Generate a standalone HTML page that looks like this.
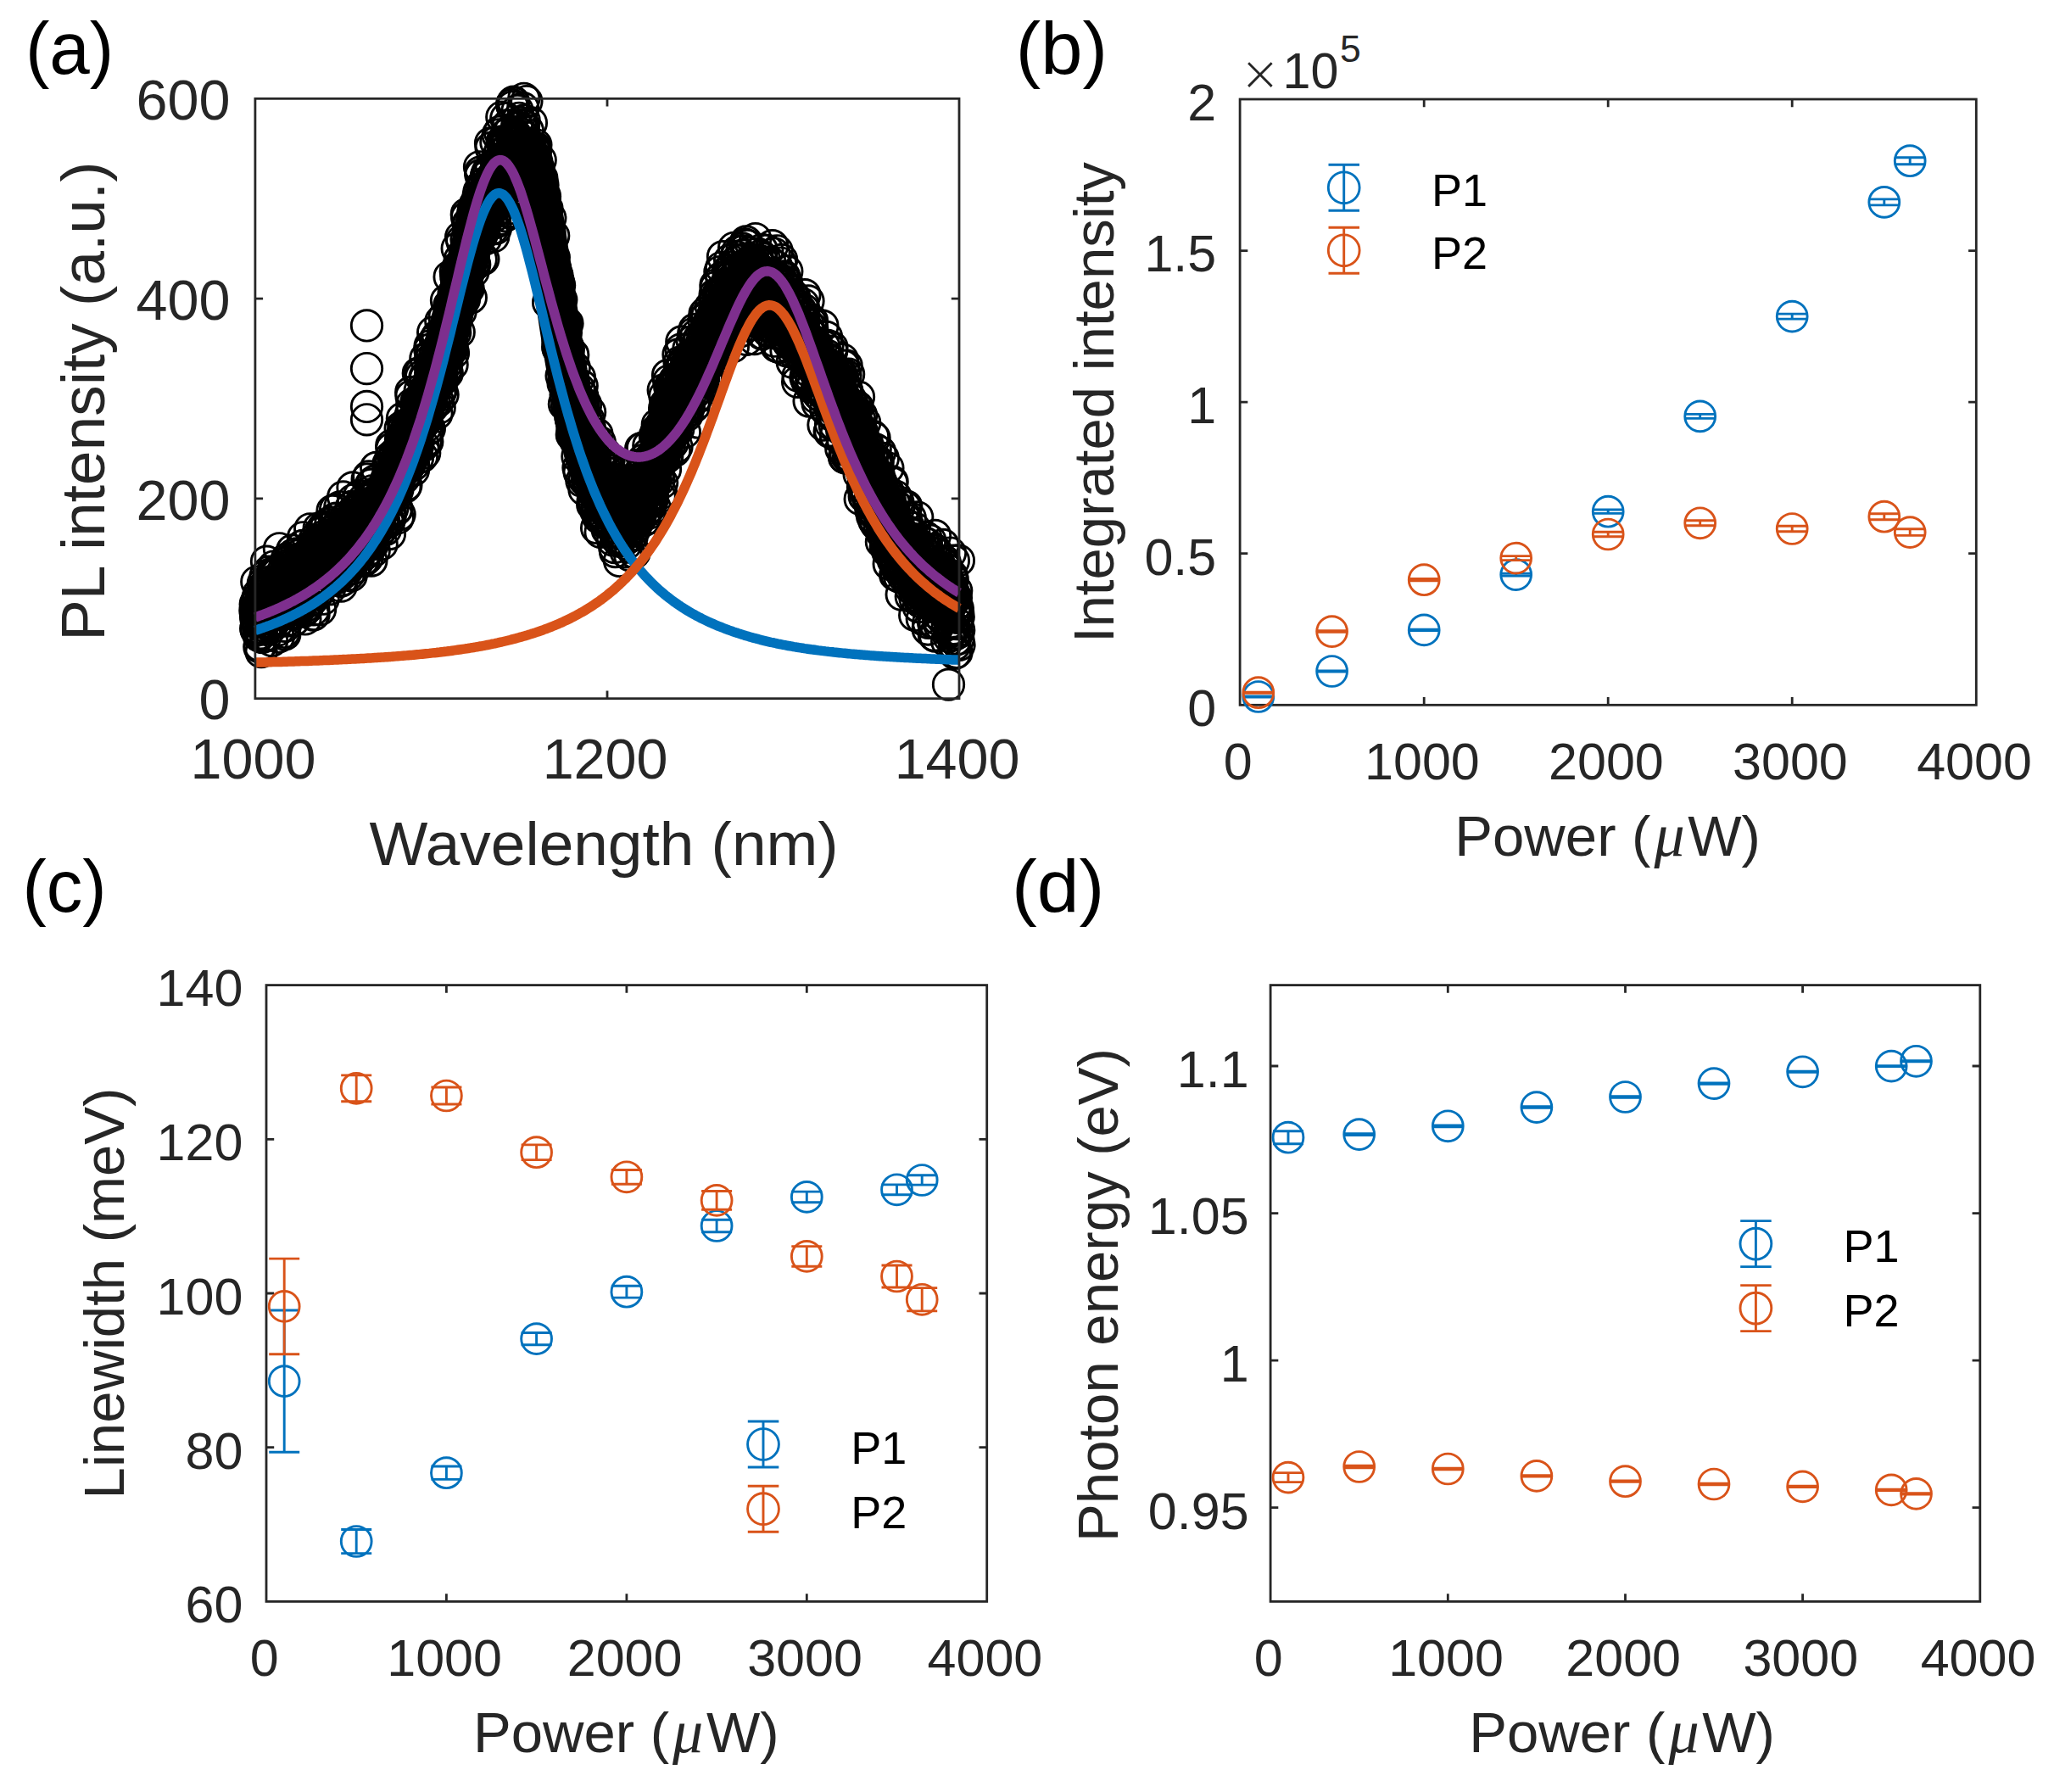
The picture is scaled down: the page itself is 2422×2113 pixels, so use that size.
<!DOCTYPE html>
<html><head><meta charset="utf-8"><title>Figure</title>
<style>html,body{margin:0;padding:0;background:#fff}svg{display:block}</style>
</head><body>
<svg width="2422" height="2113" viewBox="0 0 2422 2113" font-family="'Liberation Sans', Arial, Helvetica, sans-serif">
<rect width="2422" height="2113" fill="#fff"/>
<g id="pa">
<polyline points="300.9,719.9 303.7,718.1 306.4,716.3 309.2,714.5 312,712.6 314.7,710.8 317.5,708.9 320.3,707 323,705 325.8,703.1 328.6,701.2 331.3,699.2 334.1,697.2 336.9,695.2 339.7,693.2 342.4,691.1 345.2,689.1 348,687 350.7,685 353.5,682.9 356.3,680.8 359,678.7 361.8,676.6 364.6,674.5 367.3,672.3 370.1,670.2 372.9,668 375.6,665.8 378.4,663.6 381.2,661.4 383.9,659.1 386.7,656.8 389.5,654.4 392.2,652 395,649.5 397.8,647 400.5,644.5 403.3,641.9 406.1,639.3 408.8,636.6 411.6,634 414.4,631.3 417.2,628.6 419.9,625.9 422.7,623 425.5,620.1 428.2,617.1 431,614.1 433.8,610.9 436.5,607.6 439.3,604.2 442.1,600.6 444.8,596.9 447.6,593 450.4,589 453.1,584.7 455.9,580.2 458.7,575.4 461.4,570.3 464.2,565 467,559.4 469.7,553.6 472.5,547.6 475.3,541.4 478,535 480.8,528.4 483.6,521.7 486.4,514.8 489.1,507.8 491.9,500.6 494.7,493.4 497.4,486 500.2,478.5 503,471 505.7,463.3 508.5,455.7 511.3,447.7 514,439.4 516.8,430.6 519.6,421.5 522.3,412.2 525.1,402.6 527.9,392.8 530.6,382.9 533.4,372.9 536.2,362.9 538.9,352.9 541.7,342.9 544.5,333.1 547.2,323.3 550,313.1 552.8,302.5 555.5,291.9 558.3,281.5 561.1,271.5 563.9,262.3 566.6,254 569.4,246.5 572.2,239.4 574.9,232.7 577.7,226.5 580.5,220.6 583.2,215.2 586,209.9 588.8,204.7 591.5,199.9 594.3,195.4 597.1,191.4 599.8,188.1 602.6,185 605.4,182 608.1,179.3 610.9,177.4 613.7,176.5 616.4,177 619.2,179.2 622,182.6 624.7,187.1 627.5,192.3 630.3,201.8 633.1,215 635.8,229.8 638.6,244.7 641.4,261.5 644.1,279.8 646.9,298.8 649.7,317.7 652.4,335.6 655.2,353.2 658,371.2 660.7,389.2 663.5,406.7 666.3,423.5 669,439.1 671.8,453.2 674.6,465.8 677.3,477.7 680.1,488.9 682.9,499.5 685.6,509.6 688.4,519.1 691.2,528.2 693.9,536.9 696.7,545.4 699.5,554 702.2,562.5 705,570.7 707.8,578.3 710.6,584.9 713.3,590.2 716.1,593.9 718.9,596.9 721.6,599.6 724.4,602.1 727.2,604.3 729.9,606 732.7,607.2 735.5,607.9 738.2,607.7 741,605.9 743.8,602.8 746.5,598.9 749.3,594.4 752.1,589.9 754.8,585.4 757.6,580.2 760.4,574.4 763.1,568.1 765.9,561.4 768.7,554.4 771.4,547.4 774.2,540.3 777,532.8 779.8,524.5 782.5,515.6 785.3,506.5 788.1,497.4 790.8,488.7 793.6,480.6 796.4,473.4 799.1,467.4 801.9,462.8 804.7,459.3 807.4,456.3 810.2,453.7 813,451.2 815.7,448.5 818.5,445.5 821.3,442.1 824,438.6 826.8,434.8 829.6,430.3 832.3,424.8 835.1,415.6 837.9,402.9 840.6,389.6 843.4,378.8 846.2,372.4 848.9,367.2 851.7,362.7 854.5,358.9 857.3,355.6 860,353 862.8,351 865.6,349 868.3,347.1 871.1,345.4 873.9,343.8 876.6,342.5 879.4,341.5 882.2,340.7 884.9,340.3 887.7,340.4 890.5,340.7 893.2,341.2 896,341.9 898.8,342.8 901.5,343.9 904.3,345.1 907.1,346.3 909.8,348 912.6,350.5 915.4,353.7 918.1,357.3 920.9,361.3 923.7,365.6 926.5,370 929.2,374.5 932,378.8 934.8,382.9 937.5,387.1 940.3,391.5 943.1,396 945.8,400.6 948.6,405.4 951.4,410.2 954.1,415 956.9,419.8 959.7,424.6 962.4,429.4 965.2,434.1 968,438.6 970.7,443.1 973.5,447.3 976.3,451.3 979,455.3 981.8,459.3 984.6,463.4 987.3,467.7 990.1,472.3 992.9,477.2 995.6,482.7 998.4,488.8 1001.2,495.5 1004,502.6 1006.7,510 1009.5,517.5 1012.3,525.2 1015,532.8 1017.8,540.1 1020.6,547.3 1023.3,554.6 1026.1,562 1028.9,569.4 1031.6,576.7 1034.4,583.7 1037.2,590.4 1039.9,596.7 1042.7,602.7 1045.5,608.6 1048.2,614.3 1051,619.8 1053.8,625.1 1056.5,630.3 1059.3,635.4 1062.1,640.3 1064.8,645.2 1067.6,649.9 1070.4,654.3 1073.2,658.5 1075.9,662.2 1078.7,665.7 1081.5,669 1084.2,672.2 1087,675.2 1089.8,678.1 1092.5,680.9 1095.3,683.7 1098.1,686.4 1100.8,689 1103.6,691.7 1106.4,694.3 1109.1,696.9 1111.9,699.4 1114.7,701.9 1117.4,704.3 1120.2,706.6 1123,708.9 1125.7,711.2 1128.5,713.3" fill="none" stroke="#000" stroke-width="48" stroke-linejoin="round"/>
<g fill="none" stroke="#000" stroke-width="2.9">
<circle cx="300.9" cy="719.9" r="18.2"/><circle cx="301.2" cy="712.5" r="18.2"/><circle cx="301.5" cy="726.2" r="18.2"/><circle cx="301.7" cy="741" r="18.2"/><circle cx="302" cy="730.3" r="18.2"/><circle cx="302.3" cy="743.1" r="18.2"/><circle cx="302.6" cy="717.4" r="18.2"/><circle cx="302.8" cy="686.1" r="18.2"/><circle cx="303.1" cy="730.5" r="18.2"/><circle cx="303.4" cy="733.4" r="18.2"/><circle cx="303.7" cy="706.2" r="18.2"/><circle cx="303.9" cy="709.3" r="18.2"/><circle cx="304.2" cy="715.2" r="18.2"/><circle cx="304.5" cy="740.2" r="18.2"/><circle cx="304.8" cy="718.1" r="18.2"/><circle cx="305.1" cy="700.3" r="18.2"/><circle cx="305.3" cy="749.7" r="18.2"/><circle cx="305.6" cy="728" r="18.2"/><circle cx="305.9" cy="762.9" r="18.2"/><circle cx="306.2" cy="747.9" r="18.2"/><circle cx="306.4" cy="761.1" r="18.2"/><circle cx="306.7" cy="721.9" r="18.2"/><circle cx="307" cy="746.8" r="18.2"/><circle cx="307.3" cy="709.2" r="18.2"/><circle cx="307.5" cy="711.8" r="18.2"/><circle cx="307.8" cy="720" r="18.2"/><circle cx="308.1" cy="768.7" r="18.2"/><circle cx="308.4" cy="728.1" r="18.2"/><circle cx="308.7" cy="716" r="18.2"/><circle cx="308.9" cy="711.9" r="18.2"/><circle cx="309.2" cy="751.7" r="18.2"/><circle cx="309.5" cy="725.9" r="18.2"/><circle cx="309.8" cy="737.9" r="18.2"/><circle cx="310" cy="733.6" r="18.2"/><circle cx="310.3" cy="687.9" r="18.2"/><circle cx="310.6" cy="733.2" r="18.2"/><circle cx="310.9" cy="714.2" r="18.2"/><circle cx="311.1" cy="691.7" r="18.2"/><circle cx="311.4" cy="727.2" r="18.2"/><circle cx="311.7" cy="715.5" r="18.2"/><circle cx="312" cy="710" r="18.2"/><circle cx="312.2" cy="710.9" r="18.2"/><circle cx="312.5" cy="742.1" r="18.2"/><circle cx="312.8" cy="710.2" r="18.2"/><circle cx="313.1" cy="678.8" r="18.2"/><circle cx="313.4" cy="749.4" r="18.2"/><circle cx="313.6" cy="690.6" r="18.2"/><circle cx="313.9" cy="708.4" r="18.2"/><circle cx="314.2" cy="726.8" r="18.2"/><circle cx="314.5" cy="662.2" r="18.2"/><circle cx="314.7" cy="692.2" r="18.2"/><circle cx="315" cy="739.8" r="18.2"/><circle cx="315.3" cy="708.6" r="18.2"/><circle cx="315.6" cy="696.2" r="18.2"/><circle cx="315.8" cy="714.6" r="18.2"/><circle cx="316.1" cy="693.2" r="18.2"/><circle cx="316.4" cy="711.3" r="18.2"/><circle cx="316.7" cy="693.2" r="18.2"/><circle cx="317" cy="674.2" r="18.2"/><circle cx="317.2" cy="725.5" r="18.2"/><circle cx="317.5" cy="703.9" r="18.2"/><circle cx="317.8" cy="720" r="18.2"/><circle cx="318.1" cy="705.4" r="18.2"/><circle cx="318.3" cy="737.2" r="18.2"/><circle cx="318.6" cy="722.2" r="18.2"/><circle cx="318.9" cy="712.7" r="18.2"/><circle cx="319.2" cy="685.8" r="18.2"/><circle cx="319.4" cy="679.6" r="18.2"/><circle cx="319.7" cy="739.6" r="18.2"/><circle cx="320" cy="726.5" r="18.2"/><circle cx="320.3" cy="691.2" r="18.2"/><circle cx="320.6" cy="755.4" r="18.2"/><circle cx="320.8" cy="717.9" r="18.2"/><circle cx="321.1" cy="708.8" r="18.2"/><circle cx="321.4" cy="675.6" r="18.2"/><circle cx="321.7" cy="689.2" r="18.2"/><circle cx="321.9" cy="713.8" r="18.2"/><circle cx="322.2" cy="714.6" r="18.2"/><circle cx="322.5" cy="711.5" r="18.2"/><circle cx="322.8" cy="668.1" r="18.2"/><circle cx="323" cy="715.5" r="18.2"/><circle cx="323.3" cy="712.3" r="18.2"/><circle cx="323.6" cy="696.1" r="18.2"/><circle cx="323.9" cy="707.4" r="18.2"/><circle cx="324.2" cy="709.1" r="18.2"/><circle cx="324.4" cy="731.3" r="18.2"/><circle cx="324.7" cy="704.2" r="18.2"/><circle cx="325" cy="714.5" r="18.2"/><circle cx="325.3" cy="675" r="18.2"/><circle cx="325.5" cy="687.4" r="18.2"/><circle cx="325.8" cy="703.7" r="18.2"/><circle cx="326.1" cy="686.6" r="18.2"/><circle cx="326.4" cy="711" r="18.2"/><circle cx="326.6" cy="676.8" r="18.2"/><circle cx="326.9" cy="702.5" r="18.2"/><circle cx="327.2" cy="687.9" r="18.2"/><circle cx="327.5" cy="733.4" r="18.2"/><circle cx="327.7" cy="693.3" r="18.2"/><circle cx="328" cy="742.8" r="18.2"/><circle cx="328.3" cy="751" r="18.2"/><circle cx="328.6" cy="708.6" r="18.2"/><circle cx="328.9" cy="722.9" r="18.2"/><circle cx="329.1" cy="696.8" r="18.2"/><circle cx="329.4" cy="646.8" r="18.2"/><circle cx="329.7" cy="720.7" r="18.2"/><circle cx="330" cy="715.4" r="18.2"/><circle cx="330.2" cy="695" r="18.2"/><circle cx="330.5" cy="687.7" r="18.2"/><circle cx="330.8" cy="703.9" r="18.2"/><circle cx="331.1" cy="704.4" r="18.2"/><circle cx="331.3" cy="682" r="18.2"/><circle cx="331.6" cy="686.3" r="18.2"/><circle cx="331.9" cy="724" r="18.2"/><circle cx="332.2" cy="700.5" r="18.2"/><circle cx="332.5" cy="697.5" r="18.2"/><circle cx="332.7" cy="724" r="18.2"/><circle cx="333" cy="691.6" r="18.2"/><circle cx="333.3" cy="718.8" r="18.2"/><circle cx="333.6" cy="673.8" r="18.2"/><circle cx="333.8" cy="692.7" r="18.2"/><circle cx="334.1" cy="695" r="18.2"/><circle cx="334.4" cy="711.4" r="18.2"/><circle cx="334.7" cy="699.7" r="18.2"/><circle cx="334.9" cy="745.4" r="18.2"/><circle cx="335.2" cy="724.1" r="18.2"/><circle cx="335.5" cy="687.3" r="18.2"/><circle cx="335.8" cy="748" r="18.2"/><circle cx="336.1" cy="675.1" r="18.2"/><circle cx="336.3" cy="738.3" r="18.2"/><circle cx="336.6" cy="676.9" r="18.2"/><circle cx="336.9" cy="715.9" r="18.2"/><circle cx="337.2" cy="675.9" r="18.2"/><circle cx="337.4" cy="691.6" r="18.2"/><circle cx="337.7" cy="732.2" r="18.2"/><circle cx="338" cy="663.8" r="18.2"/><circle cx="338.3" cy="658.9" r="18.2"/><circle cx="338.5" cy="695.6" r="18.2"/><circle cx="338.8" cy="700.5" r="18.2"/><circle cx="339.1" cy="697.5" r="18.2"/><circle cx="339.4" cy="717.2" r="18.2"/><circle cx="339.7" cy="666.3" r="18.2"/><circle cx="339.9" cy="706.3" r="18.2"/><circle cx="340.2" cy="694" r="18.2"/><circle cx="340.5" cy="712" r="18.2"/><circle cx="340.8" cy="707.7" r="18.2"/><circle cx="341" cy="723.4" r="18.2"/><circle cx="341.3" cy="661.2" r="18.2"/><circle cx="341.6" cy="695.5" r="18.2"/><circle cx="341.9" cy="667.9" r="18.2"/><circle cx="342.1" cy="691" r="18.2"/><circle cx="342.4" cy="708.1" r="18.2"/><circle cx="342.7" cy="698.9" r="18.2"/><circle cx="343" cy="704.4" r="18.2"/><circle cx="343.2" cy="690.3" r="18.2"/><circle cx="343.5" cy="699.5" r="18.2"/><circle cx="343.8" cy="697.5" r="18.2"/><circle cx="344.1" cy="723.7" r="18.2"/><circle cx="344.4" cy="709.5" r="18.2"/><circle cx="344.6" cy="649" r="18.2"/><circle cx="344.9" cy="705.7" r="18.2"/><circle cx="345.2" cy="714.9" r="18.2"/><circle cx="345.5" cy="680.6" r="18.2"/><circle cx="345.7" cy="654.2" r="18.2"/><circle cx="346" cy="724.1" r="18.2"/><circle cx="346.3" cy="693.4" r="18.2"/><circle cx="346.6" cy="703.6" r="18.2"/><circle cx="346.8" cy="731" r="18.2"/><circle cx="347.1" cy="669.6" r="18.2"/><circle cx="347.4" cy="688" r="18.2"/><circle cx="347.7" cy="685.5" r="18.2"/><circle cx="348" cy="705.5" r="18.2"/><circle cx="348.2" cy="675.7" r="18.2"/><circle cx="348.5" cy="699.8" r="18.2"/><circle cx="348.8" cy="689.9" r="18.2"/><circle cx="349.1" cy="713.4" r="18.2"/><circle cx="349.3" cy="715.8" r="18.2"/><circle cx="349.6" cy="653" r="18.2"/><circle cx="349.9" cy="698" r="18.2"/><circle cx="350.2" cy="678.2" r="18.2"/><circle cx="350.4" cy="686" r="18.2"/><circle cx="350.7" cy="695.8" r="18.2"/><circle cx="351" cy="697.2" r="18.2"/><circle cx="351.3" cy="669.1" r="18.2"/><circle cx="351.6" cy="691.7" r="18.2"/><circle cx="351.8" cy="687.8" r="18.2"/><circle cx="352.1" cy="683.4" r="18.2"/><circle cx="352.4" cy="654.8" r="18.2"/><circle cx="352.7" cy="666.8" r="18.2"/><circle cx="352.9" cy="673.9" r="18.2"/><circle cx="353.2" cy="696.9" r="18.2"/><circle cx="353.5" cy="716.8" r="18.2"/><circle cx="353.8" cy="659.4" r="18.2"/><circle cx="354" cy="658.7" r="18.2"/><circle cx="354.3" cy="685.7" r="18.2"/><circle cx="354.6" cy="668.7" r="18.2"/><circle cx="354.9" cy="662.6" r="18.2"/><circle cx="355.2" cy="661.2" r="18.2"/><circle cx="355.4" cy="658.8" r="18.2"/><circle cx="355.7" cy="692.4" r="18.2"/><circle cx="356" cy="643.8" r="18.2"/><circle cx="356.3" cy="711.4" r="18.2"/><circle cx="356.5" cy="659.4" r="18.2"/><circle cx="356.8" cy="668.2" r="18.2"/><circle cx="357.1" cy="658.7" r="18.2"/><circle cx="357.4" cy="633.8" r="18.2"/><circle cx="357.6" cy="643.3" r="18.2"/><circle cx="357.9" cy="707.6" r="18.2"/><circle cx="358.2" cy="720.8" r="18.2"/><circle cx="358.5" cy="659" r="18.2"/><circle cx="358.7" cy="703.8" r="18.2"/><circle cx="359" cy="679" r="18.2"/><circle cx="359.3" cy="657.8" r="18.2"/><circle cx="359.6" cy="718.6" r="18.2"/><circle cx="359.9" cy="729.9" r="18.2"/><circle cx="360.1" cy="671.5" r="18.2"/><circle cx="360.4" cy="676.5" r="18.2"/><circle cx="360.7" cy="683.5" r="18.2"/><circle cx="361" cy="676.3" r="18.2"/><circle cx="361.2" cy="698.1" r="18.2"/><circle cx="361.5" cy="714" r="18.2"/><circle cx="361.8" cy="680.7" r="18.2"/><circle cx="362.1" cy="700.3" r="18.2"/><circle cx="362.3" cy="716.6" r="18.2"/><circle cx="362.6" cy="663.5" r="18.2"/><circle cx="362.9" cy="677.2" r="18.2"/><circle cx="363.2" cy="665.5" r="18.2"/><circle cx="363.5" cy="699.6" r="18.2"/><circle cx="363.7" cy="691.3" r="18.2"/><circle cx="364" cy="699.5" r="18.2"/><circle cx="364.3" cy="696.5" r="18.2"/><circle cx="364.6" cy="669.7" r="18.2"/><circle cx="364.8" cy="693.5" r="18.2"/><circle cx="365.1" cy="665.3" r="18.2"/><circle cx="365.4" cy="665.5" r="18.2"/><circle cx="365.7" cy="623.8" r="18.2"/><circle cx="365.9" cy="707.7" r="18.2"/><circle cx="366.2" cy="651.3" r="18.2"/><circle cx="366.5" cy="675.2" r="18.2"/><circle cx="366.8" cy="673.1" r="18.2"/><circle cx="367.1" cy="708.2" r="18.2"/><circle cx="367.3" cy="683.7" r="18.2"/><circle cx="367.6" cy="653.8" r="18.2"/><circle cx="367.9" cy="673.9" r="18.2"/><circle cx="368.2" cy="669.7" r="18.2"/><circle cx="368.4" cy="678.6" r="18.2"/><circle cx="368.7" cy="642.8" r="18.2"/><circle cx="369" cy="671.6" r="18.2"/><circle cx="369.3" cy="725" r="18.2"/><circle cx="369.5" cy="687.7" r="18.2"/><circle cx="369.8" cy="718.9" r="18.2"/><circle cx="370.1" cy="724.4" r="18.2"/><circle cx="370.4" cy="683" r="18.2"/><circle cx="370.7" cy="636.9" r="18.2"/><circle cx="370.9" cy="668.4" r="18.2"/><circle cx="371.2" cy="698.2" r="18.2"/><circle cx="371.5" cy="692.3" r="18.2"/><circle cx="371.8" cy="641" r="18.2"/><circle cx="372" cy="664.8" r="18.2"/><circle cx="372.3" cy="667.3" r="18.2"/><circle cx="372.6" cy="669.6" r="18.2"/><circle cx="372.9" cy="667.1" r="18.2"/><circle cx="373.1" cy="648" r="18.2"/><circle cx="373.4" cy="654" r="18.2"/><circle cx="373.7" cy="662.1" r="18.2"/><circle cx="374" cy="692.9" r="18.2"/><circle cx="374.2" cy="654.3" r="18.2"/><circle cx="374.5" cy="683.6" r="18.2"/><circle cx="374.8" cy="639.5" r="18.2"/><circle cx="375.1" cy="697.6" r="18.2"/><circle cx="375.4" cy="669.5" r="18.2"/><circle cx="375.6" cy="666" r="18.2"/><circle cx="375.9" cy="698.3" r="18.2"/><circle cx="376.2" cy="622.9" r="18.2"/><circle cx="376.5" cy="629.2" r="18.2"/><circle cx="376.7" cy="676.4" r="18.2"/><circle cx="377" cy="645.7" r="18.2"/><circle cx="377.3" cy="655.2" r="18.2"/><circle cx="377.6" cy="718.6" r="18.2"/><circle cx="377.8" cy="657.9" r="18.2"/><circle cx="378.1" cy="665.4" r="18.2"/><circle cx="378.4" cy="661.6" r="18.2"/><circle cx="378.7" cy="690" r="18.2"/><circle cx="379" cy="669.8" r="18.2"/><circle cx="379.2" cy="667.4" r="18.2"/><circle cx="379.5" cy="633.4" r="18.2"/><circle cx="379.8" cy="654.3" r="18.2"/><circle cx="380.1" cy="662.4" r="18.2"/><circle cx="380.3" cy="624.3" r="18.2"/><circle cx="380.6" cy="675.5" r="18.2"/><circle cx="380.9" cy="671.2" r="18.2"/><circle cx="381.2" cy="706.2" r="18.2"/><circle cx="381.4" cy="622.4" r="18.2"/><circle cx="381.7" cy="637.1" r="18.2"/><circle cx="382" cy="638.1" r="18.2"/><circle cx="382.3" cy="644" r="18.2"/><circle cx="382.6" cy="657.5" r="18.2"/><circle cx="382.8" cy="654.7" r="18.2"/><circle cx="383.1" cy="666" r="18.2"/><circle cx="383.4" cy="664.6" r="18.2"/><circle cx="383.7" cy="658" r="18.2"/><circle cx="383.9" cy="621.8" r="18.2"/><circle cx="384.2" cy="645.1" r="18.2"/><circle cx="384.5" cy="660.1" r="18.2"/><circle cx="384.8" cy="672.7" r="18.2"/><circle cx="385" cy="673.9" r="18.2"/><circle cx="385.3" cy="618.3" r="18.2"/><circle cx="385.6" cy="645.2" r="18.2"/><circle cx="385.9" cy="655.8" r="18.2"/><circle cx="386.2" cy="665.8" r="18.2"/><circle cx="386.4" cy="684.4" r="18.2"/><circle cx="386.7" cy="658.4" r="18.2"/><circle cx="387" cy="635" r="18.2"/><circle cx="387.3" cy="666" r="18.2"/><circle cx="387.5" cy="661.7" r="18.2"/><circle cx="387.8" cy="661.3" r="18.2"/><circle cx="388.1" cy="652.9" r="18.2"/><circle cx="388.4" cy="694.8" r="18.2"/><circle cx="388.6" cy="661" r="18.2"/><circle cx="388.9" cy="676" r="18.2"/><circle cx="389.2" cy="632.8" r="18.2"/><circle cx="389.5" cy="673.5" r="18.2"/><circle cx="389.8" cy="639.9" r="18.2"/><circle cx="390" cy="616.2" r="18.2"/><circle cx="390.3" cy="661.5" r="18.2"/><circle cx="390.6" cy="668.3" r="18.2"/><circle cx="390.9" cy="648.5" r="18.2"/><circle cx="391.1" cy="653" r="18.2"/><circle cx="391.4" cy="677.3" r="18.2"/><circle cx="391.7" cy="641.1" r="18.2"/><circle cx="392" cy="602.4" r="18.2"/><circle cx="392.2" cy="658.4" r="18.2"/><circle cx="392.5" cy="656.8" r="18.2"/><circle cx="392.8" cy="677.4" r="18.2"/><circle cx="393.1" cy="643.4" r="18.2"/><circle cx="393.3" cy="681.9" r="18.2"/><circle cx="393.6" cy="678.2" r="18.2"/><circle cx="393.9" cy="618.9" r="18.2"/><circle cx="394.2" cy="672.7" r="18.2"/><circle cx="394.5" cy="623.3" r="18.2"/><circle cx="394.7" cy="612" r="18.2"/><circle cx="395" cy="643.1" r="18.2"/><circle cx="395.3" cy="635.6" r="18.2"/><circle cx="395.6" cy="600.7" r="18.2"/><circle cx="395.8" cy="653.7" r="18.2"/><circle cx="396.1" cy="663.2" r="18.2"/><circle cx="396.4" cy="681.8" r="18.2"/><circle cx="396.7" cy="647" r="18.2"/><circle cx="396.9" cy="611.1" r="18.2"/><circle cx="397.2" cy="623.8" r="18.2"/><circle cx="397.5" cy="670.6" r="18.2"/><circle cx="397.8" cy="668.2" r="18.2"/><circle cx="398.1" cy="659.3" r="18.2"/><circle cx="398.3" cy="639.3" r="18.2"/><circle cx="398.6" cy="651.4" r="18.2"/><circle cx="398.9" cy="640.7" r="18.2"/><circle cx="399.2" cy="638.4" r="18.2"/><circle cx="399.4" cy="652.9" r="18.2"/><circle cx="399.7" cy="646.2" r="18.2"/><circle cx="400" cy="639.9" r="18.2"/><circle cx="400.3" cy="646.8" r="18.2"/><circle cx="400.5" cy="632" r="18.2"/><circle cx="400.8" cy="597.8" r="18.2"/><circle cx="401.1" cy="629.3" r="18.2"/><circle cx="401.4" cy="642.3" r="18.2"/><circle cx="401.7" cy="685.3" r="18.2"/><circle cx="401.9" cy="633.5" r="18.2"/><circle cx="402.2" cy="691.2" r="18.2"/><circle cx="402.5" cy="677.6" r="18.2"/><circle cx="402.8" cy="621.2" r="18.2"/><circle cx="403" cy="624.6" r="18.2"/><circle cx="403.3" cy="645.6" r="18.2"/><circle cx="403.6" cy="684" r="18.2"/><circle cx="403.9" cy="650.6" r="18.2"/><circle cx="404.1" cy="657.9" r="18.2"/><circle cx="404.4" cy="625" r="18.2"/><circle cx="404.7" cy="585.9" r="18.2"/><circle cx="405" cy="634.9" r="18.2"/><circle cx="405.3" cy="659.4" r="18.2"/><circle cx="405.5" cy="668.9" r="18.2"/><circle cx="405.8" cy="640.9" r="18.2"/><circle cx="406.1" cy="643.7" r="18.2"/><circle cx="406.4" cy="667.6" r="18.2"/><circle cx="406.6" cy="635.8" r="18.2"/><circle cx="406.9" cy="667.1" r="18.2"/><circle cx="407.2" cy="610.6" r="18.2"/><circle cx="407.5" cy="611.6" r="18.2"/><circle cx="407.7" cy="610.7" r="18.2"/><circle cx="408" cy="649.2" r="18.2"/><circle cx="408.3" cy="624.4" r="18.2"/><circle cx="408.6" cy="640.2" r="18.2"/><circle cx="408.8" cy="646.3" r="18.2"/><circle cx="409.1" cy="644.8" r="18.2"/><circle cx="409.4" cy="668.4" r="18.2"/><circle cx="409.7" cy="671.8" r="18.2"/><circle cx="410" cy="615.8" r="18.2"/><circle cx="410.2" cy="640.1" r="18.2"/><circle cx="410.5" cy="629.7" r="18.2"/><circle cx="410.8" cy="609.9" r="18.2"/><circle cx="411.1" cy="677.6" r="18.2"/><circle cx="411.3" cy="653.8" r="18.2"/><circle cx="411.6" cy="629.7" r="18.2"/><circle cx="411.9" cy="624" r="18.2"/><circle cx="412.2" cy="642.9" r="18.2"/><circle cx="412.4" cy="607.6" r="18.2"/><circle cx="412.7" cy="627.7" r="18.2"/><circle cx="413" cy="662.9" r="18.2"/><circle cx="413.3" cy="655.6" r="18.2"/><circle cx="413.6" cy="612.1" r="18.2"/><circle cx="413.8" cy="620.3" r="18.2"/><circle cx="414.1" cy="678.9" r="18.2"/><circle cx="414.4" cy="597.8" r="18.2"/><circle cx="414.7" cy="616.2" r="18.2"/><circle cx="414.9" cy="597.4" r="18.2"/><circle cx="415.2" cy="640.1" r="18.2"/><circle cx="415.5" cy="637.6" r="18.2"/><circle cx="415.8" cy="658" r="18.2"/><circle cx="416" cy="574.9" r="18.2"/><circle cx="416.3" cy="633.8" r="18.2"/><circle cx="416.6" cy="589.6" r="18.2"/><circle cx="416.9" cy="645" r="18.2"/><circle cx="417.2" cy="624.5" r="18.2"/><circle cx="417.4" cy="670" r="18.2"/><circle cx="417.7" cy="637.6" r="18.2"/><circle cx="418" cy="603.3" r="18.2"/><circle cx="418.3" cy="658.7" r="18.2"/><circle cx="418.5" cy="600.5" r="18.2"/><circle cx="418.8" cy="618.6" r="18.2"/><circle cx="419.1" cy="652.7" r="18.2"/><circle cx="419.4" cy="638.9" r="18.2"/><circle cx="419.6" cy="637.6" r="18.2"/><circle cx="419.9" cy="627.1" r="18.2"/><circle cx="420.2" cy="639" r="18.2"/><circle cx="420.5" cy="645.9" r="18.2"/><circle cx="420.8" cy="632.6" r="18.2"/><circle cx="421" cy="650.3" r="18.2"/><circle cx="421.3" cy="656.6" r="18.2"/><circle cx="421.6" cy="625.4" r="18.2"/><circle cx="421.9" cy="601.9" r="18.2"/><circle cx="422.1" cy="661.8" r="18.2"/><circle cx="422.4" cy="623.2" r="18.2"/><circle cx="422.7" cy="639.3" r="18.2"/><circle cx="423" cy="647.1" r="18.2"/><circle cx="423.2" cy="601.2" r="18.2"/><circle cx="423.5" cy="635.1" r="18.2"/><circle cx="423.8" cy="584.5" r="18.2"/><circle cx="424.1" cy="641.1" r="18.2"/><circle cx="424.3" cy="611.7" r="18.2"/><circle cx="424.6" cy="626.7" r="18.2"/><circle cx="424.9" cy="639.5" r="18.2"/><circle cx="425.2" cy="605.8" r="18.2"/><circle cx="425.5" cy="624" r="18.2"/><circle cx="425.7" cy="604.8" r="18.2"/><circle cx="426" cy="620.7" r="18.2"/><circle cx="426.3" cy="646.4" r="18.2"/><circle cx="426.6" cy="621.5" r="18.2"/><circle cx="426.8" cy="617.4" r="18.2"/><circle cx="427.1" cy="594.4" r="18.2"/><circle cx="427.4" cy="640.7" r="18.2"/><circle cx="427.7" cy="618.7" r="18.2"/><circle cx="427.9" cy="660.5" r="18.2"/><circle cx="428.2" cy="600.9" r="18.2"/><circle cx="428.5" cy="643.9" r="18.2"/><circle cx="428.8" cy="661.7" r="18.2"/><circle cx="429.1" cy="617.7" r="18.2"/><circle cx="429.3" cy="588.3" r="18.2"/><circle cx="429.6" cy="653.7" r="18.2"/><circle cx="429.9" cy="642.5" r="18.2"/><circle cx="430.2" cy="633.6" r="18.2"/><circle cx="430.4" cy="642.9" r="18.2"/><circle cx="430.7" cy="604.9" r="18.2"/><circle cx="431" cy="634.3" r="18.2"/><circle cx="431.3" cy="631.8" r="18.2"/><circle cx="431.5" cy="598.8" r="18.2"/><circle cx="431.8" cy="632" r="18.2"/><circle cx="432.1" cy="602" r="18.2"/><circle cx="432.4" cy="636.8" r="18.2"/><circle cx="432.7" cy="642.5" r="18.2"/><circle cx="432.9" cy="657.8" r="18.2"/><circle cx="433.2" cy="564.9" r="18.2"/><circle cx="433.5" cy="619.2" r="18.2"/><circle cx="433.8" cy="604.8" r="18.2"/><circle cx="434" cy="611.3" r="18.2"/><circle cx="434.3" cy="606.2" r="18.2"/><circle cx="434.6" cy="608.7" r="18.2"/><circle cx="434.9" cy="561.8" r="18.2"/><circle cx="435.1" cy="635.3" r="18.2"/><circle cx="435.4" cy="647.9" r="18.2"/><circle cx="435.7" cy="633.9" r="18.2"/><circle cx="436" cy="641.7" r="18.2"/><circle cx="436.3" cy="589.2" r="18.2"/><circle cx="436.5" cy="587" r="18.2"/><circle cx="436.8" cy="631.3" r="18.2"/><circle cx="437.1" cy="641.8" r="18.2"/><circle cx="437.4" cy="615.5" r="18.2"/><circle cx="437.6" cy="571.4" r="18.2"/><circle cx="437.9" cy="661" r="18.2"/><circle cx="438.2" cy="592.3" r="18.2"/><circle cx="438.5" cy="632.2" r="18.2"/><circle cx="438.7" cy="578.8" r="18.2"/><circle cx="439" cy="631.5" r="18.2"/><circle cx="439.3" cy="611.3" r="18.2"/><circle cx="439.6" cy="641.6" r="18.2"/><circle cx="439.8" cy="628" r="18.2"/><circle cx="440.1" cy="568.3" r="18.2"/><circle cx="440.4" cy="582.2" r="18.2"/><circle cx="440.7" cy="612.5" r="18.2"/><circle cx="441" cy="623.9" r="18.2"/><circle cx="441.2" cy="649.2" r="18.2"/><circle cx="441.5" cy="611.2" r="18.2"/><circle cx="441.8" cy="601.7" r="18.2"/><circle cx="442.1" cy="602.7" r="18.2"/><circle cx="442.3" cy="602.6" r="18.2"/><circle cx="442.6" cy="628" r="18.2"/><circle cx="442.9" cy="601.2" r="18.2"/><circle cx="443.2" cy="600.1" r="18.2"/><circle cx="443.4" cy="566.4" r="18.2"/><circle cx="443.7" cy="551.5" r="18.2"/><circle cx="444" cy="601.5" r="18.2"/><circle cx="444.3" cy="616.9" r="18.2"/><circle cx="444.6" cy="598.9" r="18.2"/><circle cx="444.8" cy="612.2" r="18.2"/><circle cx="445.1" cy="615.2" r="18.2"/><circle cx="445.4" cy="597.6" r="18.2"/><circle cx="445.7" cy="622" r="18.2"/><circle cx="445.9" cy="580.1" r="18.2"/><circle cx="446.2" cy="597.6" r="18.2"/><circle cx="446.5" cy="588.3" r="18.2"/><circle cx="446.8" cy="598.8" r="18.2"/><circle cx="447" cy="612.1" r="18.2"/><circle cx="447.3" cy="617.3" r="18.2"/><circle cx="447.6" cy="599" r="18.2"/><circle cx="447.9" cy="606.4" r="18.2"/><circle cx="448.2" cy="586.4" r="18.2"/><circle cx="448.4" cy="592" r="18.2"/><circle cx="448.7" cy="625.7" r="18.2"/><circle cx="449" cy="589.4" r="18.2"/><circle cx="449.3" cy="624.4" r="18.2"/><circle cx="449.5" cy="605.7" r="18.2"/><circle cx="449.8" cy="597.2" r="18.2"/><circle cx="450.1" cy="641.7" r="18.2"/><circle cx="450.4" cy="586.7" r="18.2"/><circle cx="450.6" cy="584.8" r="18.2"/><circle cx="450.9" cy="592.2" r="18.2"/><circle cx="451.2" cy="598.4" r="18.2"/><circle cx="451.5" cy="596.7" r="18.2"/><circle cx="451.8" cy="611.5" r="18.2"/><circle cx="452" cy="593.3" r="18.2"/><circle cx="452.3" cy="600" r="18.2"/><circle cx="452.6" cy="583.3" r="18.2"/><circle cx="452.9" cy="615.5" r="18.2"/><circle cx="453.1" cy="578.8" r="18.2"/><circle cx="453.4" cy="580.7" r="18.2"/><circle cx="453.7" cy="587.4" r="18.2"/><circle cx="454" cy="594.5" r="18.2"/><circle cx="454.2" cy="569" r="18.2"/><circle cx="454.5" cy="624.5" r="18.2"/><circle cx="454.8" cy="570.4" r="18.2"/><circle cx="455.1" cy="575.5" r="18.2"/><circle cx="455.4" cy="574" r="18.2"/><circle cx="455.6" cy="571" r="18.2"/><circle cx="455.9" cy="596.7" r="18.2"/><circle cx="456.2" cy="586.3" r="18.2"/><circle cx="456.5" cy="563.2" r="18.2"/><circle cx="456.7" cy="567.9" r="18.2"/><circle cx="457" cy="573.1" r="18.2"/><circle cx="457.3" cy="616.1" r="18.2"/><circle cx="457.6" cy="563.7" r="18.2"/><circle cx="457.8" cy="547.3" r="18.2"/><circle cx="458.1" cy="550.8" r="18.2"/><circle cx="458.4" cy="570" r="18.2"/><circle cx="458.7" cy="614.7" r="18.2"/><circle cx="458.9" cy="551.1" r="18.2"/><circle cx="459.2" cy="578.1" r="18.2"/><circle cx="459.5" cy="629.5" r="18.2"/><circle cx="459.8" cy="563.8" r="18.2"/><circle cx="460.1" cy="610.6" r="18.2"/><circle cx="460.3" cy="605.1" r="18.2"/><circle cx="460.6" cy="587.9" r="18.2"/><circle cx="460.9" cy="539.1" r="18.2"/><circle cx="461.2" cy="580.2" r="18.2"/><circle cx="461.4" cy="563.4" r="18.2"/><circle cx="461.7" cy="525.5" r="18.2"/><circle cx="462" cy="528.9" r="18.2"/><circle cx="462.3" cy="571.3" r="18.2"/><circle cx="462.5" cy="574.3" r="18.2"/><circle cx="462.8" cy="599.6" r="18.2"/><circle cx="463.1" cy="584.7" r="18.2"/><circle cx="463.4" cy="555.8" r="18.2"/><circle cx="463.7" cy="556" r="18.2"/><circle cx="463.9" cy="562.7" r="18.2"/><circle cx="464.2" cy="539.8" r="18.2"/><circle cx="464.5" cy="584" r="18.2"/><circle cx="464.8" cy="565.3" r="18.2"/><circle cx="465" cy="544.8" r="18.2"/><circle cx="465.3" cy="548" r="18.2"/><circle cx="465.6" cy="535" r="18.2"/><circle cx="465.9" cy="551.6" r="18.2"/><circle cx="466.1" cy="568.9" r="18.2"/><circle cx="466.4" cy="551.3" r="18.2"/><circle cx="466.7" cy="585.4" r="18.2"/><circle cx="467" cy="601" r="18.2"/><circle cx="467.3" cy="544.1" r="18.2"/><circle cx="467.5" cy="559.7" r="18.2"/><circle cx="467.8" cy="549.9" r="18.2"/><circle cx="468.1" cy="600.2" r="18.2"/><circle cx="468.4" cy="565.8" r="18.2"/><circle cx="468.6" cy="571.2" r="18.2"/><circle cx="468.9" cy="577.3" r="18.2"/><circle cx="469.2" cy="610.7" r="18.2"/><circle cx="469.5" cy="562.7" r="18.2"/><circle cx="469.7" cy="530.8" r="18.2"/><circle cx="470" cy="543.3" r="18.2"/><circle cx="470.3" cy="567.7" r="18.2"/><circle cx="470.6" cy="552.2" r="18.2"/><circle cx="470.9" cy="532" r="18.2"/><circle cx="471.1" cy="606.6" r="18.2"/><circle cx="471.4" cy="553.2" r="18.2"/><circle cx="471.7" cy="535.6" r="18.2"/><circle cx="472" cy="531.5" r="18.2"/><circle cx="472.2" cy="504.9" r="18.2"/><circle cx="472.5" cy="518.7" r="18.2"/><circle cx="472.8" cy="539" r="18.2"/><circle cx="473.1" cy="538.7" r="18.2"/><circle cx="473.3" cy="525.7" r="18.2"/><circle cx="473.6" cy="558.9" r="18.2"/><circle cx="473.9" cy="545.5" r="18.2"/><circle cx="474.2" cy="520.8" r="18.2"/><circle cx="474.4" cy="493.4" r="18.2"/><circle cx="474.7" cy="546.7" r="18.2"/><circle cx="475" cy="543.3" r="18.2"/><circle cx="475.3" cy="536.3" r="18.2"/><circle cx="475.6" cy="506.5" r="18.2"/><circle cx="475.8" cy="540.9" r="18.2"/><circle cx="476.1" cy="502" r="18.2"/><circle cx="476.4" cy="563.5" r="18.2"/><circle cx="476.7" cy="543" r="18.2"/><circle cx="476.9" cy="542.6" r="18.2"/><circle cx="477.2" cy="516.9" r="18.2"/><circle cx="477.5" cy="509.6" r="18.2"/><circle cx="477.8" cy="574.2" r="18.2"/><circle cx="478" cy="558.4" r="18.2"/><circle cx="478.3" cy="525.7" r="18.2"/><circle cx="478.6" cy="550.5" r="18.2"/><circle cx="478.9" cy="572" r="18.2"/><circle cx="479.2" cy="505.8" r="18.2"/><circle cx="479.4" cy="519.1" r="18.2"/><circle cx="479.7" cy="518.5" r="18.2"/><circle cx="480" cy="542.6" r="18.2"/><circle cx="480.3" cy="503.4" r="18.2"/><circle cx="480.5" cy="535.2" r="18.2"/><circle cx="480.8" cy="500.4" r="18.2"/><circle cx="481.1" cy="551.1" r="18.2"/><circle cx="481.4" cy="549" r="18.2"/><circle cx="481.6" cy="521.2" r="18.2"/><circle cx="481.9" cy="543.7" r="18.2"/><circle cx="482.2" cy="507.8" r="18.2"/><circle cx="482.5" cy="517.7" r="18.2"/><circle cx="482.8" cy="547.4" r="18.2"/><circle cx="483" cy="521.2" r="18.2"/><circle cx="483.3" cy="531.4" r="18.2"/><circle cx="483.6" cy="498.2" r="18.2"/><circle cx="483.9" cy="537.2" r="18.2"/><circle cx="484.1" cy="531.6" r="18.2"/><circle cx="484.4" cy="488.6" r="18.2"/><circle cx="484.7" cy="462.5" r="18.2"/><circle cx="485" cy="467" r="18.2"/><circle cx="485.2" cy="516" r="18.2"/><circle cx="485.5" cy="511.3" r="18.2"/><circle cx="485.8" cy="476.8" r="18.2"/><circle cx="486.1" cy="518.7" r="18.2"/><circle cx="486.4" cy="539.9" r="18.2"/><circle cx="486.6" cy="511.1" r="18.2"/><circle cx="486.9" cy="501.8" r="18.2"/><circle cx="487.2" cy="534" r="18.2"/><circle cx="487.5" cy="554.3" r="18.2"/><circle cx="487.7" cy="548.2" r="18.2"/><circle cx="488" cy="493.5" r="18.2"/><circle cx="488.3" cy="529.4" r="18.2"/><circle cx="488.6" cy="512.8" r="18.2"/><circle cx="488.8" cy="503" r="18.2"/><circle cx="489.1" cy="491.8" r="18.2"/><circle cx="489.4" cy="515.7" r="18.2"/><circle cx="489.7" cy="493.5" r="18.2"/><circle cx="489.9" cy="528.6" r="18.2"/><circle cx="490.2" cy="514.2" r="18.2"/><circle cx="490.5" cy="530.6" r="18.2"/><circle cx="490.8" cy="474.3" r="18.2"/><circle cx="491.1" cy="503.5" r="18.2"/><circle cx="491.3" cy="521.1" r="18.2"/><circle cx="491.6" cy="510.4" r="18.2"/><circle cx="491.9" cy="506.3" r="18.2"/><circle cx="492.2" cy="481.8" r="18.2"/><circle cx="492.4" cy="540.3" r="18.2"/><circle cx="492.7" cy="525.2" r="18.2"/><circle cx="493" cy="507.5" r="18.2"/><circle cx="493.3" cy="440.2" r="18.2"/><circle cx="493.5" cy="471.6" r="18.2"/><circle cx="493.8" cy="498.4" r="18.2"/><circle cx="494.1" cy="476.4" r="18.2"/><circle cx="494.4" cy="440.9" r="18.2"/><circle cx="494.7" cy="499.4" r="18.2"/><circle cx="494.9" cy="502.1" r="18.2"/><circle cx="495.2" cy="460.6" r="18.2"/><circle cx="495.5" cy="478.4" r="18.2"/><circle cx="495.8" cy="473.1" r="18.2"/><circle cx="496" cy="502.8" r="18.2"/><circle cx="496.3" cy="439.2" r="18.2"/><circle cx="496.6" cy="444" r="18.2"/><circle cx="496.9" cy="472.8" r="18.2"/><circle cx="497.1" cy="469" r="18.2"/><circle cx="497.4" cy="538.4" r="18.2"/><circle cx="497.7" cy="468.7" r="18.2"/><circle cx="498" cy="489.5" r="18.2"/><circle cx="498.3" cy="472.5" r="18.2"/><circle cx="498.5" cy="465.3" r="18.2"/><circle cx="498.8" cy="491.1" r="18.2"/><circle cx="499.1" cy="525.3" r="18.2"/><circle cx="499.4" cy="471.2" r="18.2"/><circle cx="499.6" cy="499.2" r="18.2"/><circle cx="499.9" cy="487.8" r="18.2"/><circle cx="500.2" cy="494.2" r="18.2"/><circle cx="500.5" cy="486.6" r="18.2"/><circle cx="500.7" cy="534.1" r="18.2"/><circle cx="501" cy="444.7" r="18.2"/><circle cx="501.3" cy="468.9" r="18.2"/><circle cx="501.6" cy="445.9" r="18.2"/><circle cx="501.9" cy="422.6" r="18.2"/><circle cx="502.1" cy="472.6" r="18.2"/><circle cx="502.4" cy="519.3" r="18.2"/><circle cx="502.7" cy="494.9" r="18.2"/><circle cx="503" cy="502.3" r="18.2"/><circle cx="503.2" cy="483.2" r="18.2"/><circle cx="503.5" cy="467.4" r="18.2"/><circle cx="503.8" cy="520.7" r="18.2"/><circle cx="504.1" cy="459" r="18.2"/><circle cx="504.3" cy="506.4" r="18.2"/><circle cx="504.6" cy="458.7" r="18.2"/><circle cx="504.9" cy="468.5" r="18.2"/><circle cx="505.2" cy="473" r="18.2"/><circle cx="505.4" cy="466" r="18.2"/><circle cx="505.7" cy="477.4" r="18.2"/><circle cx="506" cy="478.5" r="18.2"/><circle cx="506.3" cy="505.6" r="18.2"/><circle cx="506.6" cy="461.8" r="18.2"/><circle cx="506.8" cy="412.2" r="18.2"/><circle cx="507.1" cy="407.9" r="18.2"/><circle cx="507.4" cy="424.3" r="18.2"/><circle cx="507.7" cy="439.6" r="18.2"/><circle cx="507.9" cy="474.8" r="18.2"/><circle cx="508.2" cy="418.8" r="18.2"/><circle cx="508.5" cy="457.1" r="18.2"/><circle cx="508.8" cy="456.7" r="18.2"/><circle cx="509" cy="461.7" r="18.2"/><circle cx="509.3" cy="450.9" r="18.2"/><circle cx="509.6" cy="463.9" r="18.2"/><circle cx="509.9" cy="453.9" r="18.2"/><circle cx="510.2" cy="479.3" r="18.2"/><circle cx="510.4" cy="459.9" r="18.2"/><circle cx="510.7" cy="391.9" r="18.2"/><circle cx="511" cy="450.4" r="18.2"/><circle cx="511.3" cy="454" r="18.2"/><circle cx="511.5" cy="433" r="18.2"/><circle cx="511.8" cy="427.6" r="18.2"/><circle cx="512.1" cy="474.4" r="18.2"/><circle cx="512.4" cy="449.8" r="18.2"/><circle cx="512.6" cy="419.6" r="18.2"/><circle cx="512.9" cy="435.7" r="18.2"/><circle cx="513.2" cy="438.7" r="18.2"/><circle cx="513.5" cy="400.4" r="18.2"/><circle cx="513.8" cy="458" r="18.2"/><circle cx="514" cy="437.2" r="18.2"/><circle cx="514.3" cy="452.1" r="18.2"/><circle cx="514.6" cy="398.6" r="18.2"/><circle cx="514.9" cy="487.9" r="18.2"/><circle cx="515.1" cy="453.5" r="18.2"/><circle cx="515.4" cy="448.9" r="18.2"/><circle cx="515.7" cy="416.7" r="18.2"/><circle cx="516" cy="417.4" r="18.2"/><circle cx="516.2" cy="395.8" r="18.2"/><circle cx="516.5" cy="472.8" r="18.2"/><circle cx="516.8" cy="410.9" r="18.2"/><circle cx="517.1" cy="437.4" r="18.2"/><circle cx="517.4" cy="446.3" r="18.2"/><circle cx="517.6" cy="413.7" r="18.2"/><circle cx="517.9" cy="451.2" r="18.2"/><circle cx="518.2" cy="480.7" r="18.2"/><circle cx="518.5" cy="434.9" r="18.2"/><circle cx="518.7" cy="463.7" r="18.2"/><circle cx="519" cy="440.4" r="18.2"/><circle cx="519.3" cy="412.7" r="18.2"/><circle cx="519.6" cy="413.3" r="18.2"/><circle cx="519.8" cy="378.8" r="18.2"/><circle cx="520.1" cy="424.9" r="18.2"/><circle cx="520.4" cy="459.1" r="18.2"/><circle cx="520.7" cy="437.7" r="18.2"/><circle cx="520.9" cy="441.1" r="18.2"/><circle cx="521.2" cy="448.1" r="18.2"/><circle cx="521.5" cy="403.5" r="18.2"/><circle cx="521.8" cy="431.1" r="18.2"/><circle cx="522.1" cy="465.3" r="18.2"/><circle cx="522.3" cy="393.8" r="18.2"/><circle cx="522.6" cy="414.2" r="18.2"/><circle cx="522.9" cy="400.9" r="18.2"/><circle cx="523.2" cy="406.5" r="18.2"/><circle cx="523.4" cy="391.7" r="18.2"/><circle cx="523.7" cy="406.4" r="18.2"/><circle cx="524" cy="373.8" r="18.2"/><circle cx="524.3" cy="394.3" r="18.2"/><circle cx="524.5" cy="394.2" r="18.2"/><circle cx="524.8" cy="392.7" r="18.2"/><circle cx="525.1" cy="441.1" r="18.2"/><circle cx="525.4" cy="406" r="18.2"/><circle cx="525.7" cy="407.5" r="18.2"/><circle cx="525.9" cy="394.2" r="18.2"/><circle cx="526.2" cy="434.7" r="18.2"/><circle cx="526.5" cy="354.4" r="18.2"/><circle cx="526.8" cy="394" r="18.2"/><circle cx="527" cy="427.9" r="18.2"/><circle cx="527.3" cy="440.1" r="18.2"/><circle cx="527.6" cy="401.3" r="18.2"/><circle cx="527.9" cy="395.2" r="18.2"/><circle cx="528.1" cy="410.9" r="18.2"/><circle cx="528.4" cy="388.4" r="18.2"/><circle cx="528.7" cy="406.9" r="18.2"/><circle cx="529" cy="374.2" r="18.2"/><circle cx="529.3" cy="407.1" r="18.2"/><circle cx="529.5" cy="387.9" r="18.2"/><circle cx="529.8" cy="359.9" r="18.2"/><circle cx="530.1" cy="326.4" r="18.2"/><circle cx="530.4" cy="410.7" r="18.2"/><circle cx="530.6" cy="395.3" r="18.2"/><circle cx="530.9" cy="404.3" r="18.2"/><circle cx="531.2" cy="360.1" r="18.2"/><circle cx="531.5" cy="410.5" r="18.2"/><circle cx="531.7" cy="391.8" r="18.2"/><circle cx="532" cy="378.7" r="18.2"/><circle cx="532.3" cy="403" r="18.2"/><circle cx="532.6" cy="401.4" r="18.2"/><circle cx="532.9" cy="387.6" r="18.2"/><circle cx="533.1" cy="429.9" r="18.2"/><circle cx="533.4" cy="411.5" r="18.2"/><circle cx="533.7" cy="382.9" r="18.2"/><circle cx="534" cy="367" r="18.2"/><circle cx="534.2" cy="374.9" r="18.2"/><circle cx="534.5" cy="416.2" r="18.2"/><circle cx="534.8" cy="380.3" r="18.2"/><circle cx="535.1" cy="345.6" r="18.2"/><circle cx="535.3" cy="351.1" r="18.2"/><circle cx="535.6" cy="367" r="18.2"/><circle cx="535.9" cy="387.6" r="18.2"/><circle cx="536.2" cy="346" r="18.2"/><circle cx="536.5" cy="377.4" r="18.2"/><circle cx="536.7" cy="392.2" r="18.2"/><circle cx="537" cy="381.3" r="18.2"/><circle cx="537.3" cy="320.1" r="18.2"/><circle cx="537.6" cy="352" r="18.2"/><circle cx="537.8" cy="325.9" r="18.2"/><circle cx="538.1" cy="368.7" r="18.2"/><circle cx="538.4" cy="329.8" r="18.2"/><circle cx="538.7" cy="370" r="18.2"/><circle cx="538.9" cy="357.1" r="18.2"/><circle cx="539.2" cy="292.9" r="18.2"/><circle cx="539.5" cy="330.3" r="18.2"/><circle cx="539.8" cy="363.3" r="18.2"/><circle cx="540" cy="351.2" r="18.2"/><circle cx="540.3" cy="339.2" r="18.2"/><circle cx="540.6" cy="314.4" r="18.2"/><circle cx="540.9" cy="359" r="18.2"/><circle cx="541.2" cy="391.7" r="18.2"/><circle cx="541.4" cy="351.4" r="18.2"/><circle cx="541.7" cy="342.5" r="18.2"/><circle cx="542" cy="339" r="18.2"/><circle cx="542.3" cy="305.6" r="18.2"/><circle cx="542.5" cy="331.5" r="18.2"/><circle cx="542.8" cy="317.1" r="18.2"/><circle cx="543.1" cy="367.6" r="18.2"/><circle cx="543.4" cy="313.7" r="18.2"/><circle cx="543.6" cy="279.6" r="18.2"/><circle cx="543.9" cy="314.3" r="18.2"/><circle cx="544.2" cy="327.2" r="18.2"/><circle cx="544.5" cy="329" r="18.2"/><circle cx="544.8" cy="284" r="18.2"/><circle cx="545" cy="356.1" r="18.2"/><circle cx="545.3" cy="333.2" r="18.2"/><circle cx="545.6" cy="316.8" r="18.2"/><circle cx="545.9" cy="308.2" r="18.2"/><circle cx="546.1" cy="339.1" r="18.2"/><circle cx="546.4" cy="318" r="18.2"/><circle cx="546.7" cy="332.8" r="18.2"/><circle cx="547" cy="321" r="18.2"/><circle cx="547.2" cy="326.9" r="18.2"/><circle cx="547.5" cy="353.1" r="18.2"/><circle cx="547.8" cy="321.9" r="18.2"/><circle cx="548.1" cy="296.6" r="18.2"/><circle cx="548.4" cy="345.4" r="18.2"/><circle cx="548.6" cy="324.7" r="18.2"/><circle cx="548.9" cy="299.2" r="18.2"/><circle cx="549.2" cy="345.1" r="18.2"/><circle cx="549.5" cy="310.2" r="18.2"/><circle cx="549.7" cy="342.8" r="18.2"/><circle cx="550" cy="282.3" r="18.2"/><circle cx="550.3" cy="252.5" r="18.2"/><circle cx="550.6" cy="256.2" r="18.2"/><circle cx="550.8" cy="315.8" r="18.2"/><circle cx="551.1" cy="288.8" r="18.2"/><circle cx="551.4" cy="304.5" r="18.2"/><circle cx="551.7" cy="304" r="18.2"/><circle cx="552" cy="263.7" r="18.2"/><circle cx="552.2" cy="340.4" r="18.2"/><circle cx="552.5" cy="274.9" r="18.2"/><circle cx="552.8" cy="303.8" r="18.2"/><circle cx="553.1" cy="263.2" r="18.2"/><circle cx="553.3" cy="295.3" r="18.2"/><circle cx="553.6" cy="317.6" r="18.2"/><circle cx="553.9" cy="290.7" r="18.2"/><circle cx="554.2" cy="277.2" r="18.2"/><circle cx="554.4" cy="295.2" r="18.2"/><circle cx="554.7" cy="281.8" r="18.2"/><circle cx="555" cy="308.2" r="18.2"/><circle cx="555.3" cy="351" r="18.2"/><circle cx="555.5" cy="267.4" r="18.2"/><circle cx="555.8" cy="271.8" r="18.2"/><circle cx="556.1" cy="285.8" r="18.2"/><circle cx="556.4" cy="286.9" r="18.2"/><circle cx="556.7" cy="259.5" r="18.2"/><circle cx="556.9" cy="299.1" r="18.2"/><circle cx="557.2" cy="304.9" r="18.2"/><circle cx="557.5" cy="289.7" r="18.2"/><circle cx="557.8" cy="251.1" r="18.2"/><circle cx="558" cy="320.3" r="18.2"/><circle cx="558.3" cy="249" r="18.2"/><circle cx="558.6" cy="297.9" r="18.2"/><circle cx="558.9" cy="309.5" r="18.2"/><circle cx="559.1" cy="244.1" r="18.2"/><circle cx="559.4" cy="280.1" r="18.2"/><circle cx="559.7" cy="312" r="18.2"/><circle cx="560" cy="285.3" r="18.2"/><circle cx="560.3" cy="249" r="18.2"/><circle cx="560.5" cy="240.9" r="18.2"/><circle cx="560.8" cy="284.2" r="18.2"/><circle cx="561.1" cy="260.4" r="18.2"/><circle cx="561.4" cy="251.1" r="18.2"/><circle cx="561.6" cy="287.3" r="18.2"/><circle cx="561.9" cy="259" r="18.2"/><circle cx="562.2" cy="268.6" r="18.2"/><circle cx="562.5" cy="281.5" r="18.2"/><circle cx="562.7" cy="279.4" r="18.2"/><circle cx="563" cy="263.1" r="18.2"/><circle cx="563.3" cy="263.3" r="18.2"/><circle cx="563.6" cy="278.7" r="18.2"/><circle cx="563.9" cy="274" r="18.2"/><circle cx="564.1" cy="230.9" r="18.2"/><circle cx="564.4" cy="254.7" r="18.2"/><circle cx="564.7" cy="235.4" r="18.2"/><circle cx="565" cy="225.9" r="18.2"/><circle cx="565.2" cy="241.9" r="18.2"/><circle cx="565.5" cy="196.8" r="18.2"/><circle cx="565.8" cy="279" r="18.2"/><circle cx="566.1" cy="233.4" r="18.2"/><circle cx="566.3" cy="263.5" r="18.2"/><circle cx="566.6" cy="203" r="18.2"/><circle cx="566.9" cy="206.5" r="18.2"/><circle cx="567.2" cy="306.1" r="18.2"/><circle cx="567.5" cy="278.3" r="18.2"/><circle cx="567.7" cy="232.7" r="18.2"/><circle cx="568" cy="228.5" r="18.2"/><circle cx="568.3" cy="229.2" r="18.2"/><circle cx="568.6" cy="250.6" r="18.2"/><circle cx="568.8" cy="235.4" r="18.2"/><circle cx="569.1" cy="229.2" r="18.2"/><circle cx="569.4" cy="248.6" r="18.2"/><circle cx="569.7" cy="217.5" r="18.2"/><circle cx="569.9" cy="305.6" r="18.2"/><circle cx="570.2" cy="226.8" r="18.2"/><circle cx="570.5" cy="272.1" r="18.2"/><circle cx="570.8" cy="216.5" r="18.2"/><circle cx="571" cy="248.5" r="18.2"/><circle cx="571.3" cy="265.9" r="18.2"/><circle cx="571.6" cy="230.5" r="18.2"/><circle cx="571.9" cy="265.2" r="18.2"/><circle cx="572.2" cy="264.5" r="18.2"/><circle cx="572.4" cy="281.9" r="18.2"/><circle cx="572.7" cy="238.8" r="18.2"/><circle cx="573" cy="223.6" r="18.2"/><circle cx="573.3" cy="208.5" r="18.2"/><circle cx="573.5" cy="239.9" r="18.2"/><circle cx="573.8" cy="206.4" r="18.2"/><circle cx="574.1" cy="234.2" r="18.2"/><circle cx="574.4" cy="236.6" r="18.2"/><circle cx="574.6" cy="217.6" r="18.2"/><circle cx="574.9" cy="203.5" r="18.2"/><circle cx="575.2" cy="241.5" r="18.2"/><circle cx="575.5" cy="238.2" r="18.2"/><circle cx="575.8" cy="235.3" r="18.2"/><circle cx="576" cy="227.9" r="18.2"/><circle cx="576.3" cy="254.4" r="18.2"/><circle cx="576.6" cy="200.5" r="18.2"/><circle cx="576.9" cy="239.4" r="18.2"/><circle cx="577.1" cy="214.9" r="18.2"/><circle cx="577.4" cy="249.9" r="18.2"/><circle cx="577.7" cy="216.6" r="18.2"/><circle cx="578" cy="215.1" r="18.2"/><circle cx="578.2" cy="236.9" r="18.2"/><circle cx="578.5" cy="168.8" r="18.2"/><circle cx="578.8" cy="213.8" r="18.2"/><circle cx="579.1" cy="174.4" r="18.2"/><circle cx="579.4" cy="196.4" r="18.2"/><circle cx="579.6" cy="240.7" r="18.2"/><circle cx="579.9" cy="232.4" r="18.2"/><circle cx="580.2" cy="209.1" r="18.2"/><circle cx="580.5" cy="219" r="18.2"/><circle cx="580.7" cy="218.7" r="18.2"/><circle cx="581" cy="227.4" r="18.2"/><circle cx="581.3" cy="269.1" r="18.2"/><circle cx="581.6" cy="224.7" r="18.2"/><circle cx="581.8" cy="278.8" r="18.2"/><circle cx="582.1" cy="207" r="18.2"/><circle cx="582.4" cy="236.9" r="18.2"/><circle cx="582.7" cy="236.1" r="18.2"/><circle cx="583" cy="221.8" r="18.2"/><circle cx="583.2" cy="207.6" r="18.2"/><circle cx="583.5" cy="254.3" r="18.2"/><circle cx="583.8" cy="262.6" r="18.2"/><circle cx="584.1" cy="243.1" r="18.2"/><circle cx="584.3" cy="269.7" r="18.2"/><circle cx="584.6" cy="239.3" r="18.2"/><circle cx="584.9" cy="167.8" r="18.2"/><circle cx="585.2" cy="240.8" r="18.2"/><circle cx="585.4" cy="192.8" r="18.2"/><circle cx="585.7" cy="248.5" r="18.2"/><circle cx="586" cy="201.6" r="18.2"/><circle cx="586.3" cy="218.2" r="18.2"/><circle cx="586.5" cy="210.5" r="18.2"/><circle cx="586.8" cy="192.5" r="18.2"/><circle cx="587.1" cy="159" r="18.2"/><circle cx="587.4" cy="201.9" r="18.2"/><circle cx="587.7" cy="203.3" r="18.2"/><circle cx="587.9" cy="233.3" r="18.2"/><circle cx="588.2" cy="189.5" r="18.2"/><circle cx="588.5" cy="212.1" r="18.2"/><circle cx="588.8" cy="181.6" r="18.2"/><circle cx="589" cy="205.4" r="18.2"/><circle cx="589.3" cy="155.3" r="18.2"/><circle cx="589.6" cy="258.4" r="18.2"/><circle cx="589.9" cy="211" r="18.2"/><circle cx="590.1" cy="177.7" r="18.2"/><circle cx="590.4" cy="211.5" r="18.2"/><circle cx="590.7" cy="223.3" r="18.2"/><circle cx="591" cy="208.2" r="18.2"/><circle cx="591.3" cy="238.7" r="18.2"/><circle cx="591.5" cy="196.5" r="18.2"/><circle cx="591.8" cy="138.1" r="18.2"/><circle cx="592.1" cy="167" r="18.2"/><circle cx="592.4" cy="229.3" r="18.2"/><circle cx="592.6" cy="222.3" r="18.2"/><circle cx="592.9" cy="208.8" r="18.2"/><circle cx="593.2" cy="169.1" r="18.2"/><circle cx="593.5" cy="219.6" r="18.2"/><circle cx="593.7" cy="215.5" r="18.2"/><circle cx="594" cy="171.2" r="18.2"/><circle cx="594.3" cy="171.3" r="18.2"/><circle cx="594.6" cy="205.4" r="18.2"/><circle cx="594.9" cy="225.7" r="18.2"/><circle cx="595.1" cy="237.3" r="18.2"/><circle cx="595.4" cy="213.2" r="18.2"/><circle cx="595.7" cy="254.7" r="18.2"/><circle cx="596" cy="172" r="18.2"/><circle cx="596.2" cy="210.1" r="18.2"/><circle cx="596.5" cy="178.7" r="18.2"/><circle cx="596.8" cy="139.7" r="18.2"/><circle cx="597.1" cy="158.7" r="18.2"/><circle cx="597.3" cy="223.2" r="18.2"/><circle cx="597.6" cy="166.5" r="18.2"/><circle cx="597.9" cy="158.1" r="18.2"/><circle cx="598.2" cy="210.8" r="18.2"/><circle cx="598.5" cy="216.3" r="18.2"/><circle cx="598.7" cy="192.4" r="18.2"/><circle cx="599" cy="233.7" r="18.2"/><circle cx="599.3" cy="147.7" r="18.2"/><circle cx="599.6" cy="249.8" r="18.2"/><circle cx="599.8" cy="219" r="18.2"/><circle cx="600.1" cy="195.3" r="18.2"/><circle cx="600.4" cy="193.8" r="18.2"/><circle cx="600.7" cy="182.6" r="18.2"/><circle cx="600.9" cy="179.3" r="18.2"/><circle cx="601.2" cy="192.6" r="18.2"/><circle cx="601.5" cy="154.5" r="18.2"/><circle cx="601.8" cy="245.7" r="18.2"/><circle cx="602" cy="185.7" r="18.2"/><circle cx="602.3" cy="205.3" r="18.2"/><circle cx="602.6" cy="181.3" r="18.2"/><circle cx="602.9" cy="178.6" r="18.2"/><circle cx="603.2" cy="209.9" r="18.2"/><circle cx="603.4" cy="202" r="18.2"/><circle cx="603.7" cy="161.6" r="18.2"/><circle cx="604" cy="173.7" r="18.2"/><circle cx="604.3" cy="202.2" r="18.2"/><circle cx="604.5" cy="125.9" r="18.2"/><circle cx="604.8" cy="121.1" r="18.2"/><circle cx="605.1" cy="223.2" r="18.2"/><circle cx="605.4" cy="173.6" r="18.2"/><circle cx="605.6" cy="120.2" r="18.2"/><circle cx="605.9" cy="159.5" r="18.2"/><circle cx="606.2" cy="175" r="18.2"/><circle cx="606.5" cy="186.7" r="18.2"/><circle cx="606.8" cy="195.7" r="18.2"/><circle cx="607" cy="186.3" r="18.2"/><circle cx="607.3" cy="195.5" r="18.2"/><circle cx="607.6" cy="159" r="18.2"/><circle cx="607.9" cy="190.7" r="18.2"/><circle cx="608.1" cy="191.7" r="18.2"/><circle cx="608.4" cy="212.7" r="18.2"/><circle cx="608.7" cy="180.3" r="18.2"/><circle cx="609" cy="203.7" r="18.2"/><circle cx="609.2" cy="183.5" r="18.2"/><circle cx="609.5" cy="149.1" r="18.2"/><circle cx="609.8" cy="167.8" r="18.2"/><circle cx="610.1" cy="163.8" r="18.2"/><circle cx="610.4" cy="167.7" r="18.2"/><circle cx="610.6" cy="175.9" r="18.2"/><circle cx="610.9" cy="180.9" r="18.2"/><circle cx="611.2" cy="185.9" r="18.2"/><circle cx="611.5" cy="155.9" r="18.2"/><circle cx="611.7" cy="207.3" r="18.2"/><circle cx="612" cy="139.3" r="18.2"/><circle cx="612.3" cy="175.8" r="18.2"/><circle cx="612.6" cy="197.6" r="18.2"/><circle cx="612.8" cy="190.3" r="18.2"/><circle cx="613.1" cy="195.5" r="18.2"/><circle cx="613.4" cy="172" r="18.2"/><circle cx="613.7" cy="196.6" r="18.2"/><circle cx="614" cy="144.5" r="18.2"/><circle cx="614.2" cy="198.3" r="18.2"/><circle cx="614.5" cy="238" r="18.2"/><circle cx="614.8" cy="196.9" r="18.2"/><circle cx="615.1" cy="232.7" r="18.2"/><circle cx="615.3" cy="177.7" r="18.2"/><circle cx="615.6" cy="147" r="18.2"/><circle cx="615.9" cy="158.6" r="18.2"/><circle cx="616.2" cy="214.3" r="18.2"/><circle cx="616.4" cy="198.3" r="18.2"/><circle cx="616.7" cy="127.4" r="18.2"/><circle cx="617" cy="168.4" r="18.2"/><circle cx="617.3" cy="177.4" r="18.2"/><circle cx="617.6" cy="148.1" r="18.2"/><circle cx="617.8" cy="116.3" r="18.2"/><circle cx="618.1" cy="141.8" r="18.2"/><circle cx="618.4" cy="174.5" r="18.2"/><circle cx="618.7" cy="168.7" r="18.2"/><circle cx="618.9" cy="161.6" r="18.2"/><circle cx="619.2" cy="196.3" r="18.2"/><circle cx="619.5" cy="209.1" r="18.2"/><circle cx="619.8" cy="178.3" r="18.2"/><circle cx="620" cy="206.6" r="18.2"/><circle cx="620.3" cy="182.1" r="18.2"/><circle cx="620.6" cy="178.1" r="18.2"/><circle cx="620.9" cy="119.6" r="18.2"/><circle cx="621.1" cy="205.3" r="18.2"/><circle cx="621.4" cy="185.3" r="18.2"/><circle cx="621.7" cy="186.8" r="18.2"/><circle cx="622" cy="170.4" r="18.2"/><circle cx="622.3" cy="153.8" r="18.2"/><circle cx="622.5" cy="197.2" r="18.2"/><circle cx="622.8" cy="206.8" r="18.2"/><circle cx="623.1" cy="230.2" r="18.2"/><circle cx="623.4" cy="210.6" r="18.2"/><circle cx="623.6" cy="170.2" r="18.2"/><circle cx="623.9" cy="184.4" r="18.2"/><circle cx="624.2" cy="214.5" r="18.2"/><circle cx="624.5" cy="197" r="18.2"/><circle cx="624.7" cy="186.2" r="18.2"/><circle cx="625" cy="173.5" r="18.2"/><circle cx="625.3" cy="204.6" r="18.2"/><circle cx="625.6" cy="195.5" r="18.2"/><circle cx="625.9" cy="239.8" r="18.2"/><circle cx="626.1" cy="221.6" r="18.2"/><circle cx="626.4" cy="144.9" r="18.2"/><circle cx="626.7" cy="251.6" r="18.2"/><circle cx="627" cy="200.5" r="18.2"/><circle cx="627.2" cy="185.5" r="18.2"/><circle cx="627.5" cy="202.8" r="18.2"/><circle cx="627.8" cy="215.6" r="18.2"/><circle cx="628.1" cy="195.5" r="18.2"/><circle cx="628.3" cy="194.8" r="18.2"/><circle cx="628.6" cy="197.8" r="18.2"/><circle cx="628.9" cy="248.8" r="18.2"/><circle cx="629.2" cy="201.5" r="18.2"/><circle cx="629.5" cy="222.3" r="18.2"/><circle cx="629.7" cy="214.8" r="18.2"/><circle cx="630" cy="194.3" r="18.2"/><circle cx="630.3" cy="184" r="18.2"/><circle cx="630.6" cy="178" r="18.2"/><circle cx="630.8" cy="218" r="18.2"/><circle cx="631.1" cy="179.8" r="18.2"/><circle cx="631.4" cy="174.1" r="18.2"/><circle cx="631.7" cy="176.5" r="18.2"/><circle cx="631.9" cy="170.8" r="18.2"/><circle cx="632.2" cy="214.8" r="18.2"/><circle cx="632.5" cy="217" r="18.2"/><circle cx="632.8" cy="190.7" r="18.2"/><circle cx="633.1" cy="252.9" r="18.2"/><circle cx="633.3" cy="210.7" r="18.2"/><circle cx="633.6" cy="232.6" r="18.2"/><circle cx="633.9" cy="229.6" r="18.2"/><circle cx="634.2" cy="269.1" r="18.2"/><circle cx="634.4" cy="247" r="18.2"/><circle cx="634.7" cy="224.4" r="18.2"/><circle cx="635" cy="200.8" r="18.2"/><circle cx="635.3" cy="199.5" r="18.2"/><circle cx="635.5" cy="230.5" r="18.2"/><circle cx="635.8" cy="235" r="18.2"/><circle cx="636.1" cy="254.2" r="18.2"/><circle cx="636.4" cy="221.7" r="18.2"/><circle cx="636.6" cy="241.1" r="18.2"/><circle cx="636.9" cy="219" r="18.2"/><circle cx="637.2" cy="188.8" r="18.2"/><circle cx="637.5" cy="239.5" r="18.2"/><circle cx="637.8" cy="281.4" r="18.2"/><circle cx="638" cy="265.3" r="18.2"/><circle cx="638.3" cy="283.3" r="18.2"/><circle cx="638.6" cy="277.7" r="18.2"/><circle cx="638.9" cy="210.4" r="18.2"/><circle cx="639.1" cy="241.7" r="18.2"/><circle cx="639.4" cy="291.3" r="18.2"/><circle cx="639.7" cy="233.2" r="18.2"/><circle cx="640" cy="218.2" r="18.2"/><circle cx="640.2" cy="264.4" r="18.2"/><circle cx="640.5" cy="274.8" r="18.2"/><circle cx="640.8" cy="267.3" r="18.2"/><circle cx="641.1" cy="251.9" r="18.2"/><circle cx="641.4" cy="244" r="18.2"/><circle cx="641.6" cy="230.9" r="18.2"/><circle cx="641.9" cy="231.9" r="18.2"/><circle cx="642.2" cy="234.4" r="18.2"/><circle cx="642.5" cy="231.4" r="18.2"/><circle cx="642.7" cy="252.4" r="18.2"/><circle cx="643" cy="314.2" r="18.2"/><circle cx="643.3" cy="277.8" r="18.2"/><circle cx="643.6" cy="267.5" r="18.2"/><circle cx="643.8" cy="288.4" r="18.2"/><circle cx="644.1" cy="254.9" r="18.2"/><circle cx="644.4" cy="291.5" r="18.2"/><circle cx="644.7" cy="308.8" r="18.2"/><circle cx="645" cy="246.1" r="18.2"/><circle cx="645.2" cy="269.2" r="18.2"/><circle cx="645.5" cy="283.3" r="18.2"/><circle cx="645.8" cy="265.9" r="18.2"/><circle cx="646.1" cy="264.2" r="18.2"/><circle cx="646.3" cy="285.7" r="18.2"/><circle cx="646.6" cy="356.7" r="18.2"/><circle cx="646.9" cy="317.1" r="18.2"/><circle cx="647.2" cy="313.1" r="18.2"/><circle cx="647.4" cy="329.3" r="18.2"/><circle cx="647.7" cy="299.1" r="18.2"/><circle cx="648" cy="274.1" r="18.2"/><circle cx="648.3" cy="321.4" r="18.2"/><circle cx="648.6" cy="340.9" r="18.2"/><circle cx="648.8" cy="257.2" r="18.2"/><circle cx="649.1" cy="326.1" r="18.2"/><circle cx="649.4" cy="349.1" r="18.2"/><circle cx="649.7" cy="311.2" r="18.2"/><circle cx="649.9" cy="308" r="18.2"/><circle cx="650.2" cy="340.4" r="18.2"/><circle cx="650.5" cy="301.8" r="18.2"/><circle cx="650.8" cy="338.1" r="18.2"/><circle cx="651" cy="351.7" r="18.2"/><circle cx="651.3" cy="323.8" r="18.2"/><circle cx="651.6" cy="309.6" r="18.2"/><circle cx="651.9" cy="349.2" r="18.2"/><circle cx="652.1" cy="324.9" r="18.2"/><circle cx="652.4" cy="338.1" r="18.2"/><circle cx="652.7" cy="278.1" r="18.2"/><circle cx="653" cy="358.1" r="18.2"/><circle cx="653.3" cy="303.6" r="18.2"/><circle cx="653.5" cy="344" r="18.2"/><circle cx="653.8" cy="347.7" r="18.2"/><circle cx="654.1" cy="326.7" r="18.2"/><circle cx="654.4" cy="323.9" r="18.2"/><circle cx="654.6" cy="315.7" r="18.2"/><circle cx="654.9" cy="342.6" r="18.2"/><circle cx="655.2" cy="369.3" r="18.2"/><circle cx="655.5" cy="369.4" r="18.2"/><circle cx="655.7" cy="343.2" r="18.2"/><circle cx="656" cy="343.1" r="18.2"/><circle cx="656.3" cy="323" r="18.2"/><circle cx="656.6" cy="351" r="18.2"/><circle cx="656.9" cy="335.7" r="18.2"/><circle cx="657.1" cy="325.3" r="18.2"/><circle cx="657.4" cy="363.2" r="18.2"/><circle cx="657.7" cy="409" r="18.2"/><circle cx="658" cy="402.7" r="18.2"/><circle cx="658.2" cy="411.3" r="18.2"/><circle cx="658.5" cy="332.4" r="18.2"/><circle cx="658.8" cy="399.2" r="18.2"/><circle cx="659.1" cy="345.6" r="18.2"/><circle cx="659.3" cy="364.6" r="18.2"/><circle cx="659.6" cy="336.4" r="18.2"/><circle cx="659.9" cy="357.1" r="18.2"/><circle cx="660.2" cy="388.3" r="18.2"/><circle cx="660.5" cy="392.7" r="18.2"/><circle cx="660.7" cy="386.9" r="18.2"/><circle cx="661" cy="386.3" r="18.2"/><circle cx="661.3" cy="406.8" r="18.2"/><circle cx="661.6" cy="395.4" r="18.2"/><circle cx="661.8" cy="353.6" r="18.2"/><circle cx="662.1" cy="443.1" r="18.2"/><circle cx="662.4" cy="392.9" r="18.2"/><circle cx="662.7" cy="425.5" r="18.2"/><circle cx="662.9" cy="398.3" r="18.2"/><circle cx="663.2" cy="382.8" r="18.2"/><circle cx="663.5" cy="408.2" r="18.2"/><circle cx="663.8" cy="388" r="18.2"/><circle cx="664.1" cy="452.1" r="18.2"/><circle cx="664.3" cy="382.6" r="18.2"/><circle cx="664.6" cy="429.4" r="18.2"/><circle cx="664.9" cy="398.8" r="18.2"/><circle cx="665.2" cy="412.1" r="18.2"/><circle cx="665.4" cy="476.5" r="18.2"/><circle cx="665.7" cy="440.1" r="18.2"/><circle cx="666" cy="416" r="18.2"/><circle cx="666.3" cy="382.6" r="18.2"/><circle cx="666.5" cy="417.5" r="18.2"/><circle cx="666.8" cy="419.9" r="18.2"/><circle cx="667.1" cy="465.4" r="18.2"/><circle cx="667.4" cy="392.3" r="18.2"/><circle cx="667.6" cy="384" r="18.2"/><circle cx="667.9" cy="432.3" r="18.2"/><circle cx="668.2" cy="440.3" r="18.2"/><circle cx="668.5" cy="478.5" r="18.2"/><circle cx="668.8" cy="414.4" r="18.2"/><circle cx="669" cy="381.5" r="18.2"/><circle cx="669.3" cy="421.8" r="18.2"/><circle cx="669.6" cy="409" r="18.2"/><circle cx="669.9" cy="429.3" r="18.2"/><circle cx="670.1" cy="470.7" r="18.2"/><circle cx="670.4" cy="411.4" r="18.2"/><circle cx="670.7" cy="480" r="18.2"/><circle cx="671" cy="454.6" r="18.2"/><circle cx="671.2" cy="443.2" r="18.2"/><circle cx="671.5" cy="428.8" r="18.2"/><circle cx="671.8" cy="442.3" r="18.2"/><circle cx="672.1" cy="444.4" r="18.2"/><circle cx="672.4" cy="475.7" r="18.2"/><circle cx="672.6" cy="490.7" r="18.2"/><circle cx="672.9" cy="456.7" r="18.2"/><circle cx="673.2" cy="478.1" r="18.2"/><circle cx="673.5" cy="494.9" r="18.2"/><circle cx="673.7" cy="495.1" r="18.2"/><circle cx="674" cy="476.1" r="18.2"/><circle cx="674.3" cy="512.8" r="18.2"/><circle cx="674.6" cy="500.9" r="18.2"/><circle cx="674.8" cy="509.5" r="18.2"/><circle cx="675.1" cy="463.5" r="18.2"/><circle cx="675.4" cy="458.8" r="18.2"/><circle cx="675.7" cy="418.5" r="18.2"/><circle cx="676" cy="510.7" r="18.2"/><circle cx="676.2" cy="490.6" r="18.2"/><circle cx="676.5" cy="450.5" r="18.2"/><circle cx="676.8" cy="481" r="18.2"/><circle cx="677.1" cy="485" r="18.2"/><circle cx="677.3" cy="433.3" r="18.2"/><circle cx="677.6" cy="487.6" r="18.2"/><circle cx="677.9" cy="509.9" r="18.2"/><circle cx="678.2" cy="515.2" r="18.2"/><circle cx="678.4" cy="473.5" r="18.2"/><circle cx="678.7" cy="475.5" r="18.2"/><circle cx="679" cy="520" r="18.2"/><circle cx="679.3" cy="511.1" r="18.2"/><circle cx="679.6" cy="472.9" r="18.2"/><circle cx="679.8" cy="472.9" r="18.2"/><circle cx="680.1" cy="505.5" r="18.2"/><circle cx="680.4" cy="473.9" r="18.2"/><circle cx="680.7" cy="476.3" r="18.2"/><circle cx="680.9" cy="538.2" r="18.2"/><circle cx="681.2" cy="501.3" r="18.2"/><circle cx="681.5" cy="483.5" r="18.2"/><circle cx="681.8" cy="510.1" r="18.2"/><circle cx="682" cy="551.6" r="18.2"/><circle cx="682.3" cy="504.7" r="18.2"/><circle cx="682.6" cy="479.1" r="18.2"/><circle cx="682.9" cy="458.7" r="18.2"/><circle cx="683.2" cy="557" r="18.2"/><circle cx="683.4" cy="444.8" r="18.2"/><circle cx="683.7" cy="531.6" r="18.2"/><circle cx="684" cy="478.9" r="18.2"/><circle cx="684.3" cy="472.8" r="18.2"/><circle cx="684.5" cy="480.3" r="18.2"/><circle cx="684.8" cy="502.7" r="18.2"/><circle cx="685.1" cy="537.5" r="18.2"/><circle cx="685.4" cy="492.5" r="18.2"/><circle cx="685.6" cy="528" r="18.2"/><circle cx="685.9" cy="567.1" r="18.2"/><circle cx="686.2" cy="455" r="18.2"/><circle cx="686.5" cy="494.3" r="18.2"/><circle cx="686.7" cy="466.7" r="18.2"/><circle cx="687" cy="537.8" r="18.2"/><circle cx="687.3" cy="477.7" r="18.2"/><circle cx="687.6" cy="475.5" r="18.2"/><circle cx="687.9" cy="477.3" r="18.2"/><circle cx="688.1" cy="518.7" r="18.2"/><circle cx="688.4" cy="550" r="18.2"/><circle cx="688.7" cy="524.6" r="18.2"/><circle cx="689" cy="577.4" r="18.2"/><circle cx="689.2" cy="565.5" r="18.2"/><circle cx="689.5" cy="520.5" r="18.2"/><circle cx="689.8" cy="549.1" r="18.2"/><circle cx="690.1" cy="528.8" r="18.2"/><circle cx="690.3" cy="528.3" r="18.2"/><circle cx="690.6" cy="477" r="18.2"/><circle cx="690.9" cy="494.1" r="18.2"/><circle cx="691.2" cy="529.4" r="18.2"/><circle cx="691.5" cy="498.2" r="18.2"/><circle cx="691.7" cy="549.9" r="18.2"/><circle cx="692" cy="539.5" r="18.2"/><circle cx="692.3" cy="508.5" r="18.2"/><circle cx="692.6" cy="564.4" r="18.2"/><circle cx="692.8" cy="540.6" r="18.2"/><circle cx="693.1" cy="568.1" r="18.2"/><circle cx="693.4" cy="532.2" r="18.2"/><circle cx="693.7" cy="494.4" r="18.2"/><circle cx="693.9" cy="556.1" r="18.2"/><circle cx="694.2" cy="532" r="18.2"/><circle cx="694.5" cy="561.5" r="18.2"/><circle cx="694.8" cy="568.8" r="18.2"/><circle cx="695.1" cy="571.8" r="18.2"/><circle cx="695.3" cy="504" r="18.2"/><circle cx="695.6" cy="485.9" r="18.2"/><circle cx="695.9" cy="530.5" r="18.2"/><circle cx="696.2" cy="561.9" r="18.2"/><circle cx="696.4" cy="526.6" r="18.2"/><circle cx="696.7" cy="553.9" r="18.2"/><circle cx="697" cy="525.8" r="18.2"/><circle cx="697.3" cy="539.7" r="18.2"/><circle cx="697.5" cy="540.8" r="18.2"/><circle cx="697.8" cy="533.3" r="18.2"/><circle cx="698.1" cy="564.4" r="18.2"/><circle cx="698.4" cy="560.8" r="18.2"/><circle cx="698.7" cy="595.2" r="18.2"/><circle cx="698.9" cy="563.5" r="18.2"/><circle cx="699.2" cy="589.3" r="18.2"/><circle cx="699.5" cy="557.7" r="18.2"/><circle cx="699.8" cy="579.2" r="18.2"/><circle cx="700" cy="553.1" r="18.2"/><circle cx="700.3" cy="545.1" r="18.2"/><circle cx="700.6" cy="593.5" r="18.2"/><circle cx="700.9" cy="578.9" r="18.2"/><circle cx="701.1" cy="583.1" r="18.2"/><circle cx="701.4" cy="541" r="18.2"/><circle cx="701.7" cy="517.6" r="18.2"/><circle cx="702" cy="540.1" r="18.2"/><circle cx="702.2" cy="571.4" r="18.2"/><circle cx="702.5" cy="526.2" r="18.2"/><circle cx="702.8" cy="602.6" r="18.2"/><circle cx="703.1" cy="527" r="18.2"/><circle cx="703.4" cy="582.5" r="18.2"/><circle cx="703.6" cy="622.4" r="18.2"/><circle cx="703.9" cy="511.8" r="18.2"/><circle cx="704.2" cy="528.4" r="18.2"/><circle cx="704.5" cy="595.3" r="18.2"/><circle cx="704.7" cy="565.7" r="18.2"/><circle cx="705" cy="576.2" r="18.2"/><circle cx="705.3" cy="568.9" r="18.2"/><circle cx="705.6" cy="609.8" r="18.2"/><circle cx="705.8" cy="590.3" r="18.2"/><circle cx="706.1" cy="562" r="18.2"/><circle cx="706.4" cy="569" r="18.2"/><circle cx="706.7" cy="545" r="18.2"/><circle cx="707" cy="574.1" r="18.2"/><circle cx="707.2" cy="521.3" r="18.2"/><circle cx="707.5" cy="595.6" r="18.2"/><circle cx="707.8" cy="571.7" r="18.2"/><circle cx="708.1" cy="627.4" r="18.2"/><circle cx="708.3" cy="611.3" r="18.2"/><circle cx="708.6" cy="546.8" r="18.2"/><circle cx="708.9" cy="604.8" r="18.2"/><circle cx="709.2" cy="568.3" r="18.2"/><circle cx="709.4" cy="583.9" r="18.2"/><circle cx="709.7" cy="609.3" r="18.2"/><circle cx="710" cy="592.4" r="18.2"/><circle cx="710.3" cy="597.2" r="18.2"/><circle cx="710.6" cy="597.1" r="18.2"/><circle cx="710.8" cy="566.5" r="18.2"/><circle cx="711.1" cy="569.6" r="18.2"/><circle cx="711.4" cy="601.1" r="18.2"/><circle cx="711.7" cy="610" r="18.2"/><circle cx="711.9" cy="580.6" r="18.2"/><circle cx="712.2" cy="590.7" r="18.2"/><circle cx="712.5" cy="562.8" r="18.2"/><circle cx="712.8" cy="533.8" r="18.2"/><circle cx="713" cy="568.5" r="18.2"/><circle cx="713.3" cy="591.1" r="18.2"/><circle cx="713.6" cy="595" r="18.2"/><circle cx="713.9" cy="612.6" r="18.2"/><circle cx="714.2" cy="614.3" r="18.2"/><circle cx="714.4" cy="617.1" r="18.2"/><circle cx="714.7" cy="602.2" r="18.2"/><circle cx="715" cy="603.4" r="18.2"/><circle cx="715.3" cy="574.3" r="18.2"/><circle cx="715.5" cy="603.4" r="18.2"/><circle cx="715.8" cy="598.6" r="18.2"/><circle cx="716.1" cy="624.6" r="18.2"/><circle cx="716.4" cy="552.9" r="18.2"/><circle cx="716.6" cy="581.8" r="18.2"/><circle cx="716.9" cy="549.9" r="18.2"/><circle cx="717.2" cy="575.1" r="18.2"/><circle cx="717.5" cy="558" r="18.2"/><circle cx="717.7" cy="602" r="18.2"/><circle cx="718" cy="578" r="18.2"/><circle cx="718.3" cy="541" r="18.2"/><circle cx="718.6" cy="627.3" r="18.2"/><circle cx="718.9" cy="567.3" r="18.2"/><circle cx="719.1" cy="554.5" r="18.2"/><circle cx="719.4" cy="586.8" r="18.2"/><circle cx="719.7" cy="578.5" r="18.2"/><circle cx="720" cy="565.8" r="18.2"/><circle cx="720.2" cy="615.1" r="18.2"/><circle cx="720.5" cy="588.1" r="18.2"/><circle cx="720.8" cy="621.1" r="18.2"/><circle cx="721.1" cy="616.4" r="18.2"/><circle cx="721.3" cy="615.2" r="18.2"/><circle cx="721.6" cy="603.3" r="18.2"/><circle cx="721.9" cy="596.1" r="18.2"/><circle cx="722.2" cy="588.5" r="18.2"/><circle cx="722.5" cy="636.8" r="18.2"/><circle cx="722.7" cy="549.8" r="18.2"/><circle cx="723" cy="571.2" r="18.2"/><circle cx="723.3" cy="582.5" r="18.2"/><circle cx="723.6" cy="610.6" r="18.2"/><circle cx="723.8" cy="603.9" r="18.2"/><circle cx="724.1" cy="587.8" r="18.2"/><circle cx="724.4" cy="591.5" r="18.2"/><circle cx="724.7" cy="645.5" r="18.2"/><circle cx="724.9" cy="583.5" r="18.2"/><circle cx="725.2" cy="547.6" r="18.2"/><circle cx="725.5" cy="650.5" r="18.2"/><circle cx="725.8" cy="577.7" r="18.2"/><circle cx="726.1" cy="594" r="18.2"/><circle cx="726.3" cy="606.5" r="18.2"/><circle cx="726.6" cy="568.6" r="18.2"/><circle cx="726.9" cy="634.5" r="18.2"/><circle cx="727.2" cy="600.1" r="18.2"/><circle cx="727.4" cy="566.8" r="18.2"/><circle cx="727.7" cy="609.7" r="18.2"/><circle cx="728" cy="615.6" r="18.2"/><circle cx="728.3" cy="602.1" r="18.2"/><circle cx="728.5" cy="616.6" r="18.2"/><circle cx="728.8" cy="565.5" r="18.2"/><circle cx="729.1" cy="628.9" r="18.2"/><circle cx="729.4" cy="583.2" r="18.2"/><circle cx="729.7" cy="638.1" r="18.2"/><circle cx="729.9" cy="588.8" r="18.2"/><circle cx="730.2" cy="608.9" r="18.2"/><circle cx="730.5" cy="661.4" r="18.2"/><circle cx="730.8" cy="606.6" r="18.2"/><circle cx="731" cy="634.1" r="18.2"/><circle cx="731.3" cy="618.1" r="18.2"/><circle cx="731.6" cy="567.2" r="18.2"/><circle cx="731.9" cy="635.7" r="18.2"/><circle cx="732.1" cy="634.3" r="18.2"/><circle cx="732.4" cy="570" r="18.2"/><circle cx="732.7" cy="604.2" r="18.2"/><circle cx="733" cy="567.6" r="18.2"/><circle cx="733.2" cy="599.1" r="18.2"/><circle cx="733.5" cy="630.2" r="18.2"/><circle cx="733.8" cy="609.3" r="18.2"/><circle cx="734.1" cy="576" r="18.2"/><circle cx="734.4" cy="583.5" r="18.2"/><circle cx="734.6" cy="607.7" r="18.2"/><circle cx="734.9" cy="606.5" r="18.2"/><circle cx="735.2" cy="610.7" r="18.2"/><circle cx="735.5" cy="622.8" r="18.2"/><circle cx="735.7" cy="558.2" r="18.2"/><circle cx="736" cy="607.7" r="18.2"/><circle cx="736.3" cy="637.1" r="18.2"/><circle cx="736.6" cy="620.2" r="18.2"/><circle cx="736.8" cy="589.2" r="18.2"/><circle cx="737.1" cy="591.4" r="18.2"/><circle cx="737.4" cy="611.4" r="18.2"/><circle cx="737.7" cy="625" r="18.2"/><circle cx="738" cy="607.1" r="18.2"/><circle cx="738.2" cy="650.8" r="18.2"/><circle cx="738.5" cy="641.1" r="18.2"/><circle cx="738.8" cy="586.9" r="18.2"/><circle cx="739.1" cy="619.6" r="18.2"/><circle cx="739.3" cy="597.5" r="18.2"/><circle cx="739.6" cy="575.6" r="18.2"/><circle cx="739.9" cy="590" r="18.2"/><circle cx="740.2" cy="606" r="18.2"/><circle cx="740.4" cy="551.5" r="18.2"/><circle cx="740.7" cy="588.9" r="18.2"/><circle cx="741" cy="615" r="18.2"/><circle cx="741.3" cy="586.8" r="18.2"/><circle cx="741.6" cy="594.9" r="18.2"/><circle cx="741.8" cy="627.2" r="18.2"/><circle cx="742.1" cy="602.9" r="18.2"/><circle cx="742.4" cy="608.8" r="18.2"/><circle cx="742.7" cy="654.9" r="18.2"/><circle cx="742.9" cy="608.3" r="18.2"/><circle cx="743.2" cy="610.8" r="18.2"/><circle cx="743.5" cy="614.5" r="18.2"/><circle cx="743.8" cy="645.3" r="18.2"/><circle cx="744" cy="611.6" r="18.2"/><circle cx="744.3" cy="603.1" r="18.2"/><circle cx="744.6" cy="599.1" r="18.2"/><circle cx="744.9" cy="630.6" r="18.2"/><circle cx="745.2" cy="584.6" r="18.2"/><circle cx="745.4" cy="631.9" r="18.2"/><circle cx="745.7" cy="605.9" r="18.2"/><circle cx="746" cy="566" r="18.2"/><circle cx="746.3" cy="617.2" r="18.2"/><circle cx="746.5" cy="612.1" r="18.2"/><circle cx="746.8" cy="570.7" r="18.2"/><circle cx="747.1" cy="607.9" r="18.2"/><circle cx="747.4" cy="605.2" r="18.2"/><circle cx="747.6" cy="591.4" r="18.2"/><circle cx="747.9" cy="569.6" r="18.2"/><circle cx="748.2" cy="651.5" r="18.2"/><circle cx="748.5" cy="617.2" r="18.2"/><circle cx="748.7" cy="621.4" r="18.2"/><circle cx="749" cy="622.9" r="18.2"/><circle cx="749.3" cy="616.5" r="18.2"/><circle cx="749.6" cy="615.6" r="18.2"/><circle cx="749.9" cy="585.7" r="18.2"/><circle cx="750.1" cy="616" r="18.2"/><circle cx="750.4" cy="589.4" r="18.2"/><circle cx="750.7" cy="581.8" r="18.2"/><circle cx="751" cy="610.5" r="18.2"/><circle cx="751.2" cy="587.9" r="18.2"/><circle cx="751.5" cy="548.5" r="18.2"/><circle cx="751.8" cy="582" r="18.2"/><circle cx="752.1" cy="606.3" r="18.2"/><circle cx="752.3" cy="591.1" r="18.2"/><circle cx="752.6" cy="612.6" r="18.2"/><circle cx="752.9" cy="581.6" r="18.2"/><circle cx="753.2" cy="565.9" r="18.2"/><circle cx="753.5" cy="608.8" r="18.2"/><circle cx="753.7" cy="592.6" r="18.2"/><circle cx="754" cy="558.1" r="18.2"/><circle cx="754.3" cy="599.1" r="18.2"/><circle cx="754.6" cy="581" r="18.2"/><circle cx="754.8" cy="611.7" r="18.2"/><circle cx="755.1" cy="606" r="18.2"/><circle cx="755.4" cy="597.6" r="18.2"/><circle cx="755.7" cy="529" r="18.2"/><circle cx="755.9" cy="593.7" r="18.2"/><circle cx="756.2" cy="596.3" r="18.2"/><circle cx="756.5" cy="596.6" r="18.2"/><circle cx="756.8" cy="586" r="18.2"/><circle cx="757.1" cy="564.8" r="18.2"/><circle cx="757.3" cy="576" r="18.2"/><circle cx="757.6" cy="528.3" r="18.2"/><circle cx="757.9" cy="574.3" r="18.2"/><circle cx="758.2" cy="542.6" r="18.2"/><circle cx="758.4" cy="571.6" r="18.2"/><circle cx="758.7" cy="562.7" r="18.2"/><circle cx="759" cy="613.9" r="18.2"/><circle cx="759.3" cy="580" r="18.2"/><circle cx="759.5" cy="578" r="18.2"/><circle cx="759.8" cy="581.8" r="18.2"/><circle cx="760.1" cy="629.4" r="18.2"/><circle cx="760.4" cy="552.1" r="18.2"/><circle cx="760.7" cy="583.6" r="18.2"/><circle cx="760.9" cy="584.3" r="18.2"/><circle cx="761.2" cy="579" r="18.2"/><circle cx="761.5" cy="577.7" r="18.2"/><circle cx="761.8" cy="561" r="18.2"/><circle cx="762" cy="602.8" r="18.2"/><circle cx="762.3" cy="593.6" r="18.2"/><circle cx="762.6" cy="562" r="18.2"/><circle cx="762.9" cy="565" r="18.2"/><circle cx="763.1" cy="577.6" r="18.2"/><circle cx="763.4" cy="582" r="18.2"/><circle cx="763.7" cy="587.9" r="18.2"/><circle cx="764" cy="567.6" r="18.2"/><circle cx="764.3" cy="535.5" r="18.2"/><circle cx="764.5" cy="591.6" r="18.2"/><circle cx="764.8" cy="525.5" r="18.2"/><circle cx="765.1" cy="542" r="18.2"/><circle cx="765.4" cy="574.2" r="18.2"/><circle cx="765.6" cy="542.2" r="18.2"/><circle cx="765.9" cy="598.5" r="18.2"/><circle cx="766.2" cy="604.6" r="18.2"/><circle cx="766.5" cy="592.7" r="18.2"/><circle cx="766.7" cy="569.7" r="18.2"/><circle cx="767" cy="566.9" r="18.2"/><circle cx="767.3" cy="571" r="18.2"/><circle cx="767.6" cy="554.7" r="18.2"/><circle cx="767.8" cy="610.7" r="18.2"/><circle cx="768.1" cy="543.2" r="18.2"/><circle cx="768.4" cy="591.2" r="18.2"/><circle cx="768.7" cy="571.2" r="18.2"/><circle cx="769" cy="564.2" r="18.2"/><circle cx="769.2" cy="582.4" r="18.2"/><circle cx="769.5" cy="587.2" r="18.2"/><circle cx="769.8" cy="577.2" r="18.2"/><circle cx="770.1" cy="551.2" r="18.2"/><circle cx="770.3" cy="535.2" r="18.2"/><circle cx="770.6" cy="535.1" r="18.2"/><circle cx="770.9" cy="574.1" r="18.2"/><circle cx="771.2" cy="568.2" r="18.2"/><circle cx="771.4" cy="570.8" r="18.2"/><circle cx="771.7" cy="535.2" r="18.2"/><circle cx="772" cy="597.8" r="18.2"/><circle cx="772.3" cy="513.7" r="18.2"/><circle cx="772.6" cy="556.9" r="18.2"/><circle cx="772.8" cy="563.8" r="18.2"/><circle cx="773.1" cy="534.5" r="18.2"/><circle cx="773.4" cy="516.1" r="18.2"/><circle cx="773.7" cy="533" r="18.2"/><circle cx="773.9" cy="514.2" r="18.2"/><circle cx="774.2" cy="536.9" r="18.2"/><circle cx="774.5" cy="508.3" r="18.2"/><circle cx="774.8" cy="507.1" r="18.2"/><circle cx="775" cy="540.7" r="18.2"/><circle cx="775.3" cy="500.7" r="18.2"/><circle cx="775.6" cy="532.5" r="18.2"/><circle cx="775.9" cy="533.7" r="18.2"/><circle cx="776.2" cy="558.7" r="18.2"/><circle cx="776.4" cy="541.8" r="18.2"/><circle cx="776.7" cy="513.7" r="18.2"/><circle cx="777" cy="566.4" r="18.2"/><circle cx="777.3" cy="515.4" r="18.2"/><circle cx="777.5" cy="522.3" r="18.2"/><circle cx="777.8" cy="523.3" r="18.2"/><circle cx="778.1" cy="585.8" r="18.2"/><circle cx="778.4" cy="531.4" r="18.2"/><circle cx="778.6" cy="511.3" r="18.2"/><circle cx="778.9" cy="546.6" r="18.2"/><circle cx="779.2" cy="523.9" r="18.2"/><circle cx="779.5" cy="581.7" r="18.2"/><circle cx="779.8" cy="507.3" r="18.2"/><circle cx="780" cy="540.6" r="18.2"/><circle cx="780.3" cy="500.4" r="18.2"/><circle cx="780.6" cy="569.1" r="18.2"/><circle cx="780.9" cy="503.2" r="18.2"/><circle cx="781.1" cy="526.2" r="18.2"/><circle cx="781.4" cy="498.5" r="18.2"/><circle cx="781.7" cy="542.1" r="18.2"/><circle cx="782" cy="533.3" r="18.2"/><circle cx="782.2" cy="460" r="18.2"/><circle cx="782.5" cy="536.9" r="18.2"/><circle cx="782.8" cy="532.8" r="18.2"/><circle cx="783.1" cy="520.9" r="18.2"/><circle cx="783.3" cy="539.2" r="18.2"/><circle cx="783.6" cy="481.4" r="18.2"/><circle cx="783.9" cy="466.7" r="18.2"/><circle cx="784.2" cy="528.2" r="18.2"/><circle cx="784.5" cy="553.6" r="18.2"/><circle cx="784.7" cy="478.2" r="18.2"/><circle cx="785" cy="478.9" r="18.2"/><circle cx="785.3" cy="485.3" r="18.2"/><circle cx="785.6" cy="475.8" r="18.2"/><circle cx="785.8" cy="527" r="18.2"/><circle cx="786.1" cy="508.1" r="18.2"/><circle cx="786.4" cy="538.5" r="18.2"/><circle cx="786.7" cy="538.5" r="18.2"/><circle cx="786.9" cy="475.7" r="18.2"/><circle cx="787.2" cy="517.4" r="18.2"/><circle cx="787.5" cy="442.5" r="18.2"/><circle cx="787.8" cy="496.4" r="18.2"/><circle cx="788.1" cy="513.9" r="18.2"/><circle cx="788.3" cy="475.9" r="18.2"/><circle cx="788.6" cy="449.1" r="18.2"/><circle cx="788.9" cy="482.2" r="18.2"/><circle cx="789.2" cy="525.3" r="18.2"/><circle cx="789.4" cy="483.4" r="18.2"/><circle cx="789.7" cy="456.6" r="18.2"/><circle cx="790" cy="504" r="18.2"/><circle cx="790.3" cy="510.4" r="18.2"/><circle cx="790.5" cy="463.2" r="18.2"/><circle cx="790.8" cy="485.1" r="18.2"/><circle cx="791.1" cy="516.4" r="18.2"/><circle cx="791.4" cy="496.8" r="18.2"/><circle cx="791.7" cy="505.7" r="18.2"/><circle cx="791.9" cy="477.7" r="18.2"/><circle cx="792.2" cy="481.7" r="18.2"/><circle cx="792.5" cy="453.9" r="18.2"/><circle cx="792.8" cy="464.5" r="18.2"/><circle cx="793" cy="522.6" r="18.2"/><circle cx="793.3" cy="470.8" r="18.2"/><circle cx="793.6" cy="457.3" r="18.2"/><circle cx="793.9" cy="468" r="18.2"/><circle cx="794.1" cy="452.3" r="18.2"/><circle cx="794.4" cy="492.6" r="18.2"/><circle cx="794.7" cy="502.2" r="18.2"/><circle cx="795" cy="452.7" r="18.2"/><circle cx="795.3" cy="503.8" r="18.2"/><circle cx="795.5" cy="531.5" r="18.2"/><circle cx="795.8" cy="448.1" r="18.2"/><circle cx="796.1" cy="492.9" r="18.2"/><circle cx="796.4" cy="481.3" r="18.2"/><circle cx="796.6" cy="509" r="18.2"/><circle cx="796.9" cy="506.5" r="18.2"/><circle cx="797.2" cy="501.5" r="18.2"/><circle cx="797.5" cy="480.2" r="18.2"/><circle cx="797.7" cy="460.6" r="18.2"/><circle cx="798" cy="526.8" r="18.2"/><circle cx="798.3" cy="449.5" r="18.2"/><circle cx="798.6" cy="499.2" r="18.2"/><circle cx="798.8" cy="495.7" r="18.2"/><circle cx="799.1" cy="449.8" r="18.2"/><circle cx="799.4" cy="468.8" r="18.2"/><circle cx="799.7" cy="506.3" r="18.2"/><circle cx="800" cy="417.9" r="18.2"/><circle cx="800.2" cy="487.8" r="18.2"/><circle cx="800.5" cy="458.5" r="18.2"/><circle cx="800.8" cy="459.3" r="18.2"/><circle cx="801.1" cy="427.3" r="18.2"/><circle cx="801.3" cy="475.5" r="18.2"/><circle cx="801.6" cy="437" r="18.2"/><circle cx="801.9" cy="482.2" r="18.2"/><circle cx="802.2" cy="433.2" r="18.2"/><circle cx="802.4" cy="481.9" r="18.2"/><circle cx="802.7" cy="471.1" r="18.2"/><circle cx="803" cy="411.9" r="18.2"/><circle cx="803.3" cy="452.7" r="18.2"/><circle cx="803.6" cy="457.8" r="18.2"/><circle cx="803.8" cy="403" r="18.2"/><circle cx="804.1" cy="450.5" r="18.2"/><circle cx="804.4" cy="480.9" r="18.2"/><circle cx="804.7" cy="440.1" r="18.2"/><circle cx="804.9" cy="489.8" r="18.2"/><circle cx="805.2" cy="429.2" r="18.2"/><circle cx="805.5" cy="426.9" r="18.2"/><circle cx="805.8" cy="473" r="18.2"/><circle cx="806" cy="474.1" r="18.2"/><circle cx="806.3" cy="452.8" r="18.2"/><circle cx="806.6" cy="456.8" r="18.2"/><circle cx="806.9" cy="482.4" r="18.2"/><circle cx="807.2" cy="441.8" r="18.2"/><circle cx="807.4" cy="509.6" r="18.2"/><circle cx="807.7" cy="467.3" r="18.2"/><circle cx="808" cy="466.3" r="18.2"/><circle cx="808.3" cy="462.6" r="18.2"/><circle cx="808.5" cy="447.2" r="18.2"/><circle cx="808.8" cy="487" r="18.2"/><circle cx="809.1" cy="439.3" r="18.2"/><circle cx="809.4" cy="459.1" r="18.2"/><circle cx="809.6" cy="471.2" r="18.2"/><circle cx="809.9" cy="489.6" r="18.2"/><circle cx="810.2" cy="484.6" r="18.2"/><circle cx="810.5" cy="444" r="18.2"/><circle cx="810.8" cy="478.3" r="18.2"/><circle cx="811" cy="451.2" r="18.2"/><circle cx="811.3" cy="424.9" r="18.2"/><circle cx="811.6" cy="425.5" r="18.2"/><circle cx="811.9" cy="411.4" r="18.2"/><circle cx="812.1" cy="459.7" r="18.2"/><circle cx="812.4" cy="480" r="18.2"/><circle cx="812.7" cy="424.8" r="18.2"/><circle cx="813" cy="443.1" r="18.2"/><circle cx="813.2" cy="421.5" r="18.2"/><circle cx="813.5" cy="450.4" r="18.2"/><circle cx="813.8" cy="419.2" r="18.2"/><circle cx="814.1" cy="428" r="18.2"/><circle cx="814.3" cy="431.2" r="18.2"/><circle cx="814.6" cy="436.4" r="18.2"/><circle cx="814.9" cy="438.9" r="18.2"/><circle cx="815.2" cy="443" r="18.2"/><circle cx="815.5" cy="442.9" r="18.2"/><circle cx="815.7" cy="422.6" r="18.2"/><circle cx="816" cy="461.6" r="18.2"/><circle cx="816.3" cy="402.6" r="18.2"/><circle cx="816.6" cy="450.5" r="18.2"/><circle cx="816.8" cy="421.6" r="18.2"/><circle cx="817.1" cy="449.4" r="18.2"/><circle cx="817.4" cy="453.2" r="18.2"/><circle cx="817.7" cy="393.3" r="18.2"/><circle cx="817.9" cy="454.3" r="18.2"/><circle cx="818.2" cy="479.3" r="18.2"/><circle cx="818.5" cy="464.2" r="18.2"/><circle cx="818.8" cy="453.5" r="18.2"/><circle cx="819.1" cy="388.5" r="18.2"/><circle cx="819.3" cy="439.1" r="18.2"/><circle cx="819.6" cy="419.7" r="18.2"/><circle cx="819.9" cy="470.1" r="18.2"/><circle cx="820.2" cy="434.3" r="18.2"/><circle cx="820.4" cy="425.6" r="18.2"/><circle cx="820.7" cy="395.6" r="18.2"/><circle cx="821" cy="460.7" r="18.2"/><circle cx="821.3" cy="426.3" r="18.2"/><circle cx="821.5" cy="433.8" r="18.2"/><circle cx="821.8" cy="468.2" r="18.2"/><circle cx="822.1" cy="441.6" r="18.2"/><circle cx="822.4" cy="447.6" r="18.2"/><circle cx="822.7" cy="498" r="18.2"/><circle cx="822.9" cy="424.4" r="18.2"/><circle cx="823.2" cy="425.5" r="18.2"/><circle cx="823.5" cy="450.8" r="18.2"/><circle cx="823.8" cy="474.1" r="18.2"/><circle cx="824" cy="399.8" r="18.2"/><circle cx="824.3" cy="431.3" r="18.2"/><circle cx="824.6" cy="411.3" r="18.2"/><circle cx="824.9" cy="400.6" r="18.2"/><circle cx="825.1" cy="450.8" r="18.2"/><circle cx="825.4" cy="415.5" r="18.2"/><circle cx="825.7" cy="442.7" r="18.2"/><circle cx="826" cy="437.7" r="18.2"/><circle cx="826.3" cy="437.9" r="18.2"/><circle cx="826.5" cy="435.3" r="18.2"/><circle cx="826.8" cy="405.6" r="18.2"/><circle cx="827.1" cy="431.2" r="18.2"/><circle cx="827.4" cy="438" r="18.2"/><circle cx="827.6" cy="440.8" r="18.2"/><circle cx="827.9" cy="424.2" r="18.2"/><circle cx="828.2" cy="456.2" r="18.2"/><circle cx="828.5" cy="445.4" r="18.2"/><circle cx="828.7" cy="433.1" r="18.2"/><circle cx="829" cy="446.2" r="18.2"/><circle cx="829.3" cy="433.9" r="18.2"/><circle cx="829.6" cy="446.4" r="18.2"/><circle cx="829.9" cy="377.2" r="18.2"/><circle cx="830.1" cy="394.4" r="18.2"/><circle cx="830.4" cy="417" r="18.2"/><circle cx="830.7" cy="429.7" r="18.2"/><circle cx="831" cy="370.1" r="18.2"/><circle cx="831.2" cy="418.7" r="18.2"/><circle cx="831.5" cy="428.9" r="18.2"/><circle cx="831.8" cy="418" r="18.2"/><circle cx="832.1" cy="417.4" r="18.2"/><circle cx="832.3" cy="387.7" r="18.2"/><circle cx="832.6" cy="424.6" r="18.2"/><circle cx="832.9" cy="368.1" r="18.2"/><circle cx="833.2" cy="445.8" r="18.2"/><circle cx="833.4" cy="403.4" r="18.2"/><circle cx="833.7" cy="447.2" r="18.2"/><circle cx="834" cy="372" r="18.2"/><circle cx="834.3" cy="427.5" r="18.2"/><circle cx="834.6" cy="419.3" r="18.2"/><circle cx="834.8" cy="392.3" r="18.2"/><circle cx="835.1" cy="382.5" r="18.2"/><circle cx="835.4" cy="443.7" r="18.2"/><circle cx="835.7" cy="422.3" r="18.2"/><circle cx="835.9" cy="448.8" r="18.2"/><circle cx="836.2" cy="407.1" r="18.2"/><circle cx="836.5" cy="412.1" r="18.2"/><circle cx="836.8" cy="417.4" r="18.2"/><circle cx="837" cy="424.9" r="18.2"/><circle cx="837.3" cy="415.7" r="18.2"/><circle cx="837.6" cy="423.9" r="18.2"/><circle cx="837.9" cy="388.9" r="18.2"/><circle cx="838.2" cy="361.4" r="18.2"/><circle cx="838.4" cy="451.3" r="18.2"/><circle cx="838.7" cy="401.9" r="18.2"/><circle cx="839" cy="408.5" r="18.2"/><circle cx="839.3" cy="383.1" r="18.2"/><circle cx="839.5" cy="420" r="18.2"/><circle cx="839.8" cy="397.4" r="18.2"/><circle cx="840.1" cy="419.7" r="18.2"/><circle cx="840.4" cy="372.4" r="18.2"/><circle cx="840.6" cy="387" r="18.2"/><circle cx="840.9" cy="392.7" r="18.2"/><circle cx="841.2" cy="377.3" r="18.2"/><circle cx="841.5" cy="392.5" r="18.2"/><circle cx="841.8" cy="426.1" r="18.2"/><circle cx="842" cy="367.9" r="18.2"/><circle cx="842.3" cy="375" r="18.2"/><circle cx="842.6" cy="385.7" r="18.2"/><circle cx="842.9" cy="354.5" r="18.2"/><circle cx="843.1" cy="347.3" r="18.2"/><circle cx="843.4" cy="407.9" r="18.2"/><circle cx="843.7" cy="398.8" r="18.2"/><circle cx="844" cy="336.1" r="18.2"/><circle cx="844.2" cy="338.8" r="18.2"/><circle cx="844.5" cy="395.6" r="18.2"/><circle cx="844.8" cy="406.7" r="18.2"/><circle cx="845.1" cy="391.7" r="18.2"/><circle cx="845.4" cy="387.4" r="18.2"/><circle cx="845.6" cy="415.8" r="18.2"/><circle cx="845.9" cy="372.2" r="18.2"/><circle cx="846.2" cy="406.6" r="18.2"/><circle cx="846.5" cy="404.2" r="18.2"/><circle cx="846.7" cy="346.9" r="18.2"/><circle cx="847" cy="389" r="18.2"/><circle cx="847.3" cy="372.2" r="18.2"/><circle cx="847.6" cy="353" r="18.2"/><circle cx="847.8" cy="347.5" r="18.2"/><circle cx="848.1" cy="377.7" r="18.2"/><circle cx="848.4" cy="367.1" r="18.2"/><circle cx="848.7" cy="389.8" r="18.2"/><circle cx="848.9" cy="320.6" r="18.2"/><circle cx="849.2" cy="349.4" r="18.2"/><circle cx="849.5" cy="395.7" r="18.2"/><circle cx="849.8" cy="365.7" r="18.2"/><circle cx="850.1" cy="346.3" r="18.2"/><circle cx="850.3" cy="352.1" r="18.2"/><circle cx="850.6" cy="315.6" r="18.2"/><circle cx="850.9" cy="327.4" r="18.2"/><circle cx="851.2" cy="378" r="18.2"/><circle cx="851.4" cy="365.5" r="18.2"/><circle cx="851.7" cy="397" r="18.2"/><circle cx="852" cy="355.6" r="18.2"/><circle cx="852.3" cy="357.9" r="18.2"/><circle cx="852.5" cy="302.7" r="18.2"/><circle cx="852.8" cy="358.5" r="18.2"/><circle cx="853.1" cy="416.7" r="18.2"/><circle cx="853.4" cy="378.3" r="18.2"/><circle cx="853.7" cy="356.9" r="18.2"/><circle cx="853.9" cy="393.2" r="18.2"/><circle cx="854.2" cy="382.4" r="18.2"/><circle cx="854.5" cy="368.6" r="18.2"/><circle cx="854.8" cy="349.4" r="18.2"/><circle cx="855" cy="362.6" r="18.2"/><circle cx="855.3" cy="381.6" r="18.2"/><circle cx="855.6" cy="336.4" r="18.2"/><circle cx="855.9" cy="371.6" r="18.2"/><circle cx="856.1" cy="370.2" r="18.2"/><circle cx="856.4" cy="393.5" r="18.2"/><circle cx="856.7" cy="377.3" r="18.2"/><circle cx="857" cy="338.5" r="18.2"/><circle cx="857.3" cy="398.9" r="18.2"/><circle cx="857.5" cy="357.3" r="18.2"/><circle cx="857.8" cy="335.8" r="18.2"/><circle cx="858.1" cy="364.9" r="18.2"/><circle cx="858.4" cy="348.1" r="18.2"/><circle cx="858.6" cy="384.2" r="18.2"/><circle cx="858.9" cy="318.9" r="18.2"/><circle cx="859.2" cy="324.3" r="18.2"/><circle cx="859.5" cy="347.2" r="18.2"/><circle cx="859.7" cy="400.3" r="18.2"/><circle cx="860" cy="381.1" r="18.2"/><circle cx="860.3" cy="326.6" r="18.2"/><circle cx="860.6" cy="306.7" r="18.2"/><circle cx="860.9" cy="344.4" r="18.2"/><circle cx="861.1" cy="318.7" r="18.2"/><circle cx="861.4" cy="368.2" r="18.2"/><circle cx="861.7" cy="356.8" r="18.2"/><circle cx="862" cy="351.5" r="18.2"/><circle cx="862.2" cy="340" r="18.2"/><circle cx="862.5" cy="392.1" r="18.2"/><circle cx="862.8" cy="325.7" r="18.2"/><circle cx="863.1" cy="315.3" r="18.2"/><circle cx="863.3" cy="381.3" r="18.2"/><circle cx="863.6" cy="386.7" r="18.2"/><circle cx="863.9" cy="340.8" r="18.2"/><circle cx="864.2" cy="367.5" r="18.2"/><circle cx="864.4" cy="408.7" r="18.2"/><circle cx="864.7" cy="327.9" r="18.2"/><circle cx="865" cy="345.2" r="18.2"/><circle cx="865.3" cy="362" r="18.2"/><circle cx="865.6" cy="292.3" r="18.2"/><circle cx="865.8" cy="345.1" r="18.2"/><circle cx="866.1" cy="368.8" r="18.2"/><circle cx="866.4" cy="345.7" r="18.2"/><circle cx="866.7" cy="376.1" r="18.2"/><circle cx="866.9" cy="368.5" r="18.2"/><circle cx="867.2" cy="337.5" r="18.2"/><circle cx="867.5" cy="362.5" r="18.2"/><circle cx="867.8" cy="359.6" r="18.2"/><circle cx="868" cy="302.5" r="18.2"/><circle cx="868.3" cy="324" r="18.2"/><circle cx="868.6" cy="325.4" r="18.2"/><circle cx="868.9" cy="332.6" r="18.2"/><circle cx="869.2" cy="333.6" r="18.2"/><circle cx="869.4" cy="307.3" r="18.2"/><circle cx="869.7" cy="346.7" r="18.2"/><circle cx="870" cy="296.2" r="18.2"/><circle cx="870.3" cy="371.4" r="18.2"/><circle cx="870.5" cy="352.5" r="18.2"/><circle cx="870.8" cy="382.5" r="18.2"/><circle cx="871.1" cy="354.6" r="18.2"/><circle cx="871.4" cy="331.3" r="18.2"/><circle cx="871.6" cy="306.1" r="18.2"/><circle cx="871.9" cy="362.7" r="18.2"/><circle cx="872.2" cy="344.6" r="18.2"/><circle cx="872.5" cy="354.2" r="18.2"/><circle cx="872.8" cy="364.2" r="18.2"/><circle cx="873" cy="376.2" r="18.2"/><circle cx="873.3" cy="342.5" r="18.2"/><circle cx="873.6" cy="390.5" r="18.2"/><circle cx="873.9" cy="340.8" r="18.2"/><circle cx="874.1" cy="343.1" r="18.2"/><circle cx="874.4" cy="361.2" r="18.2"/><circle cx="874.7" cy="370.5" r="18.2"/><circle cx="875" cy="380.4" r="18.2"/><circle cx="875.2" cy="292.9" r="18.2"/><circle cx="875.5" cy="379" r="18.2"/><circle cx="875.8" cy="301" r="18.2"/><circle cx="876.1" cy="326.6" r="18.2"/><circle cx="876.4" cy="352.4" r="18.2"/><circle cx="876.6" cy="373.6" r="18.2"/><circle cx="876.9" cy="314.4" r="18.2"/><circle cx="877.2" cy="295.8" r="18.2"/><circle cx="877.5" cy="367.2" r="18.2"/><circle cx="877.7" cy="350.1" r="18.2"/><circle cx="878" cy="313.7" r="18.2"/><circle cx="878.3" cy="332.8" r="18.2"/><circle cx="878.6" cy="288" r="18.2"/><circle cx="878.8" cy="357" r="18.2"/><circle cx="879.1" cy="327" r="18.2"/><circle cx="879.4" cy="375.1" r="18.2"/><circle cx="879.7" cy="285" r="18.2"/><circle cx="879.9" cy="360.9" r="18.2"/><circle cx="880.2" cy="400.3" r="18.2"/><circle cx="880.5" cy="344.5" r="18.2"/><circle cx="880.8" cy="344.8" r="18.2"/><circle cx="881.1" cy="289.5" r="18.2"/><circle cx="881.3" cy="350" r="18.2"/><circle cx="881.6" cy="341.2" r="18.2"/><circle cx="881.9" cy="324.8" r="18.2"/><circle cx="882.2" cy="298.1" r="18.2"/><circle cx="882.4" cy="342.4" r="18.2"/><circle cx="882.7" cy="312.7" r="18.2"/><circle cx="883" cy="326.6" r="18.2"/><circle cx="883.3" cy="348.5" r="18.2"/><circle cx="883.5" cy="338.4" r="18.2"/><circle cx="883.8" cy="339.7" r="18.2"/><circle cx="884.1" cy="365" r="18.2"/><circle cx="884.4" cy="307.8" r="18.2"/><circle cx="884.7" cy="377.6" r="18.2"/><circle cx="884.9" cy="308.9" r="18.2"/><circle cx="885.2" cy="314.7" r="18.2"/><circle cx="885.5" cy="342.8" r="18.2"/><circle cx="885.8" cy="360.9" r="18.2"/><circle cx="886" cy="346.4" r="18.2"/><circle cx="886.3" cy="327.6" r="18.2"/><circle cx="886.6" cy="320.3" r="18.2"/><circle cx="886.9" cy="332.6" r="18.2"/><circle cx="887.1" cy="313.7" r="18.2"/><circle cx="887.4" cy="355.3" r="18.2"/><circle cx="887.7" cy="334.1" r="18.2"/><circle cx="888" cy="382.5" r="18.2"/><circle cx="888.3" cy="319.9" r="18.2"/><circle cx="888.5" cy="336.3" r="18.2"/><circle cx="888.8" cy="351.6" r="18.2"/><circle cx="889.1" cy="309.3" r="18.2"/><circle cx="889.4" cy="321.9" r="18.2"/><circle cx="889.6" cy="399.7" r="18.2"/><circle cx="889.9" cy="339.5" r="18.2"/><circle cx="890.2" cy="379.7" r="18.2"/><circle cx="890.5" cy="312" r="18.2"/><circle cx="890.7" cy="281.6" r="18.2"/><circle cx="891" cy="354.7" r="18.2"/><circle cx="891.3" cy="338.8" r="18.2"/><circle cx="891.6" cy="347.6" r="18.2"/><circle cx="891.9" cy="331.5" r="18.2"/><circle cx="892.1" cy="323.6" r="18.2"/><circle cx="892.4" cy="306.4" r="18.2"/><circle cx="892.7" cy="367.6" r="18.2"/><circle cx="893" cy="298.9" r="18.2"/><circle cx="893.2" cy="366.2" r="18.2"/><circle cx="893.5" cy="333.8" r="18.2"/><circle cx="893.8" cy="310.2" r="18.2"/><circle cx="894.1" cy="322.2" r="18.2"/><circle cx="894.3" cy="366.7" r="18.2"/><circle cx="894.6" cy="360.4" r="18.2"/><circle cx="894.9" cy="354" r="18.2"/><circle cx="895.2" cy="343.1" r="18.2"/><circle cx="895.4" cy="311" r="18.2"/><circle cx="895.7" cy="376.6" r="18.2"/><circle cx="896" cy="329.4" r="18.2"/><circle cx="896.3" cy="325.6" r="18.2"/><circle cx="896.6" cy="327.1" r="18.2"/><circle cx="896.8" cy="329.7" r="18.2"/><circle cx="897.1" cy="301.5" r="18.2"/><circle cx="897.4" cy="329.3" r="18.2"/><circle cx="897.7" cy="319.4" r="18.2"/><circle cx="897.9" cy="327.4" r="18.2"/><circle cx="898.2" cy="294.5" r="18.2"/><circle cx="898.5" cy="393.8" r="18.2"/><circle cx="898.8" cy="308.4" r="18.2"/><circle cx="899" cy="350" r="18.2"/><circle cx="899.3" cy="350.6" r="18.2"/><circle cx="899.6" cy="369.2" r="18.2"/><circle cx="899.9" cy="393.4" r="18.2"/><circle cx="900.2" cy="353.6" r="18.2"/><circle cx="900.4" cy="361.9" r="18.2"/><circle cx="900.7" cy="330.3" r="18.2"/><circle cx="901" cy="383.2" r="18.2"/><circle cx="901.3" cy="305.3" r="18.2"/><circle cx="901.5" cy="336.6" r="18.2"/><circle cx="901.8" cy="350.7" r="18.2"/><circle cx="902.1" cy="363.2" r="18.2"/><circle cx="902.4" cy="365.4" r="18.2"/><circle cx="902.6" cy="374.7" r="18.2"/><circle cx="902.9" cy="359.1" r="18.2"/><circle cx="903.2" cy="344.4" r="18.2"/><circle cx="903.5" cy="349.5" r="18.2"/><circle cx="903.8" cy="382.8" r="18.2"/><circle cx="904" cy="352.1" r="18.2"/><circle cx="904.3" cy="369" r="18.2"/><circle cx="904.6" cy="340.9" r="18.2"/><circle cx="904.9" cy="295.3" r="18.2"/><circle cx="905.1" cy="328.7" r="18.2"/><circle cx="905.4" cy="354" r="18.2"/><circle cx="905.7" cy="389.3" r="18.2"/><circle cx="906" cy="383.8" r="18.2"/><circle cx="906.2" cy="391.2" r="18.2"/><circle cx="906.5" cy="326.6" r="18.2"/><circle cx="906.8" cy="366.7" r="18.2"/><circle cx="907.1" cy="344.6" r="18.2"/><circle cx="907.4" cy="363.1" r="18.2"/><circle cx="907.6" cy="344.1" r="18.2"/><circle cx="907.9" cy="309.1" r="18.2"/><circle cx="908.2" cy="365.3" r="18.2"/><circle cx="908.5" cy="356.2" r="18.2"/><circle cx="908.7" cy="368.9" r="18.2"/><circle cx="909" cy="324" r="18.2"/><circle cx="909.3" cy="375.1" r="18.2"/><circle cx="909.6" cy="378.2" r="18.2"/><circle cx="909.8" cy="385.3" r="18.2"/><circle cx="910.1" cy="386" r="18.2"/><circle cx="910.4" cy="335.9" r="18.2"/><circle cx="910.7" cy="289.7" r="18.2"/><circle cx="911" cy="375.6" r="18.2"/><circle cx="911.2" cy="323.7" r="18.2"/><circle cx="911.5" cy="342.7" r="18.2"/><circle cx="911.8" cy="379.3" r="18.2"/><circle cx="912.1" cy="357.4" r="18.2"/><circle cx="912.3" cy="356.5" r="18.2"/><circle cx="912.6" cy="369.1" r="18.2"/><circle cx="912.9" cy="299.1" r="18.2"/><circle cx="913.2" cy="402.2" r="18.2"/><circle cx="913.4" cy="341.2" r="18.2"/><circle cx="913.7" cy="342.8" r="18.2"/><circle cx="914" cy="367.6" r="18.2"/><circle cx="914.3" cy="348.3" r="18.2"/><circle cx="914.5" cy="329.2" r="18.2"/><circle cx="914.8" cy="348.9" r="18.2"/><circle cx="915.1" cy="342.1" r="18.2"/><circle cx="915.4" cy="335.1" r="18.2"/><circle cx="915.7" cy="408.4" r="18.2"/><circle cx="915.9" cy="314.8" r="18.2"/><circle cx="916.2" cy="295.8" r="18.2"/><circle cx="916.5" cy="328.8" r="18.2"/><circle cx="916.8" cy="328.3" r="18.2"/><circle cx="917" cy="393.5" r="18.2"/><circle cx="917.3" cy="359.3" r="18.2"/><circle cx="917.6" cy="378.3" r="18.2"/><circle cx="917.9" cy="372.6" r="18.2"/><circle cx="918.1" cy="331.4" r="18.2"/><circle cx="918.4" cy="379.2" r="18.2"/><circle cx="918.7" cy="361.6" r="18.2"/><circle cx="919" cy="409.5" r="18.2"/><circle cx="919.3" cy="363.1" r="18.2"/><circle cx="919.5" cy="356.9" r="18.2"/><circle cx="919.8" cy="378.5" r="18.2"/><circle cx="920.1" cy="379.3" r="18.2"/><circle cx="920.4" cy="310.1" r="18.2"/><circle cx="920.6" cy="393.2" r="18.2"/><circle cx="920.9" cy="389.4" r="18.2"/><circle cx="921.2" cy="383.4" r="18.2"/><circle cx="921.5" cy="330.1" r="18.2"/><circle cx="921.7" cy="306.4" r="18.2"/><circle cx="922" cy="354.1" r="18.2"/><circle cx="922.3" cy="382.6" r="18.2"/><circle cx="922.6" cy="375.3" r="18.2"/><circle cx="922.9" cy="335.9" r="18.2"/><circle cx="923.1" cy="389.1" r="18.2"/><circle cx="923.4" cy="326.4" r="18.2"/><circle cx="923.7" cy="327.8" r="18.2"/><circle cx="924" cy="364.2" r="18.2"/><circle cx="924.2" cy="349.2" r="18.2"/><circle cx="924.5" cy="346.9" r="18.2"/><circle cx="924.8" cy="325.9" r="18.2"/><circle cx="925.1" cy="395.9" r="18.2"/><circle cx="925.3" cy="336.7" r="18.2"/><circle cx="925.6" cy="378.7" r="18.2"/><circle cx="925.9" cy="389.6" r="18.2"/><circle cx="926.2" cy="366.8" r="18.2"/><circle cx="926.5" cy="375.7" r="18.2"/><circle cx="926.7" cy="396.8" r="18.2"/><circle cx="927" cy="413.5" r="18.2"/><circle cx="927.3" cy="396.5" r="18.2"/><circle cx="927.6" cy="333.1" r="18.2"/><circle cx="927.8" cy="319.9" r="18.2"/><circle cx="928.1" cy="355.4" r="18.2"/><circle cx="928.4" cy="341.5" r="18.2"/><circle cx="928.7" cy="387.3" r="18.2"/><circle cx="928.9" cy="376.1" r="18.2"/><circle cx="929.2" cy="366.9" r="18.2"/><circle cx="929.5" cy="403.7" r="18.2"/><circle cx="929.8" cy="401.7" r="18.2"/><circle cx="930" cy="373.2" r="18.2"/><circle cx="930.3" cy="384.7" r="18.2"/><circle cx="930.6" cy="405" r="18.2"/><circle cx="930.9" cy="366.8" r="18.2"/><circle cx="931.2" cy="384.5" r="18.2"/><circle cx="931.4" cy="350.7" r="18.2"/><circle cx="931.7" cy="378.5" r="18.2"/><circle cx="932" cy="386.8" r="18.2"/><circle cx="932.3" cy="375.8" r="18.2"/><circle cx="932.5" cy="384.2" r="18.2"/><circle cx="932.8" cy="397.8" r="18.2"/><circle cx="933.1" cy="391.1" r="18.2"/><circle cx="933.4" cy="360.9" r="18.2"/><circle cx="933.6" cy="364.1" r="18.2"/><circle cx="933.9" cy="347.5" r="18.2"/><circle cx="934.2" cy="427.1" r="18.2"/><circle cx="934.5" cy="392.9" r="18.2"/><circle cx="934.8" cy="393.9" r="18.2"/><circle cx="935" cy="378.8" r="18.2"/><circle cx="935.3" cy="395.8" r="18.2"/><circle cx="935.6" cy="397.8" r="18.2"/><circle cx="935.9" cy="363.8" r="18.2"/><circle cx="936.1" cy="380.3" r="18.2"/><circle cx="936.4" cy="416.4" r="18.2"/><circle cx="936.7" cy="350.4" r="18.2"/><circle cx="937" cy="359.8" r="18.2"/><circle cx="937.2" cy="401.9" r="18.2"/><circle cx="937.5" cy="365" r="18.2"/><circle cx="937.8" cy="407.1" r="18.2"/><circle cx="938.1" cy="358.1" r="18.2"/><circle cx="938.4" cy="394.2" r="18.2"/><circle cx="938.6" cy="410.2" r="18.2"/><circle cx="938.9" cy="399.2" r="18.2"/><circle cx="939.2" cy="410" r="18.2"/><circle cx="939.5" cy="385.1" r="18.2"/><circle cx="939.7" cy="386" r="18.2"/><circle cx="940" cy="390.1" r="18.2"/><circle cx="940.3" cy="406.3" r="18.2"/><circle cx="940.6" cy="450.3" r="18.2"/><circle cx="940.8" cy="389.9" r="18.2"/><circle cx="941.1" cy="443.1" r="18.2"/><circle cx="941.4" cy="386.8" r="18.2"/><circle cx="941.7" cy="363.8" r="18.2"/><circle cx="942" cy="386.9" r="18.2"/><circle cx="942.2" cy="405" r="18.2"/><circle cx="942.5" cy="399.9" r="18.2"/><circle cx="942.8" cy="399.1" r="18.2"/><circle cx="943.1" cy="410.6" r="18.2"/><circle cx="943.3" cy="411.9" r="18.2"/><circle cx="943.6" cy="421.4" r="18.2"/><circle cx="943.9" cy="365.9" r="18.2"/><circle cx="944.2" cy="398.3" r="18.2"/><circle cx="944.4" cy="373" r="18.2"/><circle cx="944.7" cy="405.4" r="18.2"/><circle cx="945" cy="397.3" r="18.2"/><circle cx="945.3" cy="404.2" r="18.2"/><circle cx="945.5" cy="387.9" r="18.2"/><circle cx="945.8" cy="378.8" r="18.2"/><circle cx="946.1" cy="394.8" r="18.2"/><circle cx="946.4" cy="419.4" r="18.2"/><circle cx="946.7" cy="422.7" r="18.2"/><circle cx="946.9" cy="358.6" r="18.2"/><circle cx="947.2" cy="410.4" r="18.2"/><circle cx="947.5" cy="411.2" r="18.2"/><circle cx="947.8" cy="365.2" r="18.2"/><circle cx="948" cy="375.7" r="18.2"/><circle cx="948.3" cy="390.8" r="18.2"/><circle cx="948.6" cy="415.9" r="18.2"/><circle cx="948.9" cy="347.7" r="18.2"/><circle cx="949.1" cy="395.9" r="18.2"/><circle cx="949.4" cy="392.4" r="18.2"/><circle cx="949.7" cy="411.8" r="18.2"/><circle cx="950" cy="445.1" r="18.2"/><circle cx="950.3" cy="443.5" r="18.2"/><circle cx="950.5" cy="398" r="18.2"/><circle cx="950.8" cy="398.9" r="18.2"/><circle cx="951.1" cy="416" r="18.2"/><circle cx="951.4" cy="441.1" r="18.2"/><circle cx="951.6" cy="448.7" r="18.2"/><circle cx="951.9" cy="419.8" r="18.2"/><circle cx="952.2" cy="450" r="18.2"/><circle cx="952.5" cy="388.4" r="18.2"/><circle cx="952.7" cy="382.2" r="18.2"/><circle cx="953" cy="355" r="18.2"/><circle cx="953.3" cy="390.4" r="18.2"/><circle cx="953.6" cy="429.7" r="18.2"/><circle cx="953.9" cy="437.5" r="18.2"/><circle cx="954.1" cy="473" r="18.2"/><circle cx="954.4" cy="431.2" r="18.2"/><circle cx="954.7" cy="420.6" r="18.2"/><circle cx="955" cy="390.9" r="18.2"/><circle cx="955.2" cy="400.8" r="18.2"/><circle cx="955.5" cy="401.9" r="18.2"/><circle cx="955.8" cy="412.3" r="18.2"/><circle cx="956.1" cy="401" r="18.2"/><circle cx="956.3" cy="380.7" r="18.2"/><circle cx="956.6" cy="447.4" r="18.2"/><circle cx="956.9" cy="431.9" r="18.2"/><circle cx="957.2" cy="456.9" r="18.2"/><circle cx="957.5" cy="378.2" r="18.2"/><circle cx="957.7" cy="387.1" r="18.2"/><circle cx="958" cy="401.9" r="18.2"/><circle cx="958.3" cy="453.8" r="18.2"/><circle cx="958.6" cy="418.2" r="18.2"/><circle cx="958.8" cy="429.4" r="18.2"/><circle cx="959.1" cy="421.5" r="18.2"/><circle cx="959.4" cy="429.1" r="18.2"/><circle cx="959.7" cy="410.9" r="18.2"/><circle cx="959.9" cy="435.5" r="18.2"/><circle cx="960.2" cy="403.1" r="18.2"/><circle cx="960.5" cy="419.7" r="18.2"/><circle cx="960.8" cy="434.2" r="18.2"/><circle cx="961" cy="429.9" r="18.2"/><circle cx="961.3" cy="439.1" r="18.2"/><circle cx="961.6" cy="406.6" r="18.2"/><circle cx="961.9" cy="435.6" r="18.2"/><circle cx="962.2" cy="421.2" r="18.2"/><circle cx="962.4" cy="439.7" r="18.2"/><circle cx="962.7" cy="468.9" r="18.2"/><circle cx="963" cy="406.5" r="18.2"/><circle cx="963.3" cy="458.6" r="18.2"/><circle cx="963.5" cy="413.4" r="18.2"/><circle cx="963.8" cy="420.7" r="18.2"/><circle cx="964.1" cy="475.7" r="18.2"/><circle cx="964.4" cy="457.5" r="18.2"/><circle cx="964.6" cy="446.6" r="18.2"/><circle cx="964.9" cy="455.1" r="18.2"/><circle cx="965.2" cy="465.1" r="18.2"/><circle cx="965.5" cy="415.1" r="18.2"/><circle cx="965.8" cy="441.3" r="18.2"/><circle cx="966" cy="425.3" r="18.2"/><circle cx="966.3" cy="447.2" r="18.2"/><circle cx="966.6" cy="428.4" r="18.2"/><circle cx="966.9" cy="456.5" r="18.2"/><circle cx="967.1" cy="438" r="18.2"/><circle cx="967.4" cy="422.5" r="18.2"/><circle cx="967.7" cy="437" r="18.2"/><circle cx="968" cy="450.6" r="18.2"/><circle cx="968.2" cy="467.6" r="18.2"/><circle cx="968.5" cy="435.2" r="18.2"/><circle cx="968.8" cy="431" r="18.2"/><circle cx="969.1" cy="447.2" r="18.2"/><circle cx="969.4" cy="461" r="18.2"/><circle cx="969.6" cy="427.1" r="18.2"/><circle cx="969.9" cy="384.2" r="18.2"/><circle cx="970.2" cy="450.1" r="18.2"/><circle cx="970.5" cy="433.8" r="18.2"/><circle cx="970.7" cy="433.2" r="18.2"/><circle cx="971" cy="501.1" r="18.2"/><circle cx="971.3" cy="440.7" r="18.2"/><circle cx="971.6" cy="462.8" r="18.2"/><circle cx="971.8" cy="408.5" r="18.2"/><circle cx="972.1" cy="451.8" r="18.2"/><circle cx="972.4" cy="465.9" r="18.2"/><circle cx="972.7" cy="451.7" r="18.2"/><circle cx="973" cy="442.1" r="18.2"/><circle cx="973.2" cy="461.5" r="18.2"/><circle cx="973.5" cy="448.6" r="18.2"/><circle cx="973.8" cy="483.1" r="18.2"/><circle cx="974.1" cy="454" r="18.2"/><circle cx="974.3" cy="428.2" r="18.2"/><circle cx="974.6" cy="397.4" r="18.2"/><circle cx="974.9" cy="430.8" r="18.2"/><circle cx="975.2" cy="442.6" r="18.2"/><circle cx="975.4" cy="419.2" r="18.2"/><circle cx="975.7" cy="423.9" r="18.2"/><circle cx="976" cy="407.5" r="18.2"/><circle cx="976.3" cy="423" r="18.2"/><circle cx="976.5" cy="454.8" r="18.2"/><circle cx="976.8" cy="445.4" r="18.2"/><circle cx="977.1" cy="447.8" r="18.2"/><circle cx="977.4" cy="445" r="18.2"/><circle cx="977.7" cy="448.1" r="18.2"/><circle cx="977.9" cy="474.1" r="18.2"/><circle cx="978.2" cy="509" r="18.2"/><circle cx="978.5" cy="472" r="18.2"/><circle cx="978.8" cy="507.8" r="18.2"/><circle cx="979" cy="453.5" r="18.2"/><circle cx="979.3" cy="455.6" r="18.2"/><circle cx="979.6" cy="499.8" r="18.2"/><circle cx="979.9" cy="438.5" r="18.2"/><circle cx="980.1" cy="434.3" r="18.2"/><circle cx="980.4" cy="454.8" r="18.2"/><circle cx="980.7" cy="414.2" r="18.2"/><circle cx="981" cy="409.3" r="18.2"/><circle cx="981.3" cy="489.9" r="18.2"/><circle cx="981.5" cy="431.9" r="18.2"/><circle cx="981.8" cy="447.8" r="18.2"/><circle cx="982.1" cy="448.8" r="18.2"/><circle cx="982.4" cy="435.7" r="18.2"/><circle cx="982.6" cy="479.2" r="18.2"/><circle cx="982.9" cy="476.3" r="18.2"/><circle cx="983.2" cy="482.9" r="18.2"/><circle cx="983.5" cy="481.4" r="18.2"/><circle cx="983.7" cy="464.7" r="18.2"/><circle cx="984" cy="500.4" r="18.2"/><circle cx="984.3" cy="490.2" r="18.2"/><circle cx="984.6" cy="448.4" r="18.2"/><circle cx="984.9" cy="465.7" r="18.2"/><circle cx="985.1" cy="454.3" r="18.2"/><circle cx="985.4" cy="513.8" r="18.2"/><circle cx="985.7" cy="485.5" r="18.2"/><circle cx="986" cy="480" r="18.2"/><circle cx="986.2" cy="465.1" r="18.2"/><circle cx="986.5" cy="481.6" r="18.2"/><circle cx="986.8" cy="442.5" r="18.2"/><circle cx="987.1" cy="468.8" r="18.2"/><circle cx="987.3" cy="467.3" r="18.2"/><circle cx="987.6" cy="467.8" r="18.2"/><circle cx="987.9" cy="450.2" r="18.2"/><circle cx="988.2" cy="481.3" r="18.2"/><circle cx="988.5" cy="440.3" r="18.2"/><circle cx="988.7" cy="458" r="18.2"/><circle cx="989" cy="466.4" r="18.2"/><circle cx="989.3" cy="469.8" r="18.2"/><circle cx="989.6" cy="457.8" r="18.2"/><circle cx="989.8" cy="445.4" r="18.2"/><circle cx="990.1" cy="447.7" r="18.2"/><circle cx="990.4" cy="463" r="18.2"/><circle cx="990.7" cy="450.5" r="18.2"/><circle cx="990.9" cy="470.7" r="18.2"/><circle cx="991.2" cy="441.7" r="18.2"/><circle cx="991.5" cy="475.4" r="18.2"/><circle cx="991.8" cy="529.1" r="18.2"/><circle cx="992.1" cy="441" r="18.2"/><circle cx="992.3" cy="473.4" r="18.2"/><circle cx="992.6" cy="507.1" r="18.2"/><circle cx="992.9" cy="482.4" r="18.2"/><circle cx="993.2" cy="500.7" r="18.2"/><circle cx="993.4" cy="423.8" r="18.2"/><circle cx="993.7" cy="465.9" r="18.2"/><circle cx="994" cy="520" r="18.2"/><circle cx="994.3" cy="465.7" r="18.2"/><circle cx="994.5" cy="490.8" r="18.2"/><circle cx="994.8" cy="431.3" r="18.2"/><circle cx="995.1" cy="508.8" r="18.2"/><circle cx="995.4" cy="539.1" r="18.2"/><circle cx="995.6" cy="481" r="18.2"/><circle cx="995.9" cy="492.3" r="18.2"/><circle cx="996.2" cy="494.6" r="18.2"/><circle cx="996.5" cy="539.9" r="18.2"/><circle cx="996.8" cy="474" r="18.2"/><circle cx="997" cy="442.3" r="18.2"/><circle cx="997.3" cy="535.8" r="18.2"/><circle cx="997.6" cy="456.5" r="18.2"/><circle cx="997.9" cy="502.3" r="18.2"/><circle cx="998.1" cy="431.1" r="18.2"/><circle cx="998.4" cy="477.5" r="18.2"/><circle cx="998.7" cy="494.3" r="18.2"/><circle cx="999" cy="461.4" r="18.2"/><circle cx="999.2" cy="477.1" r="18.2"/><circle cx="999.5" cy="506.8" r="18.2"/><circle cx="999.8" cy="473.6" r="18.2"/><circle cx="1000.1" cy="506" r="18.2"/><circle cx="1000.4" cy="539.9" r="18.2"/><circle cx="1000.6" cy="441.2" r="18.2"/><circle cx="1000.9" cy="503.9" r="18.2"/><circle cx="1001.2" cy="511.3" r="18.2"/><circle cx="1001.5" cy="487.3" r="18.2"/><circle cx="1001.7" cy="537.5" r="18.2"/><circle cx="1002" cy="532.8" r="18.2"/><circle cx="1002.3" cy="511.3" r="18.2"/><circle cx="1002.6" cy="512.5" r="18.2"/><circle cx="1002.8" cy="497.8" r="18.2"/><circle cx="1003.1" cy="471.1" r="18.2"/><circle cx="1003.4" cy="513.5" r="18.2"/><circle cx="1003.7" cy="489" r="18.2"/><circle cx="1004" cy="486.9" r="18.2"/><circle cx="1004.2" cy="531.6" r="18.2"/><circle cx="1004.5" cy="498.1" r="18.2"/><circle cx="1004.8" cy="529.4" r="18.2"/><circle cx="1005.1" cy="477.7" r="18.2"/><circle cx="1005.3" cy="494.3" r="18.2"/><circle cx="1005.6" cy="506.5" r="18.2"/><circle cx="1005.9" cy="542.7" r="18.2"/><circle cx="1006.2" cy="505.4" r="18.2"/><circle cx="1006.4" cy="529.3" r="18.2"/><circle cx="1006.7" cy="491.5" r="18.2"/><circle cx="1007" cy="513.8" r="18.2"/><circle cx="1007.3" cy="532.7" r="18.2"/><circle cx="1007.6" cy="488" r="18.2"/><circle cx="1007.8" cy="494.1" r="18.2"/><circle cx="1008.1" cy="529.3" r="18.2"/><circle cx="1008.4" cy="484.1" r="18.2"/><circle cx="1008.7" cy="523.1" r="18.2"/><circle cx="1008.9" cy="524.1" r="18.2"/><circle cx="1009.2" cy="513.5" r="18.2"/><circle cx="1009.5" cy="537.3" r="18.2"/><circle cx="1009.8" cy="529.9" r="18.2"/><circle cx="1010" cy="523.3" r="18.2"/><circle cx="1010.3" cy="479.7" r="18.2"/><circle cx="1010.6" cy="481.2" r="18.2"/><circle cx="1010.9" cy="528.2" r="18.2"/><circle cx="1011.1" cy="479.8" r="18.2"/><circle cx="1011.4" cy="524" r="18.2"/><circle cx="1011.7" cy="513.7" r="18.2"/><circle cx="1012" cy="501.2" r="18.2"/><circle cx="1012.3" cy="517.5" r="18.2"/><circle cx="1012.5" cy="468.1" r="18.2"/><circle cx="1012.8" cy="520.3" r="18.2"/><circle cx="1013.1" cy="559" r="18.2"/><circle cx="1013.4" cy="493.9" r="18.2"/><circle cx="1013.6" cy="539.8" r="18.2"/><circle cx="1013.9" cy="537.7" r="18.2"/><circle cx="1014.2" cy="588.4" r="18.2"/><circle cx="1014.5" cy="504.9" r="18.2"/><circle cx="1014.7" cy="510.5" r="18.2"/><circle cx="1015" cy="511.7" r="18.2"/><circle cx="1015.3" cy="507.7" r="18.2"/><circle cx="1015.6" cy="489.7" r="18.2"/><circle cx="1015.9" cy="536.2" r="18.2"/><circle cx="1016.1" cy="511" r="18.2"/><circle cx="1016.4" cy="556.1" r="18.2"/><circle cx="1016.7" cy="546.5" r="18.2"/><circle cx="1017" cy="510.1" r="18.2"/><circle cx="1017.2" cy="528.4" r="18.2"/><circle cx="1017.5" cy="574.6" r="18.2"/><circle cx="1017.8" cy="530.6" r="18.2"/><circle cx="1018.1" cy="545.7" r="18.2"/><circle cx="1018.3" cy="563.2" r="18.2"/><circle cx="1018.6" cy="530.8" r="18.2"/><circle cx="1018.9" cy="553.7" r="18.2"/><circle cx="1019.2" cy="585.2" r="18.2"/><circle cx="1019.5" cy="573.8" r="18.2"/><circle cx="1019.7" cy="498.4" r="18.2"/><circle cx="1020" cy="585.9" r="18.2"/><circle cx="1020.3" cy="540.7" r="18.2"/><circle cx="1020.6" cy="531.2" r="18.2"/><circle cx="1020.8" cy="531.1" r="18.2"/><circle cx="1021.1" cy="581.2" r="18.2"/><circle cx="1021.4" cy="558" r="18.2"/><circle cx="1021.7" cy="546.5" r="18.2"/><circle cx="1021.9" cy="529.7" r="18.2"/><circle cx="1022.2" cy="568.8" r="18.2"/><circle cx="1022.5" cy="583.2" r="18.2"/><circle cx="1022.8" cy="526.6" r="18.2"/><circle cx="1023.1" cy="524.6" r="18.2"/><circle cx="1023.3" cy="544.8" r="18.2"/><circle cx="1023.6" cy="571.5" r="18.2"/><circle cx="1023.9" cy="545.3" r="18.2"/><circle cx="1024.2" cy="553.9" r="18.2"/><circle cx="1024.4" cy="535.3" r="18.2"/><circle cx="1024.7" cy="591.5" r="18.2"/><circle cx="1025" cy="556" r="18.2"/><circle cx="1025.3" cy="564" r="18.2"/><circle cx="1025.5" cy="590" r="18.2"/><circle cx="1025.8" cy="555.5" r="18.2"/><circle cx="1026.1" cy="561.1" r="18.2"/><circle cx="1026.4" cy="573.7" r="18.2"/><circle cx="1026.6" cy="553" r="18.2"/><circle cx="1026.9" cy="602" r="18.2"/><circle cx="1027.2" cy="566.4" r="18.2"/><circle cx="1027.5" cy="554.2" r="18.2"/><circle cx="1027.8" cy="558.9" r="18.2"/><circle cx="1028" cy="538.5" r="18.2"/><circle cx="1028.3" cy="599.9" r="18.2"/><circle cx="1028.6" cy="608.8" r="18.2"/><circle cx="1028.9" cy="563" r="18.2"/><circle cx="1029.1" cy="558" r="18.2"/><circle cx="1029.4" cy="514.3" r="18.2"/><circle cx="1029.7" cy="555.1" r="18.2"/><circle cx="1030" cy="595.6" r="18.2"/><circle cx="1030.2" cy="551.5" r="18.2"/><circle cx="1030.5" cy="596.3" r="18.2"/><circle cx="1030.8" cy="614.1" r="18.2"/><circle cx="1031.1" cy="516.5" r="18.2"/><circle cx="1031.4" cy="567.2" r="18.2"/><circle cx="1031.6" cy="557.6" r="18.2"/><circle cx="1031.9" cy="562.3" r="18.2"/><circle cx="1032.2" cy="529.7" r="18.2"/><circle cx="1032.5" cy="571.2" r="18.2"/><circle cx="1032.7" cy="546.9" r="18.2"/><circle cx="1033" cy="607.7" r="18.2"/><circle cx="1033.3" cy="618.1" r="18.2"/><circle cx="1033.6" cy="543.4" r="18.2"/><circle cx="1033.8" cy="542.8" r="18.2"/><circle cx="1034.1" cy="569.3" r="18.2"/><circle cx="1034.4" cy="577.6" r="18.2"/><circle cx="1034.7" cy="579.9" r="18.2"/><circle cx="1035" cy="603.5" r="18.2"/><circle cx="1035.2" cy="544.5" r="18.2"/><circle cx="1035.5" cy="568.8" r="18.2"/><circle cx="1035.8" cy="573.5" r="18.2"/><circle cx="1036.1" cy="577.7" r="18.2"/><circle cx="1036.3" cy="560.3" r="18.2"/><circle cx="1036.6" cy="575.5" r="18.2"/><circle cx="1036.9" cy="569.7" r="18.2"/><circle cx="1037.2" cy="621.7" r="18.2"/><circle cx="1037.4" cy="577.3" r="18.2"/><circle cx="1037.7" cy="533" r="18.2"/><circle cx="1038" cy="606.2" r="18.2"/><circle cx="1038.3" cy="596.4" r="18.2"/><circle cx="1038.6" cy="569.6" r="18.2"/><circle cx="1038.8" cy="568.5" r="18.2"/><circle cx="1039.1" cy="578" r="18.2"/><circle cx="1039.4" cy="638.9" r="18.2"/><circle cx="1039.7" cy="582.6" r="18.2"/><circle cx="1039.9" cy="628.5" r="18.2"/><circle cx="1040.2" cy="619.5" r="18.2"/><circle cx="1040.5" cy="583.1" r="18.2"/><circle cx="1040.8" cy="606.5" r="18.2"/><circle cx="1041" cy="577.3" r="18.2"/><circle cx="1041.3" cy="540.5" r="18.2"/><circle cx="1041.6" cy="579.4" r="18.2"/><circle cx="1041.9" cy="581.5" r="18.2"/><circle cx="1042.1" cy="625.7" r="18.2"/><circle cx="1042.4" cy="619.5" r="18.2"/><circle cx="1042.7" cy="631.4" r="18.2"/><circle cx="1043" cy="617.7" r="18.2"/><circle cx="1043.3" cy="633.4" r="18.2"/><circle cx="1043.5" cy="622.3" r="18.2"/><circle cx="1043.8" cy="610.7" r="18.2"/><circle cx="1044.1" cy="632.7" r="18.2"/><circle cx="1044.4" cy="644.6" r="18.2"/><circle cx="1044.6" cy="643.6" r="18.2"/><circle cx="1044.9" cy="595.2" r="18.2"/><circle cx="1045.2" cy="606.4" r="18.2"/><circle cx="1045.5" cy="580.9" r="18.2"/><circle cx="1045.7" cy="580.9" r="18.2"/><circle cx="1046" cy="619" r="18.2"/><circle cx="1046.3" cy="592.2" r="18.2"/><circle cx="1046.6" cy="649.9" r="18.2"/><circle cx="1046.9" cy="551.9" r="18.2"/><circle cx="1047.1" cy="579.7" r="18.2"/><circle cx="1047.4" cy="618.4" r="18.2"/><circle cx="1047.7" cy="644.7" r="18.2"/><circle cx="1048" cy="603.4" r="18.2"/><circle cx="1048.2" cy="665" r="18.2"/><circle cx="1048.5" cy="636" r="18.2"/><circle cx="1048.8" cy="595.1" r="18.2"/><circle cx="1049.1" cy="613.9" r="18.2"/><circle cx="1049.3" cy="629.8" r="18.2"/><circle cx="1049.6" cy="591.3" r="18.2"/><circle cx="1049.9" cy="645.8" r="18.2"/><circle cx="1050.2" cy="610.4" r="18.2"/><circle cx="1050.5" cy="632.2" r="18.2"/><circle cx="1050.7" cy="642.3" r="18.2"/><circle cx="1051" cy="607.2" r="18.2"/><circle cx="1051.3" cy="647.3" r="18.2"/><circle cx="1051.6" cy="569.2" r="18.2"/><circle cx="1051.8" cy="637.3" r="18.2"/><circle cx="1052.1" cy="567.8" r="18.2"/><circle cx="1052.4" cy="652.3" r="18.2"/><circle cx="1052.7" cy="606.5" r="18.2"/><circle cx="1052.9" cy="656.2" r="18.2"/><circle cx="1053.2" cy="660.6" r="18.2"/><circle cx="1053.5" cy="620.3" r="18.2"/><circle cx="1053.8" cy="606.7" r="18.2"/><circle cx="1054.1" cy="660.4" r="18.2"/><circle cx="1054.3" cy="593.9" r="18.2"/><circle cx="1054.6" cy="648.5" r="18.2"/><circle cx="1054.9" cy="623.7" r="18.2"/><circle cx="1055.2" cy="617.4" r="18.2"/><circle cx="1055.4" cy="612.1" r="18.2"/><circle cx="1055.7" cy="677.9" r="18.2"/><circle cx="1056" cy="585.1" r="18.2"/><circle cx="1056.3" cy="614.5" r="18.2"/><circle cx="1056.5" cy="642" r="18.2"/><circle cx="1056.8" cy="658.8" r="18.2"/><circle cx="1057.1" cy="677.7" r="18.2"/><circle cx="1057.4" cy="669.1" r="18.2"/><circle cx="1057.7" cy="617.5" r="18.2"/><circle cx="1057.9" cy="642.2" r="18.2"/><circle cx="1058.2" cy="664.3" r="18.2"/><circle cx="1058.5" cy="648.3" r="18.2"/><circle cx="1058.8" cy="591.6" r="18.2"/><circle cx="1059" cy="643.9" r="18.2"/><circle cx="1059.3" cy="651.4" r="18.2"/><circle cx="1059.6" cy="599" r="18.2"/><circle cx="1059.9" cy="623.8" r="18.2"/><circle cx="1060.1" cy="635.7" r="18.2"/><circle cx="1060.4" cy="654" r="18.2"/><circle cx="1060.7" cy="680.3" r="18.2"/><circle cx="1061" cy="670.3" r="18.2"/><circle cx="1061.2" cy="652" r="18.2"/><circle cx="1061.5" cy="645.3" r="18.2"/><circle cx="1061.8" cy="630.1" r="18.2"/><circle cx="1062.1" cy="625.3" r="18.2"/><circle cx="1062.4" cy="634.7" r="18.2"/><circle cx="1062.6" cy="635.3" r="18.2"/><circle cx="1062.9" cy="669.3" r="18.2"/><circle cx="1063.2" cy="701.1" r="18.2"/><circle cx="1063.5" cy="657" r="18.2"/><circle cx="1063.7" cy="669.3" r="18.2"/><circle cx="1064" cy="661.5" r="18.2"/><circle cx="1064.3" cy="651.7" r="18.2"/><circle cx="1064.6" cy="678.6" r="18.2"/><circle cx="1064.8" cy="675.5" r="18.2"/><circle cx="1065.1" cy="648.4" r="18.2"/><circle cx="1065.4" cy="643" r="18.2"/><circle cx="1065.7" cy="664.5" r="18.2"/><circle cx="1066" cy="633.5" r="18.2"/><circle cx="1066.2" cy="653.5" r="18.2"/><circle cx="1066.5" cy="675.8" r="18.2"/><circle cx="1066.8" cy="647.4" r="18.2"/><circle cx="1067.1" cy="597.7" r="18.2"/><circle cx="1067.3" cy="667.8" r="18.2"/><circle cx="1067.6" cy="618.1" r="18.2"/><circle cx="1067.9" cy="612.8" r="18.2"/><circle cx="1068.2" cy="610" r="18.2"/><circle cx="1068.4" cy="673.7" r="18.2"/><circle cx="1068.7" cy="596.8" r="18.2"/><circle cx="1069" cy="649" r="18.2"/><circle cx="1069.3" cy="659.5" r="18.2"/><circle cx="1069.6" cy="659.3" r="18.2"/><circle cx="1069.8" cy="637.1" r="18.2"/><circle cx="1070.1" cy="652.5" r="18.2"/><circle cx="1070.4" cy="659.2" r="18.2"/><circle cx="1070.7" cy="619.9" r="18.2"/><circle cx="1070.9" cy="674.9" r="18.2"/><circle cx="1071.2" cy="684" r="18.2"/><circle cx="1071.5" cy="634.5" r="18.2"/><circle cx="1071.8" cy="637.3" r="18.2"/><circle cx="1072" cy="627.1" r="18.2"/><circle cx="1072.3" cy="686.4" r="18.2"/><circle cx="1072.6" cy="628.3" r="18.2"/><circle cx="1072.9" cy="645" r="18.2"/><circle cx="1073.2" cy="610.6" r="18.2"/><circle cx="1073.4" cy="692.8" r="18.2"/><circle cx="1073.7" cy="653.3" r="18.2"/><circle cx="1074" cy="667.2" r="18.2"/><circle cx="1074.3" cy="703.2" r="18.2"/><circle cx="1074.5" cy="679.8" r="18.2"/><circle cx="1074.8" cy="630.2" r="18.2"/><circle cx="1075.1" cy="673.9" r="18.2"/><circle cx="1075.4" cy="681.1" r="18.2"/><circle cx="1075.6" cy="638.3" r="18.2"/><circle cx="1075.9" cy="635.4" r="18.2"/><circle cx="1076.2" cy="635.8" r="18.2"/><circle cx="1076.5" cy="684.4" r="18.2"/><circle cx="1076.7" cy="664.9" r="18.2"/><circle cx="1077" cy="635.7" r="18.2"/><circle cx="1077.3" cy="681.8" r="18.2"/><circle cx="1077.6" cy="684.7" r="18.2"/><circle cx="1077.9" cy="642.2" r="18.2"/><circle cx="1078.1" cy="622.7" r="18.2"/><circle cx="1078.4" cy="696.7" r="18.2"/><circle cx="1078.7" cy="725.4" r="18.2"/><circle cx="1079" cy="705.4" r="18.2"/><circle cx="1079.2" cy="693.9" r="18.2"/><circle cx="1079.5" cy="670.5" r="18.2"/><circle cx="1079.8" cy="650.4" r="18.2"/><circle cx="1080.1" cy="671.4" r="18.2"/><circle cx="1080.3" cy="686.7" r="18.2"/><circle cx="1080.6" cy="663.9" r="18.2"/><circle cx="1080.9" cy="694.5" r="18.2"/><circle cx="1081.2" cy="670" r="18.2"/><circle cx="1081.5" cy="686.4" r="18.2"/><circle cx="1081.7" cy="609.8" r="18.2"/><circle cx="1082" cy="647.6" r="18.2"/><circle cx="1082.3" cy="692.6" r="18.2"/><circle cx="1082.6" cy="697.3" r="18.2"/><circle cx="1082.8" cy="682.5" r="18.2"/><circle cx="1083.1" cy="715.5" r="18.2"/><circle cx="1083.4" cy="691" r="18.2"/><circle cx="1083.7" cy="691.6" r="18.2"/><circle cx="1083.9" cy="648" r="18.2"/><circle cx="1084.2" cy="683.7" r="18.2"/><circle cx="1084.5" cy="693.9" r="18.2"/><circle cx="1084.8" cy="709.1" r="18.2"/><circle cx="1085.1" cy="705" r="18.2"/><circle cx="1085.3" cy="675.2" r="18.2"/><circle cx="1085.6" cy="679.5" r="18.2"/><circle cx="1085.9" cy="643.3" r="18.2"/><circle cx="1086.2" cy="691.3" r="18.2"/><circle cx="1086.4" cy="646" r="18.2"/><circle cx="1086.7" cy="668" r="18.2"/><circle cx="1087" cy="675.3" r="18.2"/><circle cx="1087.3" cy="729.8" r="18.2"/><circle cx="1087.5" cy="710.7" r="18.2"/><circle cx="1087.8" cy="656" r="18.2"/><circle cx="1088.1" cy="638.6" r="18.2"/><circle cx="1088.4" cy="671.1" r="18.2"/><circle cx="1088.7" cy="656.3" r="18.2"/><circle cx="1088.9" cy="688.3" r="18.2"/><circle cx="1089.2" cy="687.6" r="18.2"/><circle cx="1089.5" cy="695.7" r="18.2"/><circle cx="1089.8" cy="651.8" r="18.2"/><circle cx="1090" cy="669.1" r="18.2"/><circle cx="1090.3" cy="685" r="18.2"/><circle cx="1090.6" cy="687.8" r="18.2"/><circle cx="1090.9" cy="664.2" r="18.2"/><circle cx="1091.1" cy="670.8" r="18.2"/><circle cx="1091.4" cy="702.3" r="18.2"/><circle cx="1091.7" cy="633.7" r="18.2"/><circle cx="1092" cy="673.4" r="18.2"/><circle cx="1092.2" cy="680.3" r="18.2"/><circle cx="1092.5" cy="641" r="18.2"/><circle cx="1092.8" cy="653.5" r="18.2"/><circle cx="1093.1" cy="683.8" r="18.2"/><circle cx="1093.4" cy="667.3" r="18.2"/><circle cx="1093.6" cy="710.9" r="18.2"/><circle cx="1093.9" cy="699.6" r="18.2"/><circle cx="1094.2" cy="742" r="18.2"/><circle cx="1094.5" cy="649.9" r="18.2"/><circle cx="1094.7" cy="734.3" r="18.2"/><circle cx="1095" cy="665" r="18.2"/><circle cx="1095.3" cy="706.1" r="18.2"/><circle cx="1095.6" cy="710.3" r="18.2"/><circle cx="1095.8" cy="689.5" r="18.2"/><circle cx="1096.1" cy="677.3" r="18.2"/><circle cx="1096.4" cy="668.2" r="18.2"/><circle cx="1096.7" cy="637.2" r="18.2"/><circle cx="1097" cy="675.6" r="18.2"/><circle cx="1097.2" cy="661.8" r="18.2"/><circle cx="1097.5" cy="702" r="18.2"/><circle cx="1097.8" cy="666.8" r="18.2"/><circle cx="1098.1" cy="682.2" r="18.2"/><circle cx="1098.3" cy="699.1" r="18.2"/><circle cx="1098.6" cy="689.5" r="18.2"/><circle cx="1098.9" cy="688.8" r="18.2"/><circle cx="1099.2" cy="682.3" r="18.2"/><circle cx="1099.4" cy="676.9" r="18.2"/><circle cx="1099.7" cy="701.7" r="18.2"/><circle cx="1100" cy="708.2" r="18.2"/><circle cx="1100.3" cy="668.4" r="18.2"/><circle cx="1100.6" cy="734.5" r="18.2"/><circle cx="1100.8" cy="705.7" r="18.2"/><circle cx="1101.1" cy="647.5" r="18.2"/><circle cx="1101.4" cy="748.9" r="18.2"/><circle cx="1101.7" cy="708.5" r="18.2"/><circle cx="1101.9" cy="671.6" r="18.2"/><circle cx="1102.2" cy="734.8" r="18.2"/><circle cx="1102.5" cy="631.4" r="18.2"/><circle cx="1102.8" cy="750.2" r="18.2"/><circle cx="1103" cy="652.5" r="18.2"/><circle cx="1103.3" cy="649.5" r="18.2"/><circle cx="1103.6" cy="667" r="18.2"/><circle cx="1103.9" cy="697.9" r="18.2"/><circle cx="1104.2" cy="682.6" r="18.2"/><circle cx="1104.4" cy="716.6" r="18.2"/><circle cx="1104.7" cy="671" r="18.2"/><circle cx="1105" cy="723.2" r="18.2"/><circle cx="1105.3" cy="700.6" r="18.2"/><circle cx="1105.5" cy="666.7" r="18.2"/><circle cx="1105.8" cy="723.8" r="18.2"/><circle cx="1106.1" cy="703.9" r="18.2"/><circle cx="1106.4" cy="689.9" r="18.2"/><circle cx="1106.6" cy="730.7" r="18.2"/><circle cx="1106.9" cy="663.5" r="18.2"/><circle cx="1107.2" cy="685.9" r="18.2"/><circle cx="1107.5" cy="736.1" r="18.2"/><circle cx="1107.7" cy="696.9" r="18.2"/><circle cx="1108" cy="716.7" r="18.2"/><circle cx="1108.3" cy="713.8" r="18.2"/><circle cx="1108.6" cy="694.3" r="18.2"/><circle cx="1108.9" cy="715.7" r="18.2"/><circle cx="1109.1" cy="670.9" r="18.2"/><circle cx="1109.4" cy="716.1" r="18.2"/><circle cx="1109.7" cy="671" r="18.2"/><circle cx="1110" cy="698.8" r="18.2"/><circle cx="1110.2" cy="674.9" r="18.2"/><circle cx="1110.5" cy="712.7" r="18.2"/><circle cx="1110.8" cy="712" r="18.2"/><circle cx="1111.1" cy="729.6" r="18.2"/><circle cx="1111.3" cy="683.4" r="18.2"/><circle cx="1111.6" cy="673.9" r="18.2"/><circle cx="1111.9" cy="642.5" r="18.2"/><circle cx="1112.2" cy="665" r="18.2"/><circle cx="1112.5" cy="693.2" r="18.2"/><circle cx="1112.7" cy="705.8" r="18.2"/><circle cx="1113" cy="689.9" r="18.2"/><circle cx="1113.3" cy="701.4" r="18.2"/><circle cx="1113.6" cy="661.6" r="18.2"/><circle cx="1113.8" cy="675.8" r="18.2"/><circle cx="1114.1" cy="723.8" r="18.2"/><circle cx="1114.4" cy="720.1" r="18.2"/><circle cx="1114.7" cy="665.1" r="18.2"/><circle cx="1114.9" cy="693.8" r="18.2"/><circle cx="1115.2" cy="708.6" r="18.2"/><circle cx="1115.5" cy="670.7" r="18.2"/><circle cx="1115.8" cy="713.2" r="18.2"/><circle cx="1116.1" cy="710.6" r="18.2"/><circle cx="1116.3" cy="715.7" r="18.2"/><circle cx="1116.6" cy="756.2" r="18.2"/><circle cx="1116.9" cy="680.6" r="18.2"/><circle cx="1117.2" cy="736.5" r="18.2"/><circle cx="1117.4" cy="719.5" r="18.2"/><circle cx="1117.7" cy="724.5" r="18.2"/><circle cx="1118" cy="685.2" r="18.2"/><circle cx="1118.3" cy="706.8" r="18.2"/><circle cx="1118.5" cy="704.8" r="18.2"/><circle cx="1118.8" cy="750.5" r="18.2"/><circle cx="1119.1" cy="708" r="18.2"/><circle cx="1119.4" cy="745.5" r="18.2"/><circle cx="1119.7" cy="697.9" r="18.2"/><circle cx="1119.9" cy="696.6" r="18.2"/><circle cx="1120.2" cy="707.1" r="18.2"/><circle cx="1120.5" cy="652.1" r="18.2"/><circle cx="1120.8" cy="692.9" r="18.2"/><circle cx="1121" cy="691.4" r="18.2"/><circle cx="1121.3" cy="703.7" r="18.2"/><circle cx="1121.6" cy="713" r="18.2"/><circle cx="1121.9" cy="682.1" r="18.2"/><circle cx="1122.1" cy="678.7" r="18.2"/><circle cx="1122.4" cy="743.3" r="18.2"/><circle cx="1122.7" cy="680.4" r="18.2"/><circle cx="1123" cy="695.2" r="18.2"/><circle cx="1123.2" cy="683.4" r="18.2"/><circle cx="1123.5" cy="696.9" r="18.2"/><circle cx="1123.8" cy="742.9" r="18.2"/><circle cx="1124.1" cy="741.3" r="18.2"/><circle cx="1124.4" cy="661.2" r="18.2"/><circle cx="1124.6" cy="703.5" r="18.2"/><circle cx="1124.9" cy="748.5" r="18.2"/><circle cx="1125.2" cy="701.4" r="18.2"/><circle cx="1125.5" cy="720.6" r="18.2"/><circle cx="1125.7" cy="760.5" r="18.2"/><circle cx="1126" cy="770.3" r="18.2"/><circle cx="1126.3" cy="754.5" r="18.2"/><circle cx="1126.6" cy="704.5" r="18.2"/><circle cx="1126.8" cy="713.3" r="18.2"/><circle cx="1127.1" cy="718.9" r="18.2"/><circle cx="1127.4" cy="704.9" r="18.2"/><circle cx="1127.7" cy="696.6" r="18.2"/><circle cx="1128" cy="769.2" r="18.2"/><circle cx="1128.2" cy="721.2" r="18.2"/><circle cx="1128.5" cy="735.5" r="18.2"/><circle cx="1128.8" cy="746.6" r="18.2"/><circle cx="1129.1" cy="728.4" r="18.2"/><circle cx="1129.3" cy="717.3" r="18.2"/><circle cx="1129.6" cy="721.3" r="18.2"/><circle cx="1129.9" cy="753.3" r="18.2"/><circle cx="1130.2" cy="727.5" r="18.2"/><circle cx="1130.4" cy="660.9" r="18.2"/><circle cx="1130.7" cy="743.2" r="18.2"/><circle cx="1131" cy="760.4" r="18.2"/><circle cx="603.5" cy="123.4" r="18.2"/><circle cx="610.1" cy="130.4" r="18.2"/><circle cx="432.5" cy="383.9" r="18.2"/><circle cx="432.5" cy="434.6" r="18.2"/><circle cx="432.5" cy="479.4" r="18.2"/><circle cx="432.5" cy="494.8" r="18.2"/><circle cx="1118.5" cy="807.2" r="18.2"/>
</g>
<polyline points="300.9,743.4 303,742.7 305.1,742 307.1,741.3 309.2,740.6 311.3,739.8 313.4,739.1 315.4,738.3 317.5,737.6 319.6,736.8 321.7,736 323.7,735.2 325.8,734.3 327.9,733.5 330,732.6 332,731.7 334.1,730.8 336.2,729.9 338.3,728.9 340.3,728 342.4,727 344.5,726 346.6,724.9 348.6,723.9 350.7,722.8 352.8,721.7 354.9,720.6 356.9,719.4 359,718.3 361.1,717.1 363.2,715.8 365.2,714.6 367.3,713.3 369.4,712 371.5,710.7 373.5,709.3 375.6,707.9 377.7,706.4 379.8,705 381.8,703.5 383.9,701.9 386,700.4 388.1,698.7 390.1,697.1 392.2,695.4 394.3,693.6 396.4,691.9 398.4,690 400.5,688.2 402.6,686.3 404.7,684.3 406.7,682.3 408.8,680.2 410.9,678.1 413,675.9 415,673.7 417.1,671.4 419.2,669.1 421.3,666.6 423.3,664.2 425.4,661.6 427.5,659 429.6,656.4 431.6,653.6 433.7,650.8 435.8,647.9 437.9,644.9 439.9,641.9 442,638.7 444.1,635.5 446.2,632.2 448.2,628.8 450.3,625.3 452.4,621.7 454.5,618 456.5,614.2 458.6,610.3 460.7,606.3 462.8,602.2 464.8,598 466.9,593.7 469,589.2 471.1,584.6 473.1,579.9 475.2,575.1 477.3,570.1 479.4,565 481.4,559.8 483.5,554.4 485.6,548.9 487.7,543.3 489.7,537.5 491.8,531.5 493.9,525.4 496,519.2 498,512.8 500.1,506.2 502.2,499.5 504.3,492.7 506.3,485.7 508.4,478.5 510.5,471.2 512.6,463.8 514.7,456.2 516.7,448.5 518.8,440.7 520.9,432.7 523,424.7 525,416.5 527.1,408.2 529.2,399.9 531.3,391.5 533.3,383 535.4,374.6 537.5,366.1 539.6,357.6 541.6,349.1 543.7,340.7 545.8,332.3 547.9,324.1 549.9,316 552,308.1 554.1,300.3 556.2,292.8 558.2,285.5 560.3,278.5 562.4,271.8 564.5,265.5 566.5,259.6 568.6,254.1 570.7,249 572.8,244.5 574.8,240.4 576.9,236.9 579,233.9 581.1,231.5 583.1,229.6 585.2,228.4 587.3,227.8 589.4,227.8 591.4,228.4 593.5,229.6 595.6,231.5 597.7,233.9 599.7,236.9 601.8,240.5 603.9,244.6 606,249.2 608,254.3 610.1,259.9 612.2,265.9 614.3,272.3 616.3,279 618.4,286.1 620.5,293.5 622.6,301.2 624.6,309.1 626.7,317.1 628.8,325.4 630.9,333.8 632.9,342.3 635,350.9 637.1,359.5 639.2,368.2 641.2,376.9 643.3,385.5 645.4,394.2 647.5,402.8 649.5,411.3 651.6,419.7 653.7,428 655.8,436.3 657.8,444.4 659.9,452.4 662,460.3 664.1,468 666.1,475.6 668.2,483 670.3,490.3 672.4,497.4 674.4,504.4 676.5,511.2 678.6,517.9 680.7,524.4 682.7,530.8 684.8,537 686.9,543 689,548.9 691,554.6 693.1,560.2 695.2,565.7 697.3,571 699.3,576.1 701.4,581.2 703.5,586 705.6,590.8 707.6,595.4 709.7,599.9 711.8,604.3 713.9,608.6 716,612.7 718,616.7 720.1,620.7 722.2,624.5 724.3,628.2 726.3,631.8 728.4,635.3 730.5,638.7 732.6,642 734.6,645.2 736.7,648.4 738.8,651.4 740.9,654.4 742.9,657.3 745,660.1 747.1,662.8 749.2,665.5 751.2,668.1 753.3,670.6 755.4,673.1 757.5,675.5 759.5,677.8 761.6,680.1 763.7,682.3 765.8,684.5 767.8,686.6 769.9,688.6 772,690.6 774.1,692.6 776.1,694.5 778.2,696.3 780.3,698.1 782.4,699.9 784.4,701.6 786.5,703.3 788.6,704.9 790.7,706.5 792.7,708 794.8,709.6 796.9,711 799,712.5 801,713.9 803.1,715.3 805.2,716.6 807.3,718 809.3,719.2 811.4,720.5 813.5,721.7 815.6,722.9 817.6,724.1 819.7,725.2 821.8,726.4 823.9,727.5 825.9,728.5 828,729.6 830.1,730.6 832.2,731.6 834.2,732.6 836.3,733.6 838.4,734.5 840.5,735.4 842.5,736.3 844.6,737.2 846.7,738.1 848.8,738.9 850.8,739.7 852.9,740.5 855,741.3 857.1,742.1 859.1,742.9 861.2,743.6 863.3,744.3 865.4,745.1 867.4,745.8 869.5,746.4 871.6,747.1 873.7,747.8 875.7,748.4 877.8,749.1 879.9,749.7 882,750.3 884,750.9 886.1,751.5 888.2,752.1 890.3,752.6 892.3,753.2 894.4,753.7 896.5,754.3 898.6,754.8 900.6,755.3 902.7,755.8 904.8,756.3 906.9,756.8 908.9,757.3 911,757.7 913.1,758.2 915.2,758.6 917.2,759.1 919.3,759.5 921.4,759.9 923.5,760.3 925.6,760.7 927.6,761.1 929.7,761.5 931.8,761.8 933.9,762.2 935.9,762.6 938,762.9 940.1,763.3 942.2,763.6 944.2,763.9 946.3,764.2 948.4,764.6 950.5,764.9 952.5,765.2 954.6,765.5 956.7,765.8 958.8,766 960.8,766.3 962.9,766.6 965,766.9 967.1,767.1 969.1,767.4 971.2,767.6 973.3,767.9 975.4,768.1 977.4,768.4 979.5,768.6 981.6,768.8 983.7,769.1 985.7,769.3 987.8,769.5 989.9,769.7 992,769.9 994,770.1 996.1,770.3 998.2,770.5 1000.3,770.7 1002.3,770.9 1004.4,771.1 1006.5,771.3 1008.6,771.5 1010.6,771.6 1012.7,771.8 1014.8,772 1016.9,772.1 1018.9,772.3 1021,772.5 1023.1,772.6 1025.2,772.8 1027.2,772.9 1029.3,773.1 1031.4,773.2 1033.5,773.4 1035.5,773.5 1037.6,773.7 1039.7,773.8 1041.8,773.9 1043.8,774.1 1045.9,774.2 1048,774.3 1050.1,774.5 1052.1,774.6 1054.2,774.7 1056.3,774.8 1058.4,775 1060.4,775.1 1062.5,775.2 1064.6,775.3 1066.7,775.4 1068.7,775.5 1070.8,775.6 1072.9,775.7 1075,775.8 1077,775.9 1079.1,776.1 1081.2,776.2 1083.3,776.3 1085.3,776.3 1087.4,776.4 1089.5,776.5 1091.6,776.6 1093.6,776.7 1095.7,776.8 1097.8,776.9 1099.9,777 1101.9,777.1 1104,777.2 1106.1,777.3 1108.2,777.3 1110.2,777.4 1112.3,777.5 1114.4,777.6 1116.5,777.7 1118.5,777.7 1120.6,777.8 1122.7,777.9 1124.8,778 1126.8,778 1128.9,778.1 1131,778.2" fill="none" stroke="#0072BD" stroke-width="11.5" stroke-linejoin="round"/>
<polyline points="300.9,781.2 303,781.1 305.1,781.1 307.1,781 309.2,781 311.3,780.9 313.4,780.9 315.4,780.8 317.5,780.8 319.6,780.7 321.7,780.6 323.7,780.6 325.8,780.5 327.9,780.5 330,780.4 332,780.4 334.1,780.3 336.2,780.2 338.3,780.2 340.3,780.1 342.4,780 344.5,780 346.6,779.9 348.6,779.8 350.7,779.8 352.8,779.7 354.9,779.6 356.9,779.6 359,779.5 361.1,779.4 363.2,779.4 365.2,779.3 367.3,779.2 369.4,779.1 371.5,779.1 373.5,779 375.6,778.9 377.7,778.8 379.8,778.7 381.8,778.6 383.9,778.6 386,778.5 388.1,778.4 390.1,778.3 392.2,778.2 394.3,778.1 396.4,778 398.4,777.9 400.5,777.8 402.6,777.7 404.7,777.6 406.7,777.6 408.8,777.4 410.9,777.3 413,777.2 415,777.1 417.1,777 419.2,776.9 421.3,776.8 423.3,776.7 425.4,776.6 427.5,776.5 429.6,776.4 431.6,776.2 433.7,776.1 435.8,776 437.9,775.9 439.9,775.7 442,775.6 444.1,775.5 446.2,775.3 448.2,775.2 450.3,775.1 452.4,774.9 454.5,774.8 456.5,774.7 458.6,774.5 460.7,774.4 462.8,774.2 464.8,774.1 466.9,773.9 469,773.7 471.1,773.6 473.1,773.4 475.2,773.2 477.3,773.1 479.4,772.9 481.4,772.7 483.5,772.5 485.6,772.4 487.7,772.2 489.7,772 491.8,771.8 493.9,771.6 496,771.4 498,771.2 500.1,771 502.2,770.8 504.3,770.6 506.3,770.4 508.4,770.1 510.5,769.9 512.6,769.7 514.7,769.5 516.7,769.2 518.8,769 520.9,768.7 523,768.5 525,768.2 527.1,768 529.2,767.7 531.3,767.5 533.3,767.2 535.4,766.9 537.5,766.6 539.6,766.3 541.6,766 543.7,765.7 545.8,765.4 547.9,765.1 549.9,764.8 552,764.5 554.1,764.1 556.2,763.8 558.2,763.5 560.3,763.1 562.4,762.8 564.5,762.4 566.5,762 568.6,761.7 570.7,761.3 572.8,760.9 574.8,760.5 576.9,760.1 579,759.7 581.1,759.2 583.1,758.8 585.2,758.3 587.3,757.9 589.4,757.4 591.4,757 593.5,756.5 595.6,756 597.7,755.5 599.7,755 601.8,754.5 603.9,753.9 606,753.4 608,752.9 610.1,752.3 612.2,751.7 614.3,751.2 616.3,750.6 618.4,750 620.5,749.4 622.6,748.7 624.6,748.1 626.7,747.4 628.8,746.8 630.9,746.1 632.9,745.4 635,744.7 637.1,744 639.2,743.3 641.2,742.5 643.3,741.7 645.4,741 647.5,740.2 649.5,739.4 651.6,738.5 653.7,737.7 655.8,736.8 657.8,735.9 659.9,735 662,734.1 664.1,733.2 666.1,732.2 668.2,731.2 670.3,730.2 672.4,729.2 674.4,728.2 676.5,727.1 678.6,726 680.7,724.9 682.7,723.8 684.8,722.6 686.9,721.4 689,720.2 691,719 693.1,717.7 695.2,716.4 697.3,715.1 699.3,713.7 701.4,712.3 703.5,710.9 705.6,709.5 707.6,708 709.7,706.5 711.8,704.9 713.9,703.3 716,701.7 718,700 720.1,698.3 722.2,696.6 724.3,694.8 726.3,693 728.4,691.1 730.5,689.2 732.6,687.2 734.6,685.2 736.7,683.2 738.8,681.1 740.9,678.9 742.9,676.7 745,674.5 747.1,672.2 749.2,669.8 751.2,667.4 753.3,664.9 755.4,662.4 757.5,659.8 759.5,657.1 761.6,654.4 763.7,651.6 765.8,648.7 767.8,645.8 769.9,642.8 772,639.7 774.1,636.5 776.1,633.3 778.2,630 780.3,626.6 782.4,623.1 784.4,619.6 786.5,616 788.6,612.2 790.7,608.4 792.7,604.5 794.8,600.6 796.9,596.5 799,592.4 801,588.1 803.1,583.8 805.2,579.3 807.3,574.8 809.3,570.2 811.4,565.5 813.5,560.7 815.6,555.9 817.6,550.9 819.7,545.9 821.8,540.7 823.9,535.5 825.9,530.2 828,524.9 830.1,519.4 832.2,513.9 834.2,508.4 836.3,502.7 838.4,497.1 840.5,491.4 842.5,485.6 844.6,479.8 846.7,474.1 848.8,468.3 850.8,462.5 852.9,456.7 855,450.9 857.1,445.2 859.1,439.6 861.2,434 863.3,428.5 865.4,423.1 867.4,417.8 869.5,412.6 871.6,407.6 873.7,402.7 875.7,398.1 877.8,393.6 879.9,389.3 882,385.3 884,381.5 886.1,378 888.2,374.7 890.3,371.7 892.3,369.1 894.4,366.7 896.5,364.7 898.6,363 900.6,361.7 902.7,360.7 904.8,360.1 906.9,359.8 908.9,359.9 911,360.3 913.1,361.1 915.2,362.2 917.2,363.7 919.3,365.5 921.4,367.6 923.5,370.1 925.6,372.8 927.6,375.9 929.7,379.2 931.8,382.8 933.9,386.6 935.9,390.7 938,395 940.1,399.5 942.2,404.1 944.2,409 946.3,413.9 948.4,419.1 950.5,424.3 952.5,429.6 954.6,435.1 956.7,440.6 958.8,446.1 960.8,451.7 962.9,457.4 965,463 967.1,468.7 969.1,474.3 971.2,480 973.3,485.6 975.4,491.2 977.4,496.8 979.5,502.3 981.6,507.7 983.7,513.2 985.7,518.5 987.8,523.8 989.9,529 992,534.1 994,539.2 996.1,544.2 998.2,549.1 1000.3,553.9 1002.3,558.7 1004.4,563.3 1006.5,567.9 1008.6,572.3 1010.6,576.7 1012.7,581 1014.8,585.3 1016.9,589.4 1018.9,593.4 1021,597.4 1023.1,601.3 1025.2,605 1027.2,608.7 1029.3,612.4 1031.4,615.9 1033.5,619.4 1035.5,622.8 1037.6,626.1 1039.7,629.3 1041.8,632.5 1043.8,635.5 1045.9,638.6 1048,641.5 1050.1,644.4 1052.1,647.2 1054.2,649.9 1056.3,652.6 1058.4,655.2 1060.4,657.8 1062.5,660.3 1064.6,662.7 1066.7,665.1 1068.7,667.4 1070.8,669.7 1072.9,671.9 1075,674.1 1077,676.2 1079.1,678.3 1081.2,680.3 1083.3,682.3 1085.3,684.2 1087.4,686.1 1089.5,687.9 1091.6,689.7 1093.6,691.5 1095.7,693.2 1097.8,694.9 1099.9,696.6 1101.9,698.2 1104,699.7 1106.1,701.3 1108.2,702.8 1110.2,704.3 1112.3,705.7 1114.4,707.1 1116.5,708.5 1118.5,709.8 1120.6,711.2 1122.7,712.4 1124.8,713.7 1126.8,714.9 1128.9,716.2 1131,717.3" fill="none" stroke="#D95319" stroke-width="11.5" stroke-linejoin="round"/>
<polyline points="300.9,727.9 303,727.2 305.1,726.5 307.1,725.7 309.2,725 311.3,724.2 313.4,723.4 315.4,722.6 317.5,721.7 319.6,720.9 321.7,720 323.7,719.2 325.8,718.3 327.9,717.4 330,716.4 332,715.5 334.1,714.5 336.2,713.5 338.3,712.5 340.3,711.5 342.4,710.4 344.5,709.4 346.6,708.3 348.6,707.1 350.7,706 352.8,704.8 354.9,703.7 356.9,702.4 359,701.2 361.1,699.9 363.2,698.6 365.2,697.3 367.3,695.9 369.4,694.5 371.5,693.1 373.5,691.7 375.6,690.2 377.7,688.7 379.8,687.1 381.8,685.5 383.9,683.9 386,682.2 388.1,680.5 390.1,678.8 392.2,677 394.3,675.2 396.4,673.3 398.4,671.4 400.5,669.4 402.6,667.4 404.7,665.4 406.7,663.2 408.8,661.1 410.9,658.9 413,656.6 415,654.2 417.1,651.8 419.2,649.4 421.3,646.9 423.3,644.3 425.4,641.6 427.5,638.9 429.6,636.1 431.6,633.3 433.7,630.3 435.8,627.3 437.9,624.2 439.9,621 442,617.8 444.1,614.4 446.2,611 448.2,607.4 450.3,603.8 452.4,600.1 454.5,596.2 456.5,592.3 458.6,588.3 460.7,584.1 462.8,579.9 464.8,575.5 466.9,571 469,566.4 471.1,561.6 473.1,556.8 475.2,551.8 477.3,546.6 479.4,541.3 481.4,535.9 483.5,530.4 485.6,524.7 487.7,518.9 489.7,512.9 491.8,506.7 493.9,500.4 496,494 498,487.4 500.1,480.6 502.2,473.7 504.3,466.7 506.3,459.5 508.4,452.1 510.5,444.6 512.6,436.9 514.7,429.1 516.7,421.2 518.8,413.1 520.9,404.9 523,396.6 525,388.2 527.1,379.6 529.2,371 531.3,362.4 533.3,353.6 535.4,344.9 537.5,336.1 539.6,327.3 541.6,318.6 543.7,309.8 545.8,301.2 547.9,292.6 549.9,284.2 552,276 554.1,267.9 556.2,260 558.2,252.4 560.3,245 562.4,238 564.5,231.3 566.5,225.1 568.6,219.2 570.7,213.7 572.8,208.8 574.8,204.3 576.9,200.3 579,196.9 581.1,194.1 583.1,191.8 585.2,190.2 587.3,189.1 589.4,188.6 591.4,188.8 593.5,189.5 595.6,190.9 597.7,192.8 599.7,195.3 601.8,198.4 603.9,201.9 606,206 608,210.6 610.1,215.6 612.2,221 614.3,226.8 616.3,233 618.4,239.5 620.5,246.3 622.6,253.3 624.6,260.6 626.7,268 628.8,275.6 630.9,283.3 632.9,291.1 635,299 637.1,306.9 639.2,314.9 641.2,322.8 643.3,330.7 645.4,338.6 647.5,346.3 649.5,354 651.6,361.6 653.7,369.1 655.8,376.5 657.8,383.8 659.9,390.9 662,397.8 664.1,404.6 666.1,411.2 668.2,417.7 670.3,424 672.4,430.1 674.4,436 676.5,441.8 678.6,447.3 680.7,452.7 682.7,458 684.8,463 686.9,467.8 689,472.5 691,477 693.1,481.3 695.2,485.5 697.3,489.5 699.3,493.3 701.4,496.9 703.5,500.4 705.6,503.7 707.6,506.8 709.7,509.8 711.8,512.6 713.9,515.3 716,517.8 718,520.2 720.1,522.4 722.2,524.5 724.3,526.4 726.3,528.2 728.4,529.8 730.5,531.3 732.6,532.7 734.6,533.9 736.7,535 738.8,535.9 740.9,536.8 742.9,537.4 745,538 747.1,538.4 749.2,538.7 751.2,538.9 753.3,538.9 755.4,538.9 757.5,538.7 759.5,538.3 761.6,537.9 763.7,537.3 765.8,536.6 767.8,535.7 769.9,534.8 772,533.7 774.1,532.5 776.1,531.2 778.2,529.7 780.3,528.1 782.4,526.4 784.4,524.6 786.5,522.6 788.6,520.5 790.7,518.3 792.7,516 794.8,513.5 796.9,511 799,508.3 801,505.4 803.1,502.5 805.2,499.4 807.3,496.2 809.3,492.9 811.4,489.4 813.5,485.9 815.6,482.2 817.6,478.4 819.7,474.5 821.8,470.5 823.9,466.4 825.9,462.2 828,457.9 830.1,453.4 832.2,448.9 834.2,444.4 836.3,439.7 838.4,435 840.5,430.2 842.5,425.3 844.6,420.5 846.7,415.5 848.8,410.6 850.8,405.6 852.9,400.7 855,395.7 857.1,390.8 859.1,385.9 861.2,381 863.3,376.3 865.4,371.6 867.4,367 869.5,362.5 871.6,358.1 873.7,353.9 875.7,349.9 877.8,346.1 879.9,342.4 882,339 884,335.8 886.1,332.9 888.2,330.2 890.3,327.8 892.3,325.7 894.4,323.9 896.5,322.4 898.6,321.2 900.6,320.4 902.7,319.9 904.8,319.8 906.9,320 908.9,320.5 911,321.4 913.1,322.7 915.2,324.2 917.2,326.1 919.3,328.4 921.4,330.9 923.5,333.8 925.6,336.9 927.6,340.4 929.7,344.1 931.8,348 933.9,352.2 935.9,356.7 938,361.3 940.1,366.1 942.2,371.1 944.2,376.3 946.3,381.6 948.4,387 950.5,392.6 952.5,398.2 954.6,404 956.7,409.7 958.8,415.6 960.8,421.5 962.9,427.4 965,433.3 967.1,439.2 969.1,445.1 971.2,451 973.3,456.9 975.4,462.8 977.4,468.6 979.5,474.3 981.6,480 983.7,485.6 985.7,491.2 987.8,496.7 989.9,502.1 992,507.5 994,512.8 996.1,517.9 998.2,523 1000.3,528.1 1002.3,533 1004.4,537.8 1006.5,542.6 1008.6,547.2 1010.6,551.8 1012.7,556.3 1014.8,560.6 1016.9,564.9 1018.9,569.2 1021,573.3 1023.1,577.3 1025.2,581.2 1027.2,585.1 1029.3,588.9 1031.4,592.6 1033.5,596.2 1035.5,599.7 1037.6,603.1 1039.7,606.5 1041.8,609.8 1043.8,613 1045.9,616.2 1048,619.2 1050.1,622.3 1052.1,625.2 1054.2,628.1 1056.3,630.9 1058.4,633.6 1060.4,636.3 1062.5,638.9 1064.6,641.4 1066.7,643.9 1068.7,646.4 1070.8,648.7 1072.9,651.1 1075,653.3 1077,655.6 1079.1,657.7 1081.2,659.9 1083.3,661.9 1085.3,664 1087.4,666 1089.5,667.9 1091.6,669.8 1093.6,671.6 1095.7,673.5 1097.8,675.2 1099.9,677 1101.9,678.7 1104,680.3 1106.1,681.9 1108.2,683.5 1110.2,685.1 1112.3,686.6 1114.4,688.1 1116.5,689.6 1118.5,691 1120.6,692.4 1122.7,693.8 1124.8,695.1 1126.8,696.4 1128.9,697.7 1131,698.9" fill="none" stroke="#7E2F8E" stroke-width="11.5" stroke-linejoin="round"/>
<path d="M716 823.7v-9.2M716 116.3v9.2M300.9 587.9h9.2M1131 587.9h-9.2M300.9 352.1h9.2M1131 352.1h-9.2" stroke="#262626" stroke-width="2.8" fill="none"/>
<rect x="300.9" y="116.3" width="830.1" height="707.4" fill="none" stroke="#262626" stroke-width="2.8"/>
<text x="271.5" y="848.4" font-size="66.50" text-anchor="end" fill="#262626">0</text>
<text x="271.5" y="612.6" font-size="66.50" text-anchor="end" fill="#262626">200</text>
<text x="271.5" y="376.8" font-size="66.50" text-anchor="end" fill="#262626">400</text>
<text x="271.5" y="141" font-size="66.50" text-anchor="end" fill="#262626">600</text>
<text x="298.5" y="918" font-size="66.50" text-anchor="middle" fill="#262626">1000</text>
<text x="713.6" y="918" font-size="66.50" text-anchor="middle" fill="#262626">1200</text>
<text x="1128.6" y="918" font-size="66.50" text-anchor="middle" fill="#262626">1400</text>
<text x="712.1" y="1019.6" font-size="73.00" text-anchor="middle" fill="#262626">Wavelength (nm)</text>
<text x="123.5" y="473.2" font-size="73.00" text-anchor="middle" fill="#262626" transform="rotate(-90 123.5 473.2)">PL intensity (a.u.)</text>
</g>
<text x="29.9" y="87.3" font-size="88.00" text-anchor="start" fill="#000" textLength="104.4" lengthAdjust="spacingAndGlyphs">(a)</text>
<text x="1197.8" y="87.3" font-size="88.00" text-anchor="start" fill="#000" textLength="108.2" lengthAdjust="spacingAndGlyphs">(b)</text>
<text x="26.5" y="1075.3" font-size="88.00" text-anchor="start" fill="#000" textLength="99.2" lengthAdjust="spacingAndGlyphs">(c)</text>
<text x="1192.9" y="1075.3" font-size="88.00" text-anchor="start" fill="#000" textLength="109.4" lengthAdjust="spacingAndGlyphs">(d)</text>
<g id="pb">
<path d="M1679.2 831.3v-9.2M1679.2 117v9.2M1896.2 831.3v-9.2M1896.2 117v9.2M2113.2 831.3v-9.2M2113.2 117v9.2M1462.1 652.7h9.2M2330.3 652.7h-9.2M1462.1 474.1h9.2M2330.3 474.1h-9.2M1462.1 295.6h9.2M2330.3 295.6h-9.2" stroke="#262626" stroke-width="2.8" fill="none"/>
<rect x="1462.1" y="117" width="868.2" height="714.3" fill="none" stroke="#262626" stroke-width="2.8"/>
<g fill="none" stroke="#0072BD" stroke-width="2.9"><circle cx="1483.8" cy="821.5" r="17.9"/><path d="M1483.8 820.9V822.1M1465.8 820.9h36M1465.8 822.1h36"/></g>
<g fill="none" stroke="#0072BD" stroke-width="2.9"><circle cx="1570.6" cy="791.5" r="17.9"/><path d="M1570.6 790.9V792.1M1552.6 790.9h36M1552.6 792.1h36"/></g>
<g fill="none" stroke="#0072BD" stroke-width="2.9"><circle cx="1679.2" cy="742.9" r="17.9"/><path d="M1679.2 742.2V743.6M1661.2 742.2h36M1661.2 743.6h36"/></g>
<g fill="none" stroke="#0072BD" stroke-width="2.9"><circle cx="1787.7" cy="677.6" r="17.9"/><path d="M1787.7 676.1V679.1M1769.7 676.1h36M1769.7 679.1h36"/></g>
<g fill="none" stroke="#0072BD" stroke-width="2.9"><circle cx="1896.2" cy="603.2" r="17.9"/><path d="M1896.2 601V605.4M1878.2 601h36M1878.2 605.4h36"/></g>
<g fill="none" stroke="#0072BD" stroke-width="2.9"><circle cx="2004.7" cy="490.9" r="17.9"/><path d="M2004.7 488.4V493.4M1986.7 488.4h36M1986.7 493.4h36"/></g>
<g fill="none" stroke="#0072BD" stroke-width="2.9"><circle cx="2113.2" cy="373.1" r="17.9"/><path d="M2113.2 370.1V376.1M2095.2 370.1h36M2095.2 376.1h36"/></g>
<g fill="none" stroke="#0072BD" stroke-width="2.9"><circle cx="2221.8" cy="238.4" r="17.9"/><path d="M2221.8 234.9V241.9M2203.8 234.9h36M2203.8 241.9h36"/></g>
<g fill="none" stroke="#0072BD" stroke-width="2.9"><circle cx="2252.2" cy="189.7" r="17.9"/><path d="M2252.2 185.7V193.7M2234.2 185.7h36M2234.2 193.7h36"/></g>
<g fill="none" stroke="#D95319" stroke-width="2.9"><circle cx="1483.8" cy="816.7" r="17.9"/><path d="M1483.8 816.1V817.3M1465.8 816.1h36M1465.8 817.3h36"/></g>
<g fill="none" stroke="#D95319" stroke-width="2.9"><circle cx="1570.6" cy="744.6" r="17.9"/><path d="M1570.6 743.8V745.4M1552.6 743.8h36M1552.6 745.4h36"/></g>
<g fill="none" stroke="#D95319" stroke-width="2.9"><circle cx="1679.2" cy="683.7" r="17.9"/><path d="M1679.2 682.5V684.9M1661.2 682.5h36M1661.2 684.9h36"/></g>
<g fill="none" stroke="#D95319" stroke-width="2.9"><circle cx="1787.7" cy="658.1" r="17.9"/><path d="M1787.7 655.6V660.6M1769.7 655.6h36M1769.7 660.6h36"/></g>
<g fill="none" stroke="#D95319" stroke-width="2.9"><circle cx="1896.2" cy="630" r="17.9"/><path d="M1896.2 627.2V632.8M1878.2 627.2h36M1878.2 632.8h36"/></g>
<g fill="none" stroke="#D95319" stroke-width="2.9"><circle cx="2004.7" cy="616.8" r="17.9"/><path d="M2004.7 613.8V619.8M1986.7 613.8h36M1986.7 619.8h36"/></g>
<g fill="none" stroke="#D95319" stroke-width="2.9"><circle cx="2113.2" cy="623.5" r="17.9"/><path d="M2113.2 620.3V626.7M2095.2 620.3h36M2095.2 626.7h36"/></g>
<g fill="none" stroke="#D95319" stroke-width="2.9"><circle cx="2221.8" cy="609.2" r="17.9"/><path d="M2221.8 605.7V612.7M2203.8 605.7h36M2203.8 612.7h36"/></g>
<g fill="none" stroke="#D95319" stroke-width="2.9"><circle cx="2252.2" cy="627.6" r="17.9"/><path d="M2252.2 623.8V631.4M2234.2 623.8h36M2234.2 631.4h36"/></g>
<text x="1434.2" y="856.1" font-size="61.00" text-anchor="end" fill="#262626">0</text>
<text x="1434.2" y="677.5" font-size="61.00" text-anchor="end" fill="#262626">0.5</text>
<text x="1434.2" y="498.9" font-size="61.00" text-anchor="end" fill="#262626">1</text>
<text x="1434.2" y="320.4" font-size="61.00" text-anchor="end" fill="#262626">1.5</text>
<text x="1434.2" y="141.8" font-size="61.00" text-anchor="end" fill="#262626">2</text>
<text x="1459.8" y="919.3" font-size="61.00" text-anchor="middle" fill="#262626">0</text>
<text x="1676.9" y="919.3" font-size="61.00" text-anchor="middle" fill="#262626">1000</text>
<text x="1893.9" y="919.3" font-size="61.00" text-anchor="middle" fill="#262626">2000</text>
<text x="2110.9" y="919.3" font-size="61.00" text-anchor="middle" fill="#262626">3000</text>
<text x="2328" y="919.3" font-size="61.00" text-anchor="middle" fill="#262626">4000</text>
<g fill="none" stroke="#0072BD" stroke-width="2.9"><circle cx="1584.7" cy="221.3" r="18.4"/><path d="M1584.7 194.3V248.3M1566.5 194.3h36.5M1566.5 248.3h36.5"/></g>
<g fill="none" stroke="#D95319" stroke-width="2.9"><circle cx="1584.7" cy="295.3" r="18.4"/><path d="M1584.7 268.3V322.3M1566.5 268.3h36.5M1566.5 322.3h36.5"/></g>
<text x="1688" y="243.3" font-size="54.00" text-anchor="start" fill="#000">P1</text>
<text x="1688" y="317" font-size="54.00" text-anchor="start" fill="#000">P2</text>
<text x="1715.3" y="1008.7" font-size="67.10" text-anchor="start" fill="#262626">Power (</text>
<text x="1950.5" y="1008.7" font-size="72.00" text-anchor="start" fill="#262626" font-family="Liberation Serif, DejaVu Serif, serif" font-style="italic">μ</text>
<text x="1990.2" y="1008.7" font-size="67.10" text-anchor="start" fill="#262626">W)</text>
<text x="1312.7" y="474.6" font-size="67.10" text-anchor="middle" fill="#262626" transform="rotate(-90 1312.7 474.6)">Integrated intensity</text>
<text x="1461.9" y="105.7" font-size="57.00" text-anchor="start" fill="#262626" font-family="DejaVu Sans Light, DejaVu Sans, sans-serif" font-weight="200">×</text>
<text x="1512.6" y="103.5" font-size="59.17" text-anchor="start" fill="#262626">10</text>
<text x="1579.9" y="73" font-size="44.50" text-anchor="start" fill="#262626">5</text>
</g>
<g id="pc">
<path d="M526.4 1888.4v-9.2M526.4 1161.6v9.2M738.9 1888.4v-9.2M738.9 1161.6v9.2M951.3 1888.4v-9.2M951.3 1161.6v9.2M314 1706.7h9.2M1163.7 1706.7h-9.2M314 1525h9.2M1163.7 1525h-9.2M314 1343.3h9.2M1163.7 1343.3h-9.2" stroke="#262626" stroke-width="2.8" fill="none"/>
<rect x="314" y="1161.6" width="849.7" height="726.8" fill="none" stroke="#262626" stroke-width="2.8"/>
<g fill="none" stroke="#0072BD" stroke-width="2.9"><circle cx="335.2" cy="1628.6" r="17.9"/><path d="M335.2 1545V1712.2M317.2 1545h36M317.2 1712.2h36"/></g>
<g fill="none" stroke="#0072BD" stroke-width="2.9"><circle cx="420.2" cy="1817.5" r="17.9"/><path d="M420.2 1803.5V1831.6M402.2 1803.5h36M402.2 1831.6h36"/></g>
<g fill="none" stroke="#0072BD" stroke-width="2.9"><circle cx="526.4" cy="1736.7" r="17.9"/><path d="M526.4 1729V1744.4M508.4 1729h36M508.4 1744.4h36"/></g>
<g fill="none" stroke="#0072BD" stroke-width="2.9"><circle cx="632.6" cy="1578.6" r="17.9"/><path d="M632.6 1571.5V1585.7M614.6 1571.5h36M614.6 1585.7h36"/></g>
<g fill="none" stroke="#0072BD" stroke-width="2.9"><circle cx="738.9" cy="1523.2" r="17.9"/><path d="M738.9 1516.3V1530.1M720.9 1516.3h36M720.9 1530.1h36"/></g>
<g fill="none" stroke="#0072BD" stroke-width="2.9"><circle cx="845.1" cy="1445.5" r="17.9"/><path d="M845.1 1438.2V1452.8M827.1 1438.2h36M827.1 1452.8h36"/></g>
<g fill="none" stroke="#0072BD" stroke-width="2.9"><circle cx="951.3" cy="1411.4" r="17.9"/><path d="M951.3 1405.1V1417.8M933.3 1405.1h36M933.3 1417.8h36"/></g>
<g fill="none" stroke="#0072BD" stroke-width="2.9"><circle cx="1057.5" cy="1402.8" r="17.9"/><path d="M1057.5 1396.9V1408.7M1039.5 1396.9h36M1039.5 1408.7h36"/></g>
<g fill="none" stroke="#0072BD" stroke-width="2.9"><circle cx="1087.2" cy="1391.5" r="17.9"/><path d="M1087.2 1385.8V1397.1M1069.2 1385.8h36M1069.2 1397.1h36"/></g>
<g fill="none" stroke="#D95319" stroke-width="2.9"><circle cx="335.2" cy="1540.4" r="17.9"/><path d="M335.2 1484.1V1596.8M317.2 1484.1h36M317.2 1596.8h36"/></g>
<g fill="none" stroke="#D95319" stroke-width="2.9"><circle cx="420.2" cy="1283.3" r="17.9"/><path d="M420.2 1267.9V1298.8M402.2 1267.9h36M402.2 1298.8h36"/></g>
<g fill="none" stroke="#D95319" stroke-width="2.9"><circle cx="526.4" cy="1292" r="17.9"/><path d="M526.4 1282V1302M508.4 1282h36M508.4 1302h36"/></g>
<g fill="none" stroke="#D95319" stroke-width="2.9"><circle cx="632.6" cy="1358.7" r="17.9"/><path d="M632.6 1349.9V1367.6M614.6 1349.9h36M614.6 1367.6h36"/></g>
<g fill="none" stroke="#D95319" stroke-width="2.9"><circle cx="738.9" cy="1387.8" r="17.9"/><path d="M738.9 1379.5V1396.2M720.9 1379.5h36M720.9 1396.2h36"/></g>
<g fill="none" stroke="#D95319" stroke-width="2.9"><circle cx="845.1" cy="1415.4" r="17.9"/><path d="M845.1 1404.5V1426.3M827.1 1404.5h36M827.1 1426.3h36"/></g>
<g fill="none" stroke="#D95319" stroke-width="2.9"><circle cx="951.3" cy="1481.4" r="17.9"/><path d="M951.3 1469.6V1493.2M933.3 1469.6h36M933.3 1493.2h36"/></g>
<g fill="none" stroke="#D95319" stroke-width="2.9"><circle cx="1057.5" cy="1505" r="17.9"/><path d="M1057.5 1492V1518M1039.5 1492h36M1039.5 1518h36"/></g>
<g fill="none" stroke="#D95319" stroke-width="2.9"><circle cx="1087.2" cy="1532.3" r="17.9"/><path d="M1087.2 1518.6V1545.9M1069.2 1518.6h36M1069.2 1545.9h36"/></g>
<text x="286.4" y="1913.2" font-size="61.00" text-anchor="end" fill="#262626">60</text>
<text x="286.4" y="1731.5" font-size="61.00" text-anchor="end" fill="#262626">80</text>
<text x="286.4" y="1549.8" font-size="61.00" text-anchor="end" fill="#262626">100</text>
<text x="286.4" y="1368.1" font-size="61.00" text-anchor="end" fill="#262626">120</text>
<text x="286.4" y="1186.4" font-size="61.00" text-anchor="end" fill="#262626">140</text>
<text x="311.7" y="1976.4" font-size="61.00" text-anchor="middle" fill="#262626">0</text>
<text x="524.1" y="1976.4" font-size="61.00" text-anchor="middle" fill="#262626">1000</text>
<text x="736.6" y="1976.4" font-size="61.00" text-anchor="middle" fill="#262626">2000</text>
<text x="949" y="1976.4" font-size="61.00" text-anchor="middle" fill="#262626">3000</text>
<text x="1161.4" y="1976.4" font-size="61.00" text-anchor="middle" fill="#262626">4000</text>
<g fill="none" stroke="#0072BD" stroke-width="2.9"><circle cx="900" cy="1703" r="18.4"/><path d="M900 1676V1730M881.8 1676h36.5M881.8 1730h36.5"/></g>
<g fill="none" stroke="#D95319" stroke-width="2.9"><circle cx="900" cy="1779.2" r="18.4"/><path d="M900 1752.2V1806.2M881.8 1752.2h36.5M881.8 1806.2h36.5"/></g>
<text x="1003.3" y="1725.5" font-size="54.00" text-anchor="start" fill="#000">P1</text>
<text x="1003.3" y="1801.6" font-size="54.00" text-anchor="start" fill="#000">P2</text>
<text x="558" y="2065.8" font-size="67.10" text-anchor="start" fill="#262626">Power (</text>
<text x="793.1" y="2065.8" font-size="72.00" text-anchor="start" fill="#262626" font-family="Liberation Serif, DejaVu Serif, serif" font-style="italic">μ</text>
<text x="832.9" y="2065.8" font-size="67.10" text-anchor="start" fill="#262626">W)</text>
<text x="146" y="1525" font-size="67.10" text-anchor="middle" fill="#262626" transform="rotate(-90 146 1525)">Linewidth (meV)</text>
</g>
<g id="pd">
<path d="M1707.3 1888.4v-9.2M1707.3 1161.6v9.2M1916.5 1888.4v-9.2M1916.5 1161.6v9.2M2125.6 1888.4v-9.2M2125.6 1161.6v9.2M1498.1 1777.7h9.2M2334.8 1777.7h-9.2M1498.1 1604.1h9.2M2334.8 1604.1h-9.2M1498.1 1430.6h9.2M2334.8 1430.6h-9.2M1498.1 1257h9.2M2334.8 1257h-9.2" stroke="#262626" stroke-width="2.8" fill="none"/>
<rect x="1498.1" y="1161.6" width="836.7" height="726.8" fill="none" stroke="#262626" stroke-width="2.8"/>
<g fill="none" stroke="#0072BD" stroke-width="2.9"><circle cx="1519" cy="1341.2" r="17.9"/><path d="M1519 1333.7V1348.7M1501 1333.7h36M1501 1348.7h36"/></g>
<g fill="none" stroke="#0072BD" stroke-width="2.9"><circle cx="1602.7" cy="1337.6" r="17.9"/><path d="M1602.7 1336.6V1338.6M1584.7 1336.6h36M1584.7 1338.6h36"/></g>
<g fill="none" stroke="#0072BD" stroke-width="2.9"><circle cx="1707.3" cy="1327.8" r="17.9"/><path d="M1707.3 1326.9V1328.7M1689.3 1326.9h36M1689.3 1328.7h36"/></g>
<g fill="none" stroke="#0072BD" stroke-width="2.9"><circle cx="1811.9" cy="1305.6" r="17.9"/><path d="M1811.9 1304.8V1306.4M1793.9 1304.8h36M1793.9 1306.4h36"/></g>
<g fill="none" stroke="#0072BD" stroke-width="2.9"><circle cx="1916.5" cy="1293.5" r="17.9"/><path d="M1916.5 1292.8V1294.2M1898.5 1292.8h36M1898.5 1294.2h36"/></g>
<g fill="none" stroke="#0072BD" stroke-width="2.9"><circle cx="2021" cy="1277.6" r="17.9"/><path d="M2021 1277V1278.2M2003 1277h36M2003 1278.2h36"/></g>
<g fill="none" stroke="#0072BD" stroke-width="2.9"><circle cx="2125.6" cy="1263.8" r="17.9"/><path d="M2125.6 1263.2V1264.4M2107.6 1263.2h36M2107.6 1264.4h36"/></g>
<g fill="none" stroke="#0072BD" stroke-width="2.9"><circle cx="2230.2" cy="1257.1" r="17.9"/><path d="M2230.2 1256.6V1257.6M2212.2 1256.6h36M2212.2 1257.6h36"/></g>
<g fill="none" stroke="#0072BD" stroke-width="2.9"><circle cx="2259.5" cy="1251.3" r="17.9"/><path d="M2259.5 1250.8V1251.8M2241.5 1250.8h36M2241.5 1251.8h36"/></g>
<g fill="none" stroke="#D95319" stroke-width="2.9"><circle cx="1519" cy="1742.1" r="17.9"/><path d="M1519 1736.6V1747.6M1501 1736.6h36M1501 1747.6h36"/></g>
<g fill="none" stroke="#D95319" stroke-width="2.9"><circle cx="1602.7" cy="1729.5" r="17.9"/><path d="M1602.7 1728.3V1730.7M1584.7 1728.3h36M1584.7 1730.7h36"/></g>
<g fill="none" stroke="#D95319" stroke-width="2.9"><circle cx="1707.3" cy="1732" r="17.9"/><path d="M1707.3 1731.2V1732.8M1689.3 1731.2h36M1689.3 1732.8h36"/></g>
<g fill="none" stroke="#D95319" stroke-width="2.9"><circle cx="1811.9" cy="1740.4" r="17.9"/><path d="M1811.9 1739.7V1741.1M1793.9 1739.7h36M1793.9 1741.1h36"/></g>
<g fill="none" stroke="#D95319" stroke-width="2.9"><circle cx="1916.5" cy="1746.7" r="17.9"/><path d="M1916.5 1746V1747.4M1898.5 1746h36M1898.5 1747.4h36"/></g>
<g fill="none" stroke="#D95319" stroke-width="2.9"><circle cx="2021" cy="1750" r="17.9"/><path d="M2021 1749.3V1750.7M2003 1749.3h36M2003 1750.7h36"/></g>
<g fill="none" stroke="#D95319" stroke-width="2.9"><circle cx="2125.6" cy="1752.9" r="17.9"/><path d="M2125.6 1752.2V1753.6M2107.6 1752.2h36M2107.6 1753.6h36"/></g>
<g fill="none" stroke="#D95319" stroke-width="2.9"><circle cx="2230.2" cy="1756.9" r="17.9"/><path d="M2230.2 1756.2V1757.6M2212.2 1756.2h36M2212.2 1757.6h36"/></g>
<g fill="none" stroke="#D95319" stroke-width="2.9"><circle cx="2259.5" cy="1761.4" r="17.9"/><path d="M2259.5 1760.7V1762.1M2241.5 1760.7h36M2241.5 1762.1h36"/></g>
<text x="1472.6" y="1802.5" font-size="61.00" text-anchor="end" fill="#262626">0.95</text>
<text x="1472.6" y="1628.9" font-size="61.00" text-anchor="end" fill="#262626">1</text>
<text x="1472.6" y="1455.4" font-size="61.00" text-anchor="end" fill="#262626">1.05</text>
<text x="1472.6" y="1281.8" font-size="61.00" text-anchor="end" fill="#262626">1.1</text>
<text x="1495.8" y="1976.4" font-size="61.00" text-anchor="middle" fill="#262626">0</text>
<text x="1705" y="1976.4" font-size="61.00" text-anchor="middle" fill="#262626">1000</text>
<text x="1914.2" y="1976.4" font-size="61.00" text-anchor="middle" fill="#262626">2000</text>
<text x="2123.3" y="1976.4" font-size="61.00" text-anchor="middle" fill="#262626">3000</text>
<text x="2332.5" y="1976.4" font-size="61.00" text-anchor="middle" fill="#262626">4000</text>
<g fill="none" stroke="#0072BD" stroke-width="2.9"><circle cx="2070.4" cy="1466.6" r="18.4"/><path d="M2070.4 1439.6V1493.6M2052.2 1439.6h36.5M2052.2 1493.6h36.5"/></g>
<g fill="none" stroke="#D95319" stroke-width="2.9"><circle cx="2070.4" cy="1542.6" r="18.4"/><path d="M2070.4 1515.6V1569.6M2052.2 1515.6h36.5M2052.2 1569.6h36.5"/></g>
<text x="2173.6" y="1488.2" font-size="54.00" text-anchor="start" fill="#000">P1</text>
<text x="2173.6" y="1564.2" font-size="54.00" text-anchor="start" fill="#000">P2</text>
<text x="1732.2" y="2065.8" font-size="67.10" text-anchor="start" fill="#262626">Power (</text>
<text x="1967.5" y="2065.8" font-size="72.00" text-anchor="start" fill="#262626" font-family="Liberation Serif, DejaVu Serif, serif" font-style="italic">μ</text>
<text x="2007.2" y="2065.8" font-size="67.10" text-anchor="start" fill="#262626">W)</text>
<text x="1317.5" y="1527" font-size="67.10" text-anchor="middle" fill="#262626" transform="rotate(-90 1317.5 1527)">Photon energy (eV)</text>
</g>
</svg>
</body></html>
